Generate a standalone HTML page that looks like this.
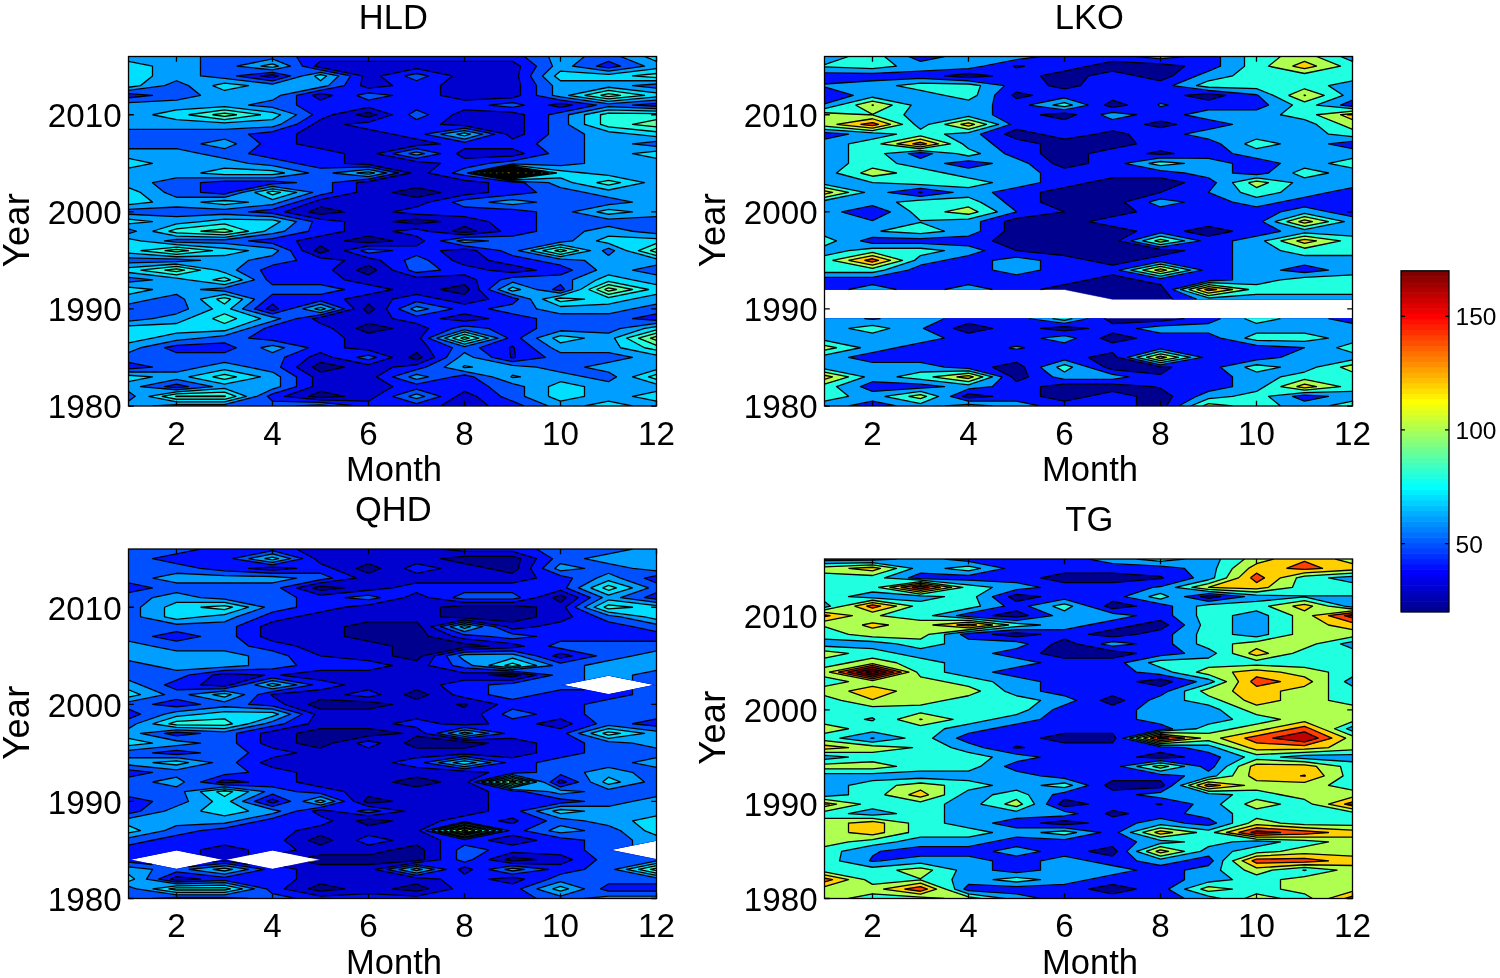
<!DOCTYPE html>
<html><head><meta charset="utf-8"><style>
html,body{margin:0;padding:0;background:#fff;}
svg{display:block;will-change:transform;}
text{font-family:"Liberation Sans",sans-serif;fill:#000;}
.t{font-size:33.2px;}
.l{font-size:34.5px;}
.c{font-size:24.5px;}
</style></head><body>
<svg width="1500" height="978" viewBox="0 0 1500 978">
<rect width="1500" height="978" fill="#fff"/>
<clipPath id="clipHLD"><rect x="128.5" y="56.5" width="528.0" height="349.5"/></clipPath>
<g clip-path="url(#clipHLD)">
<path fill="#00008f" stroke="#00008f" stroke-width="0.6" fill-rule="evenodd" d="M128.5,406L176.5,406L224.5,406L272.5,406L320.5,406L368.5,406L416.5,406L464.5,406L512.5,406L560.5,406L608.5,406L656.5,406L656.5,396.29L656.5,386.58L656.5,376.88L656.5,367.17L656.5,357.46L656.5,347.75L656.5,338.04L656.5,328.33L656.5,318.62L656.5,308.92L656.5,299.21L656.5,289.5L656.5,279.79L656.5,270.08L656.5,260.38L656.5,250.67L656.5,240.96L656.5,231.25L656.5,221.54L656.5,211.83L656.5,202.12L656.5,192.42L656.5,182.71L656.5,173L656.5,163.29L656.5,153.58L656.5,143.88L656.5,134.17L656.5,124.46L656.5,114.75L656.5,105.04L656.5,95.33L656.5,85.62L656.5,75.92L656.5,66.21L656.5,56.5L608.5,56.5L560.5,56.5L512.5,56.5L464.5,56.5L416.5,56.5L368.5,56.5L320.5,56.5L272.5,56.5L224.5,56.5L176.5,56.5L128.5,56.5L128.5,66.21L128.5,75.92L128.5,85.62L128.5,95.33L128.5,105.04L128.5,114.75L128.5,124.46L128.5,134.17L128.5,143.88L128.5,153.58L128.5,163.29L128.5,173L128.5,182.71L128.5,192.42L128.5,202.12L128.5,211.83L128.5,221.54L128.5,231.25L128.5,240.96L128.5,250.67L128.5,260.38L128.5,270.08L128.5,279.79L128.5,289.5L128.5,299.21L128.5,308.92L128.5,318.62L128.5,328.33L128.5,338.04L128.5,347.75L128.5,357.46L128.5,367.17L128.5,376.88L128.5,386.58L128.5,396.29L128.5,406Z"/>
<path fill="#0000cf" stroke="#0000cf" stroke-width="0.6" fill-rule="evenodd" d="M128.5,406L176.5,406L224.5,406L272.5,406L320.5,406L368.5,406L416.5,406L464.5,406L512.5,406L560.5,406L608.5,406L656.5,406L656.5,396.29L656.5,386.58L656.5,376.88L656.5,367.17L656.5,357.46L656.5,347.75L656.5,338.04L656.5,328.33L656.5,318.62L656.5,308.92L656.5,299.21L656.5,289.5L656.5,279.79L656.5,270.08L656.5,260.38L656.5,250.67L656.5,240.96L656.5,231.25L656.5,221.54L656.5,211.83L656.5,202.12L656.5,192.42L656.5,182.71L656.5,173L656.5,163.29L656.5,153.58L656.5,143.88L656.5,134.17L656.5,124.46L656.5,114.75L656.5,105.04L656.5,95.33L656.5,85.62L656.5,75.92L656.5,66.21L656.5,56.5L608.5,56.5L560.5,56.5L512.5,56.5L464.5,56.5L416.5,56.5L368.5,56.5L320.5,56.5L272.5,56.5L224.5,56.5L176.5,56.5L128.5,56.5L128.5,66.21L128.5,75.92L128.5,85.62L128.5,95.33L128.5,105.04L128.5,114.75L128.5,124.46L128.5,134.17L128.5,143.88L128.5,153.58L128.5,163.29L128.5,173L128.5,182.71L128.5,192.42L128.5,202.12L128.5,211.83L128.5,221.54L128.5,231.25L128.5,240.96L128.5,250.67L128.5,260.38L128.5,270.08L128.5,279.79L128.5,289.5L128.5,299.21L128.5,308.92L128.5,318.62L128.5,328.33L128.5,338.04L128.5,347.75L128.5,357.46L128.5,367.17L128.5,376.88L128.5,386.58L128.5,396.29L128.5,406ZM320.5,397.51L308.5,396.29L320.5,391.44L344.5,396.29L320.5,397.51ZM368.5,333.19L356.5,328.33L368.5,323.48L392.5,328.33L368.5,333.19ZM416.5,359.89L408.5,357.46L416.5,352.6L422.5,357.46L416.5,359.89ZM464.5,294.35L440.5,289.5L464.5,284.65L469.3,289.5L464.5,294.35ZM320.5,372.02L312.5,367.17L320.5,362.31L344.5,367.17L320.5,372.02ZM368.5,313.77L363.7,308.92L368.5,304.06L374.5,308.92L368.5,313.77ZM416.5,223.97L392.5,221.54L416.5,219.11L440.5,221.54L416.5,223.97ZM464.5,232.46L452.5,231.25L464.5,226.4L476.5,231.25L464.5,232.46ZM320.5,253.09L314.5,250.67L320.5,245.81L328.5,250.67L320.5,253.09ZM368.5,274.94L356.5,270.08L368.5,265.23L376.5,270.08L368.5,274.94ZM416.5,197.27L392.5,192.42L416.5,187.56L440.5,192.42L416.5,197.27ZM320.5,214.26L308.5,211.83L320.5,206.98L344.5,211.83L320.5,214.26ZM368.5,242.58L344.5,240.96L368.5,236.1L392.5,240.96L368.5,242.58ZM368.5,117.18L356.5,114.75L368.5,112.32L376.5,114.75L368.5,117.18Z"/>
<path fill="#0010ff" stroke="#0010ff" stroke-width="0.6" fill-rule="evenodd" d="M128.5,406L176.5,406L224.5,406L272.5,406L320.5,406L368.5,406L416.5,406L440.5,406L456.5,396.29L464.5,391.44L476.5,396.29L488.5,406L512.5,406L560.5,406L608.5,406L656.5,406L656.5,396.29L656.5,386.58L656.5,376.88L656.5,367.17L656.5,357.46L656.5,347.75L656.5,338.04L656.5,328.33L656.5,318.62L656.5,308.92L656.5,299.21L656.5,289.5L656.5,279.79L656.5,270.08L656.5,260.38L656.5,250.67L656.5,240.96L656.5,231.25L656.5,221.54L656.5,211.83L656.5,202.12L656.5,192.42L656.5,182.71L656.5,173L656.5,163.29L656.5,153.58L656.5,143.88L656.5,134.17L656.5,124.46L656.5,114.75L656.5,105.04L656.5,95.33L656.5,85.62L656.5,75.92L656.5,66.21L656.5,56.5L608.5,56.5L560.5,56.5L512.5,56.5L464.5,56.5L416.5,56.5L368.5,56.5L320.5,56.5L272.5,56.5L224.5,56.5L176.5,56.5L128.5,56.5L128.5,66.21L128.5,75.92L128.5,85.62L128.5,95.33L128.5,105.04L128.5,114.75L128.5,124.46L128.5,134.17L128.5,143.88L128.5,153.58L128.5,163.29L128.5,173L128.5,182.71L128.5,192.42L128.5,202.12L128.5,211.83L128.5,221.54L128.5,231.25L128.5,240.96L128.5,250.67L128.5,260.38L128.5,270.08L128.5,279.79L128.5,289.5L128.5,299.21L128.5,308.92L128.5,318.62L128.5,328.33L128.5,338.04L128.5,347.75L128.5,357.46L128.5,367.17L128.5,376.88L128.5,386.58L128.5,396.29L128.5,406ZM272.5,310.53L266.5,308.92L272.5,304.06L278.5,308.92L272.5,310.53ZM320.5,399.93L284.5,396.29L312.5,386.58L312.5,376.88L296.5,367.17L308.5,357.46L320.5,352.6L332.5,357.46L368.5,364.74L392.5,357.46L368.5,350.18L344.5,347.75L344.5,338.04L332.5,328.33L320.5,323.48L312.5,318.62L320.5,317.41L354.1,308.92L344.5,299.21L368.5,294.35L392.5,289.5L368.5,284.65L344.5,279.79L332.5,270.08L344.5,260.38L320.5,257.95L302.5,250.67L296.5,240.96L320.5,236.1L344.5,231.25L344.5,221.54L320.5,219.11L284.5,211.83L312.5,202.12L320.5,199.7L356.5,192.42L356.5,182.71L368.5,181.49L410.5,173L368.5,164.51L344.5,163.29L344.5,153.58L320.5,148.73L296.5,143.88L296.5,134.17L312.5,124.46L320.5,119.6L332.5,114.75L368.5,107.47L392.5,114.75L368.5,122.03L344.5,124.46L368.5,129.31L392.5,134.17L416.5,139.02L440.5,143.88L416.5,145.49L376.5,153.58L416.5,161.67L440.5,163.29L428.5,173L464.5,180.28L488.5,182.71L488.5,192.42L464.5,194.84L428.5,202.12L416.5,206.98L392.5,211.83L416.5,214.26L464.5,216.69L488.5,221.54L500.5,231.25L464.5,234.89L428.5,231.25L416.5,228.82L392.5,231.25L416.5,236.1L424.5,240.96L416.5,245.81L368.5,245.81L344.5,250.67L368.5,257.95L380.5,260.38L392.5,270.08L416.5,277.36L464.5,274.94L476.5,279.79L478.9,289.5L488.5,299.21L464.5,304.06L440.5,299.21L416.5,294.35L392.5,299.21L386.5,308.92L392.5,318.62L416.5,323.48L428.5,328.33L420.5,338.04L428.5,347.75L434.5,357.46L416.5,364.74L392.5,367.17L376.5,376.88L392.5,386.58L376.5,396.29L368.5,401.15L320.5,399.93ZM464.5,321.05L440.5,318.62L464.5,313.77L488.5,318.62L464.5,321.05ZM512.5,357.83L510.65,357.46L509.5,347.75L512.5,346.13L514.35,347.75L515.5,357.46L512.5,357.83ZM560.5,107.47L548.5,105.04L560.5,103.42L572.5,105.04L560.5,107.47ZM272.5,77.53L260.5,75.92L272.5,74.7L278.5,75.92L272.5,77.53ZM320.5,100.19L312.5,95.33L320.5,93.72L332.5,95.33L320.5,100.19ZM464.5,158.44L456.5,153.58L464.5,148.73L512.5,148.73L524.5,153.58L512.5,156.01L464.5,158.44ZM512.5,272.51L488.5,270.08L464.5,265.23L452.5,260.38L440.5,250.67L464.5,249.05L476.5,250.67L488.5,260.38L512.5,265.23L536.5,270.08L512.5,272.51ZM512.5,139.02L506.5,134.17L464.5,125.67L440.5,124.46L452.5,114.75L464.5,109.9L512.5,112.32L524.5,114.75L524.5,124.46L524.5,134.17L512.5,139.02ZM464.5,100.19L440.5,95.33L440.5,85.62L452.5,75.92L416.5,68.64L380.5,75.92L392.5,85.62L368.5,88.05L360.5,85.62L362.5,75.92L320.5,67.42L314.5,66.21L320.5,61.35L368.5,61.35L416.5,61.35L464.5,61.35L512.5,61.35L520.5,66.21L518.5,75.92L520.5,85.62L520.5,95.33L512.5,97.76L464.5,100.19Z"/>
<path fill="#0050ff" stroke="#0050ff" stroke-width="0.6" fill-rule="evenodd" d="M128.5,406L176.5,406L224.5,406L272.5,406L320.5,406L356.5,406L320.5,402.36L272.5,401.15L267.28,396.29L272.5,393.86L296.5,386.58L296.5,376.88L280.5,367.17L284.5,357.46L308.5,347.75L272.5,340.47L248.5,338.04L264.5,328.33L272.5,325.91L296.5,318.62L320.5,314.98L344.5,308.92L320.5,300.83L290.5,308.92L272.5,313.77L254.5,308.92L266.5,299.21L272.5,294.35L320.5,294.35L344.5,289.5L320.5,284.65L272.5,284.65L266.5,279.79L260.5,270.08L272.5,265.23L296.5,260.38L290.5,250.67L272.5,243.39L248.5,240.96L272.5,238.53L308.5,231.25L312.5,221.54L272.5,213.45L248.5,211.83L272.5,209.41L296.5,202.12L320.5,194.84L332.5,192.42L332.5,182.71L368.5,179.07L398.5,173L368.5,166.93L320.5,168.15L296.5,163.29L272.5,158.44L248.5,153.58L260.5,143.88L248.5,134.17L272.5,131.74L296.5,124.46L312.5,114.75L296.5,105.04L296.5,95.33L320.5,90.48L344.5,85.62L350.5,75.92L320.5,69.85L302.5,66.21L296.5,56.5L272.5,56.5L224.5,56.5L176.5,56.5L128.5,56.5L128.5,66.21L128.5,75.92L128.5,85.62L128.5,93.72L152.5,95.33L128.5,97.76L128.5,105.04L128.5,114.75L128.5,124.46L128.5,134.17L128.5,143.88L128.5,153.58L128.5,163.29L128.5,173L128.5,182.71L128.5,192.42L128.5,202.12L128.5,211.83L128.5,221.54L128.5,231.25L128.5,240.96L128.5,250.67L128.5,260.38L128.5,270.08L128.5,279.79L128.5,289.5L128.5,299.21L128.5,308.92L128.5,318.62L128.5,328.33L128.5,338.04L128.5,347.75L128.5,357.46L128.5,362.31L152.5,367.17L128.5,368.78L128.5,376.88L128.5,386.58L128.5,396.29L128.5,406ZM176.5,387.64L164.5,386.58L176.5,384.16L188.5,386.58L176.5,387.64ZM272.5,80.77L236.5,75.92L272.5,72.28L290.5,75.92L272.5,80.77ZM176.5,352.6L164.5,347.75L176.5,345.32L224.5,342.9L236.5,347.75L224.5,352.6L176.5,352.6ZM224.5,194.03L200.5,192.42L200.5,182.71L224.5,181.09L272.5,181.09L296.5,182.71L272.5,183.92L230.5,192.42L224.5,194.03ZM392.5,396.29L416.5,403.57L440.5,396.29L416.5,389.01L392.5,396.29ZM500.5,396.29L512.5,401.15L524.5,406L560.5,406L608.5,406L656.5,406L656.5,396.29L656.5,386.58L656.5,376.88L656.5,367.17L656.5,357.46L656.5,347.75L656.5,338.04L656.5,328.33L656.5,320.24L632.5,318.62L656.5,313.77L656.5,308.92L656.5,299.21L656.5,289.5L656.5,279.79L656.5,270.08L656.5,260.38L656.5,250.67L656.5,240.96L656.5,231.25L656.5,221.54L656.5,211.83L656.5,202.12L656.5,192.42L656.5,182.71L656.5,173L656.5,163.29L656.5,153.58L656.5,143.88L656.5,134.17L656.5,124.46L656.5,114.75L656.5,106.26L632.5,105.04L656.5,103.42L656.5,95.33L656.5,85.62L656.5,75.92L656.5,66.21L656.5,56.5L608.5,56.5L560.5,56.5L524.5,56.5L536.5,66.21L530.5,75.92L536.5,85.62L536.5,95.33L560.5,100.19L596.5,105.04L560.5,112.32L548.5,114.75L548.5,124.46L548.5,134.17L536.5,143.88L548.5,153.58L512.5,160.86L488.5,163.29L464.5,168.15L452.5,173L464.5,175.43L512.5,182.17L524.5,182.71L536.5,192.42L512.5,194.84L464.5,199.7L452.5,202.12L464.5,206.98L512.5,209.41L536.5,211.83L536.5,221.54L536.5,231.25L512.5,236.1L464.5,237.32L440.5,240.96L464.5,245.81L500.5,250.67L512.5,255.52L536.5,260.38L560.5,265.23L572.5,270.08L560.5,274.94L512.5,277.36L500.5,279.79L488.5,289.5L512.5,297.59L518.5,299.21L512.5,304.06L488.5,308.92L512.5,313.77L536.5,318.62L536.5,328.33L520.5,338.04L532.81,347.75L545.5,357.46L512.5,361.57L492.19,357.46L479.5,347.75L507.7,338.04L488.5,328.33L464.5,325.91L452.5,328.33L428.5,338.04L452.5,347.75L446.5,357.46L425.73,367.17L416.5,369.59L392.5,376.88L416.5,384.16L452.5,376.88L464.5,375.01L473.73,376.88L488.5,386.58L500.5,396.29ZM560.5,290.71L552.5,289.5L560.5,284.65L564.5,289.5L560.5,290.71ZM608.5,67.83L596.5,66.21L608.5,61.35L620.5,66.21L608.5,67.83ZM356.5,357.46L368.5,359.89L376.5,357.46L368.5,355.03L356.5,357.46ZM398.5,308.92L416.5,316.2L452.5,308.92L416.5,301.64L398.5,308.92ZM408.5,270.08L416.5,272.51L440.5,270.08L428.5,260.38L416.5,255.52L404.5,260.38L408.5,270.08ZM360.5,250.67L368.5,253.09L392.5,250.67L368.5,249.05L360.5,250.67ZM392.5,153.58L416.5,158.44L440.5,153.58L416.5,148.73L392.5,153.58ZM424.5,134.17L464.5,142.26L494.5,134.17L464.5,128.1L424.5,134.17ZM408.5,114.75L416.5,119.6L428.5,114.75L416.5,109.9L408.5,114.75ZM488.5,105.04L512.5,107.47L524.5,105.04L512.5,102.61L488.5,105.04ZM356.5,95.33L368.5,100.19L392.5,95.33L368.5,92.91L356.5,95.33ZM404.5,75.92L416.5,80.77L428.5,75.92L416.5,73.49L404.5,75.92Z"/>
<path fill="#009fff" stroke="#009fff" stroke-width="0.6" fill-rule="evenodd" d="M128.5,406L152.5,406L176.5,404.65L224.5,404.65L256.85,396.29L272.5,389.01L280.5,386.58L280.5,376.88L272.5,372.02L248.5,367.17L224.5,362.31L200.5,367.17L176.5,372.02L128.5,372.02L128.5,376.88L128.5,386.58L128.5,391.44L135.17,396.29L128.5,401.15L128.5,406ZM176.5,389.75L140.5,386.58L176.5,379.3L212.5,386.58L176.5,389.75ZM296.5,406L320.5,406L332.5,406L320.5,404.79L296.5,406ZM408.5,396.29L416.5,398.72L424.5,396.29L416.5,393.86L408.5,396.29ZM548.5,406L560.5,406L608.5,406L656.5,406L656.5,396.29L656.5,386.58L656.5,376.88L656.5,367.17L656.5,357.46L656.5,347.75L656.5,338.04L656.5,328.33L656.5,323.48L620.5,328.33L608.5,333.19L560.5,330.76L536.5,338.04L551.27,347.75L560.5,352.6L608.5,352.6L632.5,357.46L608.5,362.31L584.5,367.17L608.5,372.02L616.5,376.88L608.5,381.73L584.5,376.88L560.5,372.02L536.5,367.17L512.5,365.3L473.73,357.46L464.5,352.6L458.5,357.46L444.19,367.17L464.5,371.27L492.19,376.88L512.5,383.55L524.5,386.58L524.5,396.29L548.5,406ZM408.5,376.88L416.5,379.3L428.5,376.88L416.5,374.45L408.5,376.88ZM128.5,347.75L128.5,352.6L140.5,347.75L176.5,340.47L200.5,338.04L224.5,335.61L248.5,328.33L272.5,321.05L280.5,318.62L272.5,317.01L242.5,308.92L254.5,299.21L224.5,291.12L200.5,289.5L224.5,287.88L254.5,279.79L236.5,270.08L248.5,260.38L272.5,255.52L278.5,250.67L272.5,248.24L224.5,243.39L176.5,242.17L164.5,240.96L176.5,239.34L224.5,239.74L272.5,233.68L284.5,231.25L296.5,221.54L272.5,216.69L224.5,214.26L176.5,216.69L128.5,214.26L128.5,221.54L128.5,228.82L136.5,231.25L128.5,233.68L128.5,240.96L128.5,250.67L128.5,257.95L176.5,259.16L200.5,260.38L176.5,261.59L128.5,262.8L128.5,270.08L128.5,277.36L152.5,279.79L128.5,282.22L128.5,289.5L128.5,299.21L128.5,304.06L152.5,299.21L176.5,294.35L184.5,299.21L188.5,308.92L176.5,313.77L152.5,318.62L128.5,321.05L128.5,328.33L128.5,338.04L128.5,347.75ZM260.5,347.75L272.5,352.6L284.5,347.75L272.5,345.32L260.5,347.75ZM436.5,338.04L464.5,346.54L498.1,338.04L464.5,329.55L436.5,338.04ZM302.5,308.92L320.5,312.56L334.9,308.92L320.5,304.06L302.5,308.92ZM410.5,308.92L416.5,311.34L428.5,308.92L416.5,306.49L410.5,308.92ZM536.5,308.92L560.5,313.77L608.5,313.77L632.5,308.92L656.5,304.06L656.5,299.21L656.5,289.5L656.5,279.79L656.5,274.94L632.5,270.08L656.5,265.23L656.5,260.38L656.5,250.67L656.5,240.96L656.5,233.68L632.5,231.25L608.5,226.4L584.5,231.25L572.5,240.96L560.5,242.17L518.5,250.67L560.5,259.16L584.5,260.38L596.5,270.08L572.5,279.79L572.5,289.5L560.5,293.14L536.5,289.5L512.5,282.22L498.1,289.5L512.5,294.35L530.5,299.21L536.5,308.92ZM608.5,255.52L602.5,250.67L608.5,248.24L614.5,250.67L608.5,255.52ZM456.5,240.96L464.5,242.58L488.5,240.96L464.5,239.74L456.5,240.96ZM572.5,211.83L608.5,219.11L656.5,216.69L656.5,211.83L656.5,202.12L656.5,192.42L656.5,182.71L656.5,173L656.5,163.29L656.5,153.58L656.5,146.3L632.5,143.88L656.5,141.45L656.5,134.17L656.5,124.46L656.5,114.75L656.5,108.68L608.5,106.66L568.5,114.75L568.5,124.46L584.5,134.17L584.5,143.88L584.5,153.58L584.5,163.29L560.5,165.72L512.5,163.9L467.5,173L512.5,181.09L548.5,182.71L560.5,187.56L584.5,192.42L608.5,197.27L632.5,202.12L608.5,204.55L572.5,211.83ZM128.5,202.12L128.5,209.41L176.5,206.98L224.5,209.41L272.5,204.55L280.5,202.12L312.5,192.42L272.5,186.35L242.5,192.42L224.5,197.27L176.5,197.27L164.5,192.42L152.5,182.71L176.5,177.85L224.5,177.85L272.5,177.85L308.5,173L272.5,165.72L248.5,163.29L224.5,158.44L200.5,153.58L176.5,148.73L128.5,148.73L128.5,153.58L128.5,163.29L128.5,173L128.5,182.71L128.5,192.42L128.5,202.12ZM488.5,202.12L512.5,204.55L536.5,202.12L512.5,199.7L488.5,202.12ZM332.5,173L368.5,176.64L386.5,173L368.5,169.36L332.5,173ZM408.5,153.58L416.5,155.2L424.5,153.58L416.5,151.97L408.5,153.58ZM200.5,143.88L224.5,148.73L236.5,143.88L224.5,139.02L200.5,143.88ZM440.5,134.17L464.5,139.02L482.5,134.17L464.5,130.53L440.5,134.17ZM128.5,124.46L128.5,129.31L176.5,129.31L224.5,129.31L272.5,126.89L280.5,124.46L296.5,114.75L272.5,107.47L248.5,105.04L272.5,100.19L280.5,95.33L320.5,87.24L328.5,85.62L338.5,75.92L320.5,72.28L302.5,75.92L272.5,84.01L224.5,78.34L200.5,75.92L200.5,66.21L200.5,56.5L176.5,56.5L128.5,56.5L128.5,66.21L128.5,75.92L128.5,85.62L128.5,90.48L164.5,85.62L176.5,80.77L188.5,85.62L200.5,95.33L176.5,100.19L128.5,102.61L128.5,105.04L128.5,114.75L128.5,124.46ZM552.5,95.33L560.5,96.95L608.5,103.83L656.5,100.19L656.5,95.33L656.5,88.05L632.5,85.62L656.5,84.01L656.5,75.92L656.5,66.21L656.5,56.5L620.5,56.5L644.5,66.21L608.5,71.06L572.5,66.21L584.5,56.5L560.5,56.5L548.5,56.5L552.5,66.21L542.5,75.92L552.5,85.62L552.5,95.33ZM236.5,66.21L272.5,69.85L290.5,66.21L272.5,58.93L236.5,66.21Z"/>
<path fill="#00dfff" stroke="#00dfff" stroke-width="0.6" fill-rule="evenodd" d="M148.5,396.29L176.5,401.95L224.5,401.95L246.41,396.29L224.5,388.45L176.5,391.86L148.5,396.29ZM548.5,396.29L560.5,401.15L584.5,396.29L584.5,386.58L560.5,381.73L548.5,386.58L548.5,396.29ZM584.5,406L608.5,406L632.5,406L608.5,401.15L584.5,406ZM632.5,396.29L656.5,401.15L656.5,396.29L656.5,391.44L632.5,396.29ZM128.5,376.88L128.5,381.73L152.5,376.88L128.5,375.26L128.5,376.88ZM188.5,376.88L224.5,384.16L260.5,376.88L224.5,369.59L188.5,376.88ZM510.65,376.88L512.5,377.48L520.5,376.88L512.5,375.26L510.65,376.88ZM632.5,376.88L656.5,384.16L656.5,376.88L656.5,369.59L632.5,376.88ZM462.65,367.17L464.5,367.54L472.5,367.17L464.5,365.55L462.65,367.17ZM620.5,347.75L656.5,355.03L656.5,347.75L656.5,338.04L656.5,328.33L656.5,326.72L644.5,328.33L614.5,338.04L620.5,347.75ZM128.5,338.04L128.5,342.9L152.5,338.04L176.5,333.19L224.5,330.76L232.5,328.33L260.5,318.62L230.5,308.92L242.5,299.21L224.5,294.35L200.5,299.21L212.5,308.92L188.5,318.62L176.5,323.48L128.5,325.91L128.5,328.33L128.5,338.04ZM444.5,338.04L464.5,344.11L488.5,338.04L464.5,331.97L444.5,338.04ZM552.5,338.04L560.5,342.9L584.5,338.04L560.5,335.61L552.5,338.04ZM314.5,308.92L320.5,310.13L325.3,308.92L320.5,307.3L314.5,308.92ZM542.5,299.21L560.5,306.49L608.5,304.06L632.5,299.21L656.5,294.35L656.5,289.5L656.5,284.65L632.5,279.79L608.5,274.94L596.5,279.79L580.5,289.5L560.5,295.57L542.5,299.21ZM128.5,289.5L128.5,294.35L152.5,289.5L128.5,287.07L128.5,289.5ZM507.7,289.5L512.5,291.12L520.5,289.5L512.5,287.07L507.7,289.5ZM188.5,279.79L224.5,284.65L242.5,279.79L224.5,272.51L216.5,270.08L176.5,264.02L128.5,267.66L128.5,270.08L128.5,272.51L176.5,278.17L188.5,279.79ZM128.5,250.67L128.5,253.09L176.5,256.73L224.5,255.52L248.5,250.67L224.5,248.24L176.5,244.6L140.5,240.96L128.5,238.53L128.5,240.96L128.5,250.67ZM530.5,250.67L560.5,256.73L590.5,250.67L560.5,244.6L530.5,250.67ZM626.5,250.67L656.5,258.76L656.5,250.67L656.5,240.96L656.5,238.53L608.5,236.1L596.5,240.96L608.5,243.39L626.5,250.67ZM152.5,231.25L176.5,236.1L224.5,237.32L264.5,231.25L272.5,226.4L280.5,221.54L272.5,219.92L224.5,219.11L200.5,221.54L176.5,223.97L152.5,231.25ZM128.5,221.54L128.5,223.97L152.5,221.54L128.5,219.11L128.5,221.54ZM596.5,211.83L608.5,214.26L632.5,211.83L608.5,209.41L596.5,211.83ZM128.5,202.12L128.5,204.55L152.5,202.12L140.5,192.42L128.5,187.56L128.5,192.42L128.5,202.12ZM200.5,202.12L224.5,204.55L248.5,202.12L224.5,200.51L200.5,202.12ZM254.5,192.42L272.5,199.7L296.5,192.42L272.5,188.78L254.5,192.42ZM572.5,182.71L608.5,189.99L644.5,182.71L608.5,175.43L584.5,173L560.5,170.57L512.5,165.11L473.5,173L512.5,180.01L560.5,177.85L572.5,182.71ZM200.5,173L224.5,174.62L272.5,174.62L284.5,173L272.5,170.57L224.5,168.15L200.5,173ZM356.5,173L368.5,174.21L374.5,173L368.5,171.79L356.5,173ZM128.5,163.29L128.5,168.15L152.5,163.29L128.5,158.44L128.5,163.29ZM632.5,153.58L656.5,158.44L656.5,153.58L656.5,151.16L632.5,153.58ZM456.5,134.17L464.5,135.78L470.5,134.17L464.5,132.95L456.5,134.17ZM632.5,134.17L656.5,136.59L656.5,134.17L656.5,124.46L656.5,114.75L656.5,111.11L608.5,109.9L584.5,114.75L584.5,124.46L608.5,131.74L632.5,134.17ZM152.5,114.75L176.5,119.6L224.5,122.84L272.5,119.6L280.5,114.75L272.5,112.32L224.5,106.66L176.5,109.9L152.5,114.75ZM568.5,95.33L608.5,101.4L656.5,96.95L656.5,95.33L656.5,92.91L608.5,87.24L568.5,95.33ZM128.5,85.62L128.5,87.24L140.5,85.62L152.5,75.92L152.5,66.21L128.5,61.35L128.5,66.21L128.5,75.92L128.5,85.62ZM212.5,85.62L224.5,90.48L248.5,85.62L224.5,83.2L212.5,85.62ZM314.5,75.92L320.5,80.77L326.5,75.92L320.5,74.7L314.5,75.92ZM554.5,75.92L560.5,80.77L608.5,80.77L656.5,80.77L656.5,75.92L656.5,68.64L608.5,74.3L560.5,71.06L554.5,75.92ZM260.5,66.21L272.5,67.42L278.5,66.21L272.5,63.78L260.5,66.21ZM644.5,56.5L656.5,61.35L656.5,56.5L644.5,56.5Z"/>
<path fill="#20ffdf" stroke="#20ffdf" stroke-width="0.6" fill-rule="evenodd" d="M161.83,396.29L176.5,399.26L224.5,399.26L235.98,396.29L224.5,392.18L176.5,393.97L161.83,396.29ZM212.5,376.88L224.5,379.3L236.5,376.88L224.5,374.45L212.5,376.88ZM648.5,376.88L656.5,379.3L656.5,376.88L656.5,374.45L648.5,376.88ZM644.5,347.75L656.5,350.18L656.5,347.75L656.5,338.04L656.5,329.95L626.5,338.04L644.5,347.75ZM452.5,338.04L464.5,341.68L478.9,338.04L464.5,334.4L452.5,338.04ZM212.5,318.62L224.5,323.48L236.5,318.62L224.5,313.77L212.5,318.62ZM216.5,299.21L224.5,304.06L230.5,299.21L224.5,297.59L216.5,299.21ZM554.5,299.21L560.5,301.64L584.5,299.21L560.5,297.99L554.5,299.21ZM588.5,289.5L608.5,297.59L648.5,289.5L608.5,281.41L588.5,289.5ZM212.5,279.79L224.5,281.41L230.5,279.79L224.5,277.36L212.5,279.79ZM140.5,270.08L176.5,274.94L200.5,270.08L176.5,266.44L140.5,270.08ZM140.5,250.67L176.5,254.31L212.5,250.67L176.5,247.03L140.5,250.67ZM542.5,250.67L560.5,254.31L578.5,250.67L560.5,247.03L542.5,250.67ZM638.5,250.67L656.5,255.52L656.5,250.67L656.5,243.39L638.5,250.67ZM168.5,231.25L176.5,232.87L224.5,234.89L248.5,231.25L224.5,223.97L176.5,228.82L168.5,231.25ZM266.5,192.42L272.5,194.84L280.5,192.42L272.5,191.2L266.5,192.42ZM596.5,182.71L608.5,185.14L620.5,182.71L608.5,180.28L596.5,182.71ZM479.5,173L512.5,178.93L556.5,173L512.5,166.33L479.5,173ZM600.5,124.46L608.5,126.89L656.5,131.74L656.5,124.46L656.5,114.75L656.5,113.54L608.5,113.13L600.5,114.75L600.5,124.46ZM188.5,114.75L224.5,119.6L260.5,114.75L224.5,109.9L188.5,114.75ZM584.5,95.33L608.5,98.97L644.5,95.33L608.5,90.48L584.5,95.33ZM632.5,75.92L656.5,77.53L656.5,75.92L656.5,73.49L632.5,75.92Z"/>
<path fill="#60ff9f" stroke="#60ff9f" stroke-width="0.6" fill-rule="evenodd" d="M175.17,396.29L176.5,396.56L224.5,396.56L225.54,396.29L224.5,395.92L176.5,396.08L175.17,396.29ZM460.5,338.04L464.5,339.26L469.3,338.04L464.5,336.83L460.5,338.04ZM638.5,338.04L656.5,345.32L656.5,338.04L656.5,333.19L638.5,338.04ZM596.5,289.5L608.5,294.35L632.5,289.5L608.5,284.65L596.5,289.5ZM164.5,270.08L176.5,271.7L184.5,270.08L176.5,268.87L164.5,270.08ZM164.5,250.67L176.5,251.88L188.5,250.67L176.5,249.45L164.5,250.67ZM554.5,250.67L560.5,251.88L566.5,250.67L560.5,249.45L554.5,250.67ZM650.5,250.67L656.5,252.28L656.5,250.67L656.5,248.24L650.5,250.67ZM200.5,231.25L224.5,232.46L232.5,231.25L224.5,228.82L200.5,231.25ZM485.5,173L512.5,177.85L548.5,173L512.5,167.54L485.5,173ZM632.5,124.46L656.5,126.89L656.5,124.46L656.5,119.6L632.5,124.46ZM212.5,114.75L224.5,116.37L236.5,114.75L224.5,113.13L212.5,114.75ZM600.5,95.33L608.5,96.55L620.5,95.33L608.5,93.72L600.5,95.33Z"/>
<path fill="#afff50" stroke="#afff50" stroke-width="0.6" fill-rule="evenodd" d="M650.5,338.04L656.5,340.47L656.5,338.04L656.5,336.42L650.5,338.04ZM604.5,289.5L608.5,291.12L616.5,289.5L608.5,287.88L604.5,289.5ZM491.5,173L512.5,176.78L540.5,173L512.5,168.75L491.5,173Z"/>
<path fill="#efff10" stroke="#efff10" stroke-width="0.6" fill-rule="evenodd" d="M497.5,173L512.5,175.7L532.5,173L512.5,169.97L497.5,173Z"/>
<path fill="#ffcf00" stroke="#ffcf00" stroke-width="0.6" fill-rule="evenodd" d="M503.5,173L512.5,174.62L524.5,173L512.5,171.18L503.5,173Z"/>
<path fill="#ff8f00" stroke="#ff8f00" stroke-width="0.6" fill-rule="evenodd" d="M509.5,173L512.5,173.54L516.5,173L512.5,172.39L509.5,173Z"/>
<path fill="none" stroke="#000" stroke-width="1.3" stroke-linejoin="round" d="M320.5,397.51L308.5,396.29L320.5,391.44L344.5,396.29L320.5,397.51M320.5,372.02L312.5,367.17L320.5,362.31L344.5,367.17L320.5,372.02M416.5,359.89L408.5,357.46L416.5,352.6L422.5,357.46L416.5,359.89M368.5,333.19L356.5,328.33L368.5,323.48L392.5,328.33L368.5,333.19M368.5,313.77L363.7,308.92L368.5,304.06L374.5,308.92L368.5,313.77M464.5,294.35L440.5,289.5L464.5,284.65L469.3,289.5L464.5,294.35M368.5,274.94L356.5,270.08L368.5,265.23L376.5,270.08L368.5,274.94M320.5,253.09L314.5,250.67L320.5,245.81L328.5,250.67L320.5,253.09M368.5,242.58L344.5,240.96L368.5,236.1L392.5,240.96L368.5,242.58M464.5,232.46L452.5,231.25L464.5,226.4L476.5,231.25L464.5,232.46M416.5,223.97L392.5,221.54L416.5,219.11L440.5,221.54L416.5,223.97M320.5,214.26L308.5,211.83L320.5,206.98L344.5,211.83L320.5,214.26M416.5,197.27L392.5,192.42L416.5,187.56L440.5,192.42L416.5,197.27M368.5,117.18L356.5,114.75L368.5,112.32L376.5,114.75L368.5,117.18M320.5,399.93L284.5,396.29L312.5,386.58L312.5,376.88L296.5,367.17L308.5,357.46L320.5,352.6L332.5,357.46L368.5,364.74L392.5,357.46L368.5,350.18L344.5,347.75L344.5,338.04L332.5,328.33L320.5,323.48L312.5,318.62L320.5,317.41L354.1,308.92L344.5,299.21L368.5,294.35L392.5,289.5L368.5,284.65L344.5,279.79L332.5,270.08L344.5,260.38L320.5,257.95L302.5,250.67L296.5,240.96L320.5,236.1L344.5,231.25L344.5,221.54L320.5,219.11L284.5,211.83L312.5,202.12L320.5,199.7L356.5,192.42L356.5,182.71L368.5,181.49L410.5,173L368.5,164.51L344.5,163.29L344.5,153.58L320.5,148.73L296.5,143.88L296.5,134.17L312.5,124.46L320.5,119.6L332.5,114.75L368.5,107.47L392.5,114.75L368.5,122.03L344.5,124.46L368.5,129.31L392.5,134.17L416.5,139.02L440.5,143.88L416.5,145.49L376.5,153.58L416.5,161.67L440.5,163.29L428.5,173L464.5,180.28L488.5,182.71L488.5,192.42L464.5,194.84L428.5,202.12L416.5,206.98L392.5,211.83L416.5,214.26L464.5,216.69L488.5,221.54L500.5,231.25L464.5,234.89L428.5,231.25L416.5,228.82L392.5,231.25L416.5,236.1L424.5,240.96L416.5,245.81L368.5,245.81L344.5,250.67L368.5,257.95L380.5,260.38L392.5,270.08L416.5,277.36L464.5,274.94L476.5,279.79L478.9,289.5L488.5,299.21L464.5,304.06L440.5,299.21L416.5,294.35L392.5,299.21L386.5,308.92L392.5,318.62L416.5,323.48L428.5,328.33L420.5,338.04L428.5,347.75L434.5,357.46L416.5,364.74L392.5,367.17L376.5,376.88L392.5,386.58L376.5,396.29L368.5,401.15L320.5,399.93M440.5,406L456.5,396.29L464.5,391.44L476.5,396.29L488.5,406M512.5,357.83L510.65,357.46L509.5,347.75L512.5,346.13L514.35,347.75L515.5,357.46L512.5,357.83M464.5,321.05L440.5,318.62L464.5,313.77L488.5,318.62L464.5,321.05M272.5,310.53L266.5,308.92L272.5,304.06L278.5,308.92L272.5,310.53M512.5,272.51L488.5,270.08L464.5,265.23L452.5,260.38L440.5,250.67L464.5,249.05L476.5,250.67L488.5,260.38L512.5,265.23L536.5,270.08L512.5,272.51M464.5,158.44L456.5,153.58L464.5,148.73L512.5,148.73L524.5,153.58L512.5,156.01L464.5,158.44M512.5,139.02L506.5,134.17L464.5,125.67L440.5,124.46L452.5,114.75L464.5,109.9L512.5,112.32L524.5,114.75L524.5,124.46L524.5,134.17L512.5,139.02M560.5,107.47L548.5,105.04L560.5,103.42L572.5,105.04L560.5,107.47M320.5,100.19L312.5,95.33L320.5,93.72L332.5,95.33L320.5,100.19M464.5,100.19L440.5,95.33L440.5,85.62L452.5,75.92L416.5,68.64L380.5,75.92L392.5,85.62L368.5,88.05L360.5,85.62L362.5,75.92L320.5,67.42L314.5,66.21L320.5,61.35L368.5,61.35L416.5,61.35L464.5,61.35L512.5,61.35L520.5,66.21L518.5,75.92L520.5,85.62L520.5,95.33L512.5,97.76L464.5,100.19M272.5,77.53L260.5,75.92L272.5,74.7L278.5,75.92L272.5,77.53M356.5,406L320.5,402.36L272.5,401.15L267.28,396.29L272.5,393.86L296.5,386.58L296.5,376.88L280.5,367.17L284.5,357.46L308.5,347.75L272.5,340.47L248.5,338.04L264.5,328.33L272.5,325.91L296.5,318.62L320.5,314.98L344.5,308.92L320.5,300.83L290.5,308.92L272.5,313.77L254.5,308.92L266.5,299.21L272.5,294.35L320.5,294.35L344.5,289.5L320.5,284.65L272.5,284.65L266.5,279.79L260.5,270.08L272.5,265.23L296.5,260.38L290.5,250.67L272.5,243.39L248.5,240.96L272.5,238.53L308.5,231.25L312.5,221.54L272.5,213.45L248.5,211.83L272.5,209.41L296.5,202.12L320.5,194.84L332.5,192.42L332.5,182.71L368.5,179.07L398.5,173L368.5,166.93L320.5,168.15L296.5,163.29L272.5,158.44L248.5,153.58L260.5,143.88L248.5,134.17L272.5,131.74L296.5,124.46L312.5,114.75L296.5,105.04L296.5,95.33L320.5,90.48L344.5,85.62L350.5,75.92L320.5,69.85L302.5,66.21L296.5,56.5M392.5,396.29L416.5,403.57L440.5,396.29L416.5,389.01L392.5,396.29M176.5,387.64L164.5,386.58L176.5,384.16L188.5,386.58L176.5,387.64M128.5,362.31L152.5,367.17L128.5,368.78M356.5,357.46L368.5,359.89L376.5,357.46L368.5,355.03L356.5,357.46M176.5,352.6L164.5,347.75L176.5,345.32L224.5,342.9L236.5,347.75L224.5,352.6L176.5,352.6M656.5,320.24L632.5,318.62L656.5,313.77M398.5,308.92L416.5,316.2L452.5,308.92L416.5,301.64L398.5,308.92M560.5,290.71L552.5,289.5L560.5,284.65L564.5,289.5L560.5,290.71M408.5,270.08L416.5,272.51L440.5,270.08L428.5,260.38L416.5,255.52L404.5,260.38L408.5,270.08M360.5,250.67L368.5,253.09L392.5,250.67L368.5,249.05L360.5,250.67M224.5,194.03L200.5,192.42L200.5,182.71L224.5,181.09L272.5,181.09L296.5,182.71L272.5,183.92L230.5,192.42L224.5,194.03M392.5,153.58L416.5,158.44L440.5,153.58L416.5,148.73L392.5,153.58M424.5,134.17L464.5,142.26L494.5,134.17L464.5,128.1L424.5,134.17M408.5,114.75L416.5,119.6L428.5,114.75L416.5,109.9L408.5,114.75M488.5,105.04L512.5,107.47L524.5,105.04L512.5,102.61L488.5,105.04M656.5,106.26L632.5,105.04L656.5,103.42M356.5,95.33L368.5,100.19L392.5,95.33L368.5,92.91L356.5,95.33M128.5,93.72L152.5,95.33L128.5,97.76M272.5,80.77L236.5,75.92L272.5,72.28L290.5,75.92L272.5,80.77M404.5,75.92L416.5,80.77L428.5,75.92L416.5,73.49L404.5,75.92M608.5,67.83L596.5,66.21L608.5,61.35L620.5,66.21L608.5,67.83M524.5,56.5L536.5,66.21L530.5,75.92L536.5,85.62L536.5,95.33L560.5,100.19L596.5,105.04L560.5,112.32L548.5,114.75L548.5,124.46L548.5,134.17L536.5,143.88L548.5,153.58L512.5,160.86L488.5,163.29L464.5,168.15L452.5,173L464.5,175.43L512.5,182.17L524.5,182.71L536.5,192.42L512.5,194.84L464.5,199.7L452.5,202.12L464.5,206.98L512.5,209.41L536.5,211.83L536.5,221.54L536.5,231.25L512.5,236.1L464.5,237.32L440.5,240.96L464.5,245.81L500.5,250.67L512.5,255.52L536.5,260.38L560.5,265.23L572.5,270.08L560.5,274.94L512.5,277.36L500.5,279.79L488.5,289.5L512.5,297.59L518.5,299.21L512.5,304.06L488.5,308.92L512.5,313.77L536.5,318.62L536.5,328.33L520.5,338.04L532.81,347.75L545.5,357.46L512.5,361.57L492.19,357.46L479.5,347.75L507.7,338.04L488.5,328.33L464.5,325.91L452.5,328.33L428.5,338.04L452.5,347.75L446.5,357.46L425.73,367.17L416.5,369.59L392.5,376.88L416.5,384.16L452.5,376.88L464.5,375.01L473.73,376.88L488.5,386.58L500.5,396.29L512.5,401.15L524.5,406M152.5,406L176.5,404.65L224.5,404.65L256.85,396.29L272.5,389.01L280.5,386.58L280.5,376.88L272.5,372.02L248.5,367.17L224.5,362.31L200.5,367.17L176.5,372.02L128.5,372.02M332.5,406L320.5,404.79L296.5,406M408.5,396.29L416.5,398.72L424.5,396.29L416.5,393.86L408.5,396.29M128.5,391.44L135.17,396.29L128.5,401.15M176.5,389.75L140.5,386.58L176.5,379.3L212.5,386.58L176.5,389.75M408.5,376.88L416.5,379.3L428.5,376.88L416.5,374.45L408.5,376.88M128.5,352.6L140.5,347.75L176.5,340.47L200.5,338.04L224.5,335.61L248.5,328.33L272.5,321.05L280.5,318.62L272.5,317.01L242.5,308.92L254.5,299.21L224.5,291.12L200.5,289.5L224.5,287.88L254.5,279.79L236.5,270.08L248.5,260.38L272.5,255.52L278.5,250.67L272.5,248.24L224.5,243.39L176.5,242.17L164.5,240.96L176.5,239.34L224.5,239.74L272.5,233.68L284.5,231.25L296.5,221.54L272.5,216.69L224.5,214.26L176.5,216.69L128.5,214.26M260.5,347.75L272.5,352.6L284.5,347.75L272.5,345.32L260.5,347.75M436.5,338.04L464.5,346.54L498.1,338.04L464.5,329.55L436.5,338.04M656.5,323.48L620.5,328.33L608.5,333.19L560.5,330.76L536.5,338.04L551.27,347.75L560.5,352.6L608.5,352.6L632.5,357.46L608.5,362.31L584.5,367.17L608.5,372.02L616.5,376.88L608.5,381.73L584.5,376.88L560.5,372.02L536.5,367.17L512.5,365.3L473.73,357.46L464.5,352.6L458.5,357.46L444.19,367.17L464.5,371.27L492.19,376.88L512.5,383.55L524.5,386.58L524.5,396.29L548.5,406M302.5,308.92L320.5,312.56L334.9,308.92L320.5,304.06L302.5,308.92M410.5,308.92L416.5,311.34L428.5,308.92L416.5,306.49L410.5,308.92M128.5,304.06L152.5,299.21L176.5,294.35L184.5,299.21L188.5,308.92L176.5,313.77L152.5,318.62L128.5,321.05M128.5,277.36L152.5,279.79L128.5,282.22M656.5,274.94L632.5,270.08L656.5,265.23M128.5,257.95L176.5,259.16L200.5,260.38L176.5,261.59L128.5,262.8M608.5,255.52L602.5,250.67L608.5,248.24L614.5,250.67L608.5,255.52M456.5,240.96L464.5,242.58L488.5,240.96L464.5,239.74L456.5,240.96M656.5,233.68L632.5,231.25L608.5,226.4L584.5,231.25L572.5,240.96L560.5,242.17L518.5,250.67L560.5,259.16L584.5,260.38L596.5,270.08L572.5,279.79L572.5,289.5L560.5,293.14L536.5,289.5L512.5,282.22L498.1,289.5L512.5,294.35L530.5,299.21L536.5,308.92L560.5,313.77L608.5,313.77L632.5,308.92L656.5,304.06M128.5,228.82L136.5,231.25L128.5,233.68M128.5,209.41L176.5,206.98L224.5,209.41L272.5,204.55L280.5,202.12L312.5,192.42L272.5,186.35L242.5,192.42L224.5,197.27L176.5,197.27L164.5,192.42L152.5,182.71L176.5,177.85L224.5,177.85L272.5,177.85L308.5,173L272.5,165.72L248.5,163.29L224.5,158.44L200.5,153.58L176.5,148.73L128.5,148.73M488.5,202.12L512.5,204.55L536.5,202.12L512.5,199.7L488.5,202.12M332.5,173L368.5,176.64L386.5,173L368.5,169.36L332.5,173M408.5,153.58L416.5,155.2L424.5,153.58L416.5,151.97L408.5,153.58M200.5,143.88L224.5,148.73L236.5,143.88L224.5,139.02L200.5,143.88M656.5,146.3L632.5,143.88L656.5,141.45M440.5,134.17L464.5,139.02L482.5,134.17L464.5,130.53L440.5,134.17M128.5,129.31L176.5,129.31L224.5,129.31L272.5,126.89L280.5,124.46L296.5,114.75L272.5,107.47L248.5,105.04L272.5,100.19L280.5,95.33L320.5,87.24L328.5,85.62L338.5,75.92L320.5,72.28L302.5,75.92L272.5,84.01L224.5,78.34L200.5,75.92L200.5,66.21L200.5,56.5M656.5,108.68L608.5,106.66L568.5,114.75L568.5,124.46L584.5,134.17L584.5,143.88L584.5,153.58L584.5,163.29L560.5,165.72L512.5,163.9L467.5,173L512.5,181.09L548.5,182.71L560.5,187.56L584.5,192.42L608.5,197.27L632.5,202.12L608.5,204.55L572.5,211.83L608.5,219.11L656.5,216.69M128.5,90.48L164.5,85.62L176.5,80.77L188.5,85.62L200.5,95.33L176.5,100.19L128.5,102.61M656.5,88.05L632.5,85.62L656.5,84.01M236.5,66.21L272.5,69.85L290.5,66.21L272.5,58.93L236.5,66.21M548.5,56.5L552.5,66.21L542.5,75.92L552.5,85.62L552.5,95.33L560.5,96.95L608.5,103.83L656.5,100.19M620.5,56.5L644.5,66.21L608.5,71.06L572.5,66.21L584.5,56.5M148.5,396.29L176.5,401.95L224.5,401.95L246.41,396.29L224.5,388.45L176.5,391.86L148.5,396.29M548.5,396.29L560.5,401.15L584.5,396.29L584.5,386.58L560.5,381.73L548.5,386.58L548.5,396.29M632.5,406L608.5,401.15L584.5,406M656.5,391.44L632.5,396.29L656.5,401.15M128.5,381.73L152.5,376.88L128.5,375.26M188.5,376.88L224.5,384.16L260.5,376.88L224.5,369.59L188.5,376.88M510.65,376.88L512.5,377.48L520.5,376.88L512.5,375.26L510.65,376.88M462.65,367.17L464.5,367.54L472.5,367.17L464.5,365.55L462.65,367.17M656.5,369.59L632.5,376.88L656.5,384.16M128.5,342.9L152.5,338.04L176.5,333.19L224.5,330.76L232.5,328.33L260.5,318.62L230.5,308.92L242.5,299.21L224.5,294.35L200.5,299.21L212.5,308.92L188.5,318.62L176.5,323.48L128.5,325.91M444.5,338.04L464.5,344.11L488.5,338.04L464.5,331.97L444.5,338.04M552.5,338.04L560.5,342.9L584.5,338.04L560.5,335.61L552.5,338.04M656.5,326.72L644.5,328.33L614.5,338.04L620.5,347.75L656.5,355.03M314.5,308.92L320.5,310.13L325.3,308.92L320.5,307.3L314.5,308.92M128.5,294.35L152.5,289.5L128.5,287.07M507.7,289.5L512.5,291.12L520.5,289.5L512.5,287.07L507.7,289.5M656.5,284.65L632.5,279.79L608.5,274.94L596.5,279.79L580.5,289.5L560.5,295.57L542.5,299.21L560.5,306.49L608.5,304.06L632.5,299.21L656.5,294.35M128.5,272.51L176.5,278.17L188.5,279.79L224.5,284.65L242.5,279.79L224.5,272.51L216.5,270.08L176.5,264.02L128.5,267.66M128.5,253.09L176.5,256.73L224.5,255.52L248.5,250.67L224.5,248.24L176.5,244.6L140.5,240.96L128.5,238.53M530.5,250.67L560.5,256.73L590.5,250.67L560.5,244.6L530.5,250.67M152.5,231.25L176.5,236.1L224.5,237.32L264.5,231.25L272.5,226.4L280.5,221.54L272.5,219.92L224.5,219.11L200.5,221.54L176.5,223.97L152.5,231.25M656.5,238.53L608.5,236.1L596.5,240.96L608.5,243.39L626.5,250.67L656.5,258.76M128.5,223.97L152.5,221.54L128.5,219.11M596.5,211.83L608.5,214.26L632.5,211.83L608.5,209.41L596.5,211.83M128.5,204.55L152.5,202.12L140.5,192.42L128.5,187.56M200.5,202.12L224.5,204.55L248.5,202.12L224.5,200.51L200.5,202.12M254.5,192.42L272.5,199.7L296.5,192.42L272.5,188.78L254.5,192.42M572.5,182.71L608.5,189.99L644.5,182.71L608.5,175.43L584.5,173L560.5,170.57L512.5,165.11L473.5,173L512.5,180.01L560.5,177.85L572.5,182.71M200.5,173L224.5,174.62L272.5,174.62L284.5,173L272.5,170.57L224.5,168.15L200.5,173M356.5,173L368.5,174.21L374.5,173L368.5,171.79L356.5,173M128.5,168.15L152.5,163.29L128.5,158.44M656.5,151.16L632.5,153.58L656.5,158.44M456.5,134.17L464.5,135.78L470.5,134.17L464.5,132.95L456.5,134.17M152.5,114.75L176.5,119.6L224.5,122.84L272.5,119.6L280.5,114.75L272.5,112.32L224.5,106.66L176.5,109.9L152.5,114.75M656.5,111.11L608.5,109.9L584.5,114.75L584.5,124.46L608.5,131.74L632.5,134.17L656.5,136.59M128.5,87.24L140.5,85.62L152.5,75.92L152.5,66.21L128.5,61.35M212.5,85.62L224.5,90.48L248.5,85.62L224.5,83.2L212.5,85.62M656.5,92.91L608.5,87.24L568.5,95.33L608.5,101.4L656.5,96.95M314.5,75.92L320.5,80.77L326.5,75.92L320.5,74.7L314.5,75.92M260.5,66.21L272.5,67.42L278.5,66.21L272.5,63.78L260.5,66.21M656.5,68.64L608.5,74.3L560.5,71.06L554.5,75.92L560.5,80.77L608.5,80.77L656.5,80.77M644.5,56.5L656.5,61.35M161.83,396.29L176.5,399.26L224.5,399.26L235.98,396.29L224.5,392.18L176.5,393.97L161.83,396.29M212.5,376.88L224.5,379.3L236.5,376.88L224.5,374.45L212.5,376.88M656.5,374.45L648.5,376.88L656.5,379.3M452.5,338.04L464.5,341.68L478.9,338.04L464.5,334.4L452.5,338.04M656.5,329.95L626.5,338.04L644.5,347.75L656.5,350.18M212.5,318.62L224.5,323.48L236.5,318.62L224.5,313.77L212.5,318.62M216.5,299.21L224.5,304.06L230.5,299.21L224.5,297.59L216.5,299.21M554.5,299.21L560.5,301.64L584.5,299.21L560.5,297.99L554.5,299.21M588.5,289.5L608.5,297.59L648.5,289.5L608.5,281.41L588.5,289.5M212.5,279.79L224.5,281.41L230.5,279.79L224.5,277.36L212.5,279.79M140.5,270.08L176.5,274.94L200.5,270.08L176.5,266.44L140.5,270.08M140.5,250.67L176.5,254.31L212.5,250.67L176.5,247.03L140.5,250.67M542.5,250.67L560.5,254.31L578.5,250.67L560.5,247.03L542.5,250.67M656.5,243.39L638.5,250.67L656.5,255.52M168.5,231.25L176.5,232.87L224.5,234.89L248.5,231.25L224.5,223.97L176.5,228.82L168.5,231.25M266.5,192.42L272.5,194.84L280.5,192.42L272.5,191.2L266.5,192.42M596.5,182.71L608.5,185.14L620.5,182.71L608.5,180.28L596.5,182.71M479.5,173L512.5,178.93L556.5,173L512.5,166.33L479.5,173M188.5,114.75L224.5,119.6L260.5,114.75L224.5,109.9L188.5,114.75M656.5,113.54L608.5,113.13L600.5,114.75L600.5,124.46L608.5,126.89L656.5,131.74M584.5,95.33L608.5,98.97L644.5,95.33L608.5,90.48L584.5,95.33M656.5,73.49L632.5,75.92L656.5,77.53M175.17,396.29L176.5,396.56L224.5,396.56L225.54,396.29L224.5,395.92L176.5,396.08L175.17,396.29M460.5,338.04L464.5,339.26L469.3,338.04L464.5,336.83L460.5,338.04M656.5,333.19L638.5,338.04L656.5,345.32M596.5,289.5L608.5,294.35L632.5,289.5L608.5,284.65L596.5,289.5M164.5,270.08L176.5,271.7L184.5,270.08L176.5,268.87L164.5,270.08M164.5,250.67L176.5,251.88L188.5,250.67L176.5,249.45L164.5,250.67M554.5,250.67L560.5,251.88L566.5,250.67L560.5,249.45L554.5,250.67M656.5,248.24L650.5,250.67L656.5,252.28M200.5,231.25L224.5,232.46L232.5,231.25L224.5,228.82L200.5,231.25M485.5,173L512.5,177.85L548.5,173L512.5,167.54L485.5,173M212.5,114.75L224.5,116.37L236.5,114.75L224.5,113.13L212.5,114.75M656.5,119.6L632.5,124.46L656.5,126.89M600.5,95.33L608.5,96.55L620.5,95.33L608.5,93.72L600.5,95.33M656.5,336.42L650.5,338.04L656.5,340.47M604.5,289.5L608.5,291.12L616.5,289.5L608.5,287.88L604.5,289.5M491.5,173L512.5,176.78L540.5,173L512.5,168.75L491.5,173M497.5,173L512.5,175.7L532.5,173L512.5,169.97L497.5,173M503.5,173L512.5,174.62L524.5,173L512.5,171.18L503.5,173M509.5,173L512.5,173.54L516.5,173L512.5,172.39L509.5,173"/>
</g>
<rect x="128.5" y="56.5" width="528.0" height="349.5" fill="none" stroke="#000" stroke-width="1.3"/>
<path stroke="#000" stroke-width="1.3" d="M176.5,406V400.7M176.5,56.5V61.8M272.5,406V400.7M272.5,56.5V61.8M368.5,406V400.7M368.5,56.5V61.8M464.5,406V400.7M464.5,56.5V61.8M560.5,406V400.7M560.5,56.5V61.8M656.5,406V400.7M656.5,56.5V61.8M128.5,406H133.8M656.5,406H651.2M128.5,308.92H133.8M656.5,308.92H651.2M128.5,211.83H133.8M656.5,211.83H651.2M128.5,114.75H133.8M656.5,114.75H651.2"/>
<text class="t" x="176.5" y="444.6" text-anchor="middle">2</text>
<text class="t" x="272.5" y="444.6" text-anchor="middle">4</text>
<text class="t" x="368.5" y="444.6" text-anchor="middle">6</text>
<text class="t" x="464.5" y="444.6" text-anchor="middle">8</text>
<text class="t" x="560.5" y="444.6" text-anchor="middle">10</text>
<text class="t" x="656.5" y="444.6" text-anchor="middle">12</text>
<text class="t" x="121.7" y="418.3" text-anchor="end">1980</text>
<text class="t" x="121.7" y="321.22" text-anchor="end">1990</text>
<text class="t" x="121.7" y="224.13" text-anchor="end">2000</text>
<text class="t" x="121.7" y="127.05" text-anchor="end">2010</text>
<text class="l" x="394" y="481" text-anchor="middle">Month</text>
<text class="l" style="font-size:36px;letter-spacing:0.4px" transform="translate(29.3,230.05) rotate(-90)" x="0" y="0" text-anchor="middle">Year</text>
<text class="l" x="393.3" y="28.5" text-anchor="middle">HLD</text>
<clipPath id="clipLKO"><rect x="824.5" y="56.5" width="528.0" height="349.5"/></clipPath>
<g clip-path="url(#clipLKO)">
<path fill="#00008f" stroke="#00008f" stroke-width="0.6" fill-rule="evenodd" d="M824.5,406L872.5,406L920.5,406L968.5,406L1016.5,406L1064.5,406L1112.5,406L1160.5,406L1208.5,406L1256.5,406L1304.5,406L1352.5,406L1352.5,396.29L1352.5,386.58L1352.5,376.88L1352.5,367.17L1352.5,357.46L1352.5,347.75L1352.5,338.04L1352.5,328.33L1352.5,318.62L1304.5,318.62L1256.5,318.62L1208.5,318.62L1160.5,318.62L1112.5,318.62L1064.5,318.62L1016.5,318.62L968.5,318.62L920.5,318.62L872.5,318.62L824.5,318.62L824.5,328.33L824.5,338.04L824.5,347.75L824.5,357.46L824.5,367.17L824.5,376.88L824.5,386.58L824.5,396.29L824.5,406ZM1064.5,289.5L1112.5,299.21L1160.5,299.21L1208.5,299.21L1256.5,299.21L1304.5,299.21L1352.5,299.21L1352.5,289.5L1352.5,279.79L1352.5,270.08L1352.5,260.38L1352.5,250.67L1352.5,240.96L1352.5,231.25L1352.5,221.54L1352.5,211.83L1352.5,202.12L1352.5,192.42L1352.5,182.71L1352.5,173L1352.5,163.29L1352.5,153.58L1352.5,143.88L1352.5,134.17L1352.5,124.46L1352.5,114.75L1352.5,105.04L1352.5,95.33L1352.5,85.62L1352.5,75.92L1352.5,66.21L1352.5,56.5L1304.5,56.5L1256.5,56.5L1208.5,56.5L1160.5,56.5L1112.5,56.5L1064.5,56.5L1016.5,56.5L968.5,56.5L920.5,56.5L872.5,56.5L824.5,56.5L824.5,66.21L824.5,75.92L824.5,85.62L824.5,95.33L824.5,105.04L824.5,114.75L824.5,124.46L824.5,134.17L824.5,143.88L824.5,153.58L824.5,163.29L824.5,173L824.5,182.71L824.5,192.42L824.5,202.12L824.5,211.83L824.5,221.54L824.5,231.25L824.5,240.96L824.5,250.67L824.5,260.38L824.5,270.08L824.5,279.79L824.5,289.5L872.5,289.5L920.5,289.5L968.5,289.5L1016.5,289.5L1064.5,289.5Z"/>
<path fill="#0010ff" stroke="#0010ff" stroke-width="0.6" fill-rule="evenodd" d="M824.5,406L872.5,406L920.5,406L968.5,406L1016.5,406L1064.5,406L1112.5,406L1136.5,406L1136.5,396.29L1112.5,391.44L1088.5,396.29L1064.5,401.15L1040.5,396.29L1040.5,386.58L1064.5,384.16L1112.5,384.16L1152.5,386.58L1160.5,388.2L1172.5,396.29L1166.5,406L1208.5,406L1256.5,406L1304.5,406L1352.5,406L1352.5,396.29L1352.5,386.58L1352.5,376.88L1352.5,367.17L1352.5,357.46L1352.5,347.75L1352.5,338.04L1352.5,328.33L1352.5,318.62L1304.5,318.62L1256.5,318.62L1208.5,318.62L1184.5,318.62L1160.5,321.05L1112.5,323.48L1104.5,318.62L1064.5,318.62L1016.5,318.62L968.5,318.62L920.5,318.62L872.5,318.62L824.5,318.62L824.5,328.33L824.5,338.04L824.5,347.75L824.5,357.46L824.5,367.17L824.5,376.88L824.5,386.58L824.5,396.29L824.5,406ZM968.5,397.91L962.5,396.29L968.5,393.86L992.5,396.29L968.5,397.91ZM1016.5,381.73L1011.7,376.88L992.5,367.17L1016.5,362.31L1024.5,367.17L1028.5,376.88L1016.5,381.73ZM1064.5,330.76L1040.5,328.33L1064.5,326.72L1088.5,328.33L1064.5,330.76ZM1112.5,369.59L1104.5,367.17L1088.5,357.46L1112.5,352.6L1117.3,357.46L1160.5,366.85L1171.58,367.17L1160.5,374.45L1112.5,369.59ZM968.5,333.19L953.5,328.33L968.5,323.48L992.5,328.33L968.5,333.19ZM1112.5,342.9L1100.5,338.04L1112.5,333.19L1136.5,338.04L1112.5,342.9ZM1172.5,299.21L1208.5,299.21L1256.5,299.21L1304.5,299.21L1352.5,299.21L1352.5,289.5L1352.5,279.79L1352.5,270.08L1352.5,260.38L1352.5,250.67L1352.5,240.96L1352.5,231.25L1352.5,221.54L1352.5,211.83L1352.5,202.12L1352.5,192.42L1352.5,182.71L1352.5,173L1352.5,163.29L1352.5,153.58L1352.5,143.88L1352.5,134.17L1352.5,124.46L1352.5,114.75L1352.5,105.04L1352.5,95.33L1352.5,85.62L1352.5,75.92L1352.5,66.21L1352.5,56.5L1304.5,56.5L1256.5,56.5L1208.5,56.5L1160.5,56.5L1112.5,56.5L1064.5,56.5L1016.5,56.5L968.5,56.5L920.5,56.5L872.5,56.5L824.5,56.5L824.5,66.21L824.5,75.92L824.5,85.62L824.5,95.33L824.5,105.04L824.5,114.75L824.5,124.46L824.5,134.17L824.5,143.88L824.5,153.58L824.5,163.29L824.5,173L824.5,182.71L824.5,192.42L824.5,202.12L824.5,211.83L824.5,221.54L824.5,231.25L824.5,240.96L824.5,250.67L824.5,260.38L824.5,270.08L824.5,279.79L824.5,289.5L872.5,289.5L920.5,289.5L968.5,289.5L1016.5,289.5L1040.5,289.5L1064.5,284.65L1088.5,279.79L1112.5,274.94L1136.5,279.79L1160.5,284.65L1164.5,289.5L1172.5,299.21ZM1208.5,236.1L1184.5,231.25L1208.5,226.4L1232.5,231.25L1208.5,236.1ZM920.5,192.61L918.95,192.42L920.5,192.23L922.05,192.42L920.5,192.61ZM968.5,77.53L944.5,75.92L968.5,73.49L992.5,75.92L968.5,77.53ZM1112.5,265.23L1088.5,260.38L1064.5,255.52L1016.5,250.67L1016.5,250.67L992.5,240.96L1004.5,231.25L1004.5,221.54L1016.5,218.31L1064.5,211.83L1040.5,202.12L1040.5,192.42L1064.5,187.56L1088.5,182.71L1112.5,177.85L1160.5,177.85L1184.5,182.71L1160.5,192.42L1160.5,192.42L1124.5,202.12L1136.5,211.83L1112.5,216.69L1088.5,221.54L1112.5,226.4L1136.5,231.25L1118.5,240.96L1160.5,249.45L1184.5,250.67L1160.5,255.52L1136.5,260.38L1112.5,265.23ZM1208.5,100.19L1184.5,95.33L1208.5,93.72L1225.64,95.33L1208.5,100.19ZM1064.5,168.15L1052.5,163.29L1040.5,153.58L1040.5,143.88L1016.5,139.02L1004.5,134.17L1016.5,129.31L1040.5,134.17L1064.5,139.02L1096.5,134.17L1112.5,130.93L1128.5,134.17L1136.5,143.88L1112.5,148.73L1088.5,153.58L1088.5,163.29L1064.5,168.15ZM1160.5,154.3L1146.79,153.58L1160.5,150.81L1174.21,153.58L1160.5,154.3ZM1016.5,98.57L1012.14,95.33L1016.5,92.1L1032.5,95.33L1016.5,98.57ZM1064.5,119.6L1040.5,114.75L1064.5,113.13L1076.5,114.75L1064.5,119.6ZM1112.5,107.47L1104.5,105.04L1112.5,100.19L1127.5,105.04L1112.5,107.47ZM1160.5,127.69L1144.5,124.46L1160.5,121.22L1176.5,124.46L1160.5,127.69ZM1016.5,67.83L1013.5,66.21L1016.5,65.6L1024.5,66.21L1016.5,67.83ZM1064.5,88.86L1048.5,85.62L1040.5,75.92L1064.5,71.06L1088.5,66.21L1112.5,61.35L1160.5,63.78L1184.5,66.21L1172.5,75.92L1160.5,80.77L1136.5,75.92L1112.5,71.06L1088.5,75.92L1080.5,85.62L1064.5,88.86Z"/>
<path fill="#009fff" stroke="#009fff" stroke-width="0.6" fill-rule="evenodd" d="M824.5,406L848.5,406L872.5,401.15L896.5,406L920.5,406L968.5,406L1016.5,406L1040.5,406L1016.5,401.15L968.5,401.15L950.5,396.29L968.5,389.01L992.5,386.58L1002.1,376.88L968.5,368.38L944.5,367.17L920.5,362.31L872.5,362.31L848.5,357.46L872.5,352.6L896.5,347.75L920.5,342.9L944.5,338.04L923.5,328.33L944.5,318.62L920.5,318.62L880.5,318.62L872.5,319.23L864.5,318.62L824.5,318.62L824.5,328.33L824.5,338.04L824.5,347.75L824.5,357.46L824.5,367.17L824.5,376.88L824.5,386.58L824.5,396.29L824.5,406ZM872.5,391.44L860.5,386.58L872.5,381.73L920.5,384.16L944.5,386.58L920.5,388.2L872.5,391.44ZM1178.5,406L1208.5,406L1256.5,406L1304.5,406L1352.5,406L1352.5,396.29L1352.5,386.58L1352.5,376.88L1352.5,367.17L1352.5,357.46L1352.5,347.75L1352.5,338.04L1352.5,328.33L1352.5,323.48L1328.5,318.62L1304.5,318.62L1256.5,318.62L1220.5,318.62L1208.5,323.48L1160.5,325.91L1136.5,328.33L1160.5,333.19L1208.5,333.19L1220.5,338.04L1256.5,345.32L1304.5,347.75L1304.5,347.75L1304.5,347.75L1280.5,357.46L1256.5,359.89L1220.5,367.17L1232.5,376.88L1232.5,386.58L1208.5,391.44L1196.5,396.29L1178.5,406ZM1304.5,401.15L1292.5,396.29L1304.5,395.08L1328.5,396.29L1304.5,401.15ZM1052.5,376.88L1064.5,379.3L1112.5,379.3L1129.05,376.88L1112.5,374.45L1088.5,367.17L1064.5,359.89L1040.5,367.17L1052.5,376.88ZM1126.9,357.46L1160.5,364.77L1202.5,357.46L1160.5,348.96L1126.9,357.46ZM1008.5,347.75L1016.5,349.37L1024.5,347.75L1016.5,346.13L1008.5,347.75ZM1040.5,338.04L1064.5,342.9L1076.5,338.04L1064.5,335.61L1040.5,338.04ZM1028.5,318.62L1064.5,323.48L1088.5,318.62L1064.5,318.62L1028.5,318.62ZM1196.5,299.21L1208.5,299.21L1256.5,299.21L1304.5,299.21L1352.5,299.21L1352.5,289.5L1352.5,279.79L1352.5,270.08L1352.5,260.38L1352.5,250.67L1352.5,240.96L1352.5,231.25L1352.5,221.54L1352.5,216.69L1328.5,211.83L1304.5,206.98L1280.5,211.83L1262.5,221.54L1280.5,231.25L1256.5,236.1L1232.5,240.96L1232.5,250.67L1232.5,260.38L1232.5,270.08L1232.5,279.79L1208.5,280.76L1172.5,289.5L1196.5,299.21ZM1304.5,272.51L1280.5,270.08L1304.5,265.23L1328.5,270.08L1304.5,272.51ZM848.5,289.5L872.5,289.5L896.5,289.5L872.5,284.65L848.5,289.5ZM944.5,289.5L968.5,289.5L992.5,289.5L968.5,284.65L944.5,289.5ZM824.5,270.08L824.5,277.36L872.5,277.36L908.5,270.08L920.5,265.23L944.5,260.38L968.5,255.52L984.5,250.67L968.5,245.81L920.5,243.39L872.5,243.39L860.5,240.96L872.5,237.49L920.5,238.53L968.5,236.1L980.5,231.25L980.5,221.54L1016.5,211.83L1004.5,202.12L992.5,192.42L1016.5,187.56L1040.5,182.71L1040.5,173L1028.5,163.29L1016.5,158.44L1004.5,153.58L992.5,143.88L980.5,134.17L1010.5,124.46L992.5,114.75L992.5,105.04L994.68,95.33L1004.5,85.62L968.5,80.77L920.5,78.34L872.5,80.77L824.5,84.01L824.5,85.62L824.5,86.77L853.3,95.33L824.5,103.9L824.5,105.04L824.5,114.75L824.5,124.46L824.5,132.55L848.5,134.17L824.5,139.02L824.5,143.88L824.5,153.58L824.5,163.29L824.5,173L824.5,182.71L824.5,192.42L824.5,202.12L824.5,211.83L824.5,221.54L824.5,231.25L824.5,240.96L824.5,250.67L824.5,260.38L824.5,270.08ZM872.5,220.57L841.64,211.83L872.5,205.59L890.5,211.83L872.5,220.57ZM920.5,196.41L887.98,192.42L920.5,188.42L953.02,192.42L920.5,196.41ZM968.5,168.15L944.5,163.29L968.5,160.86L992.5,163.29L968.5,168.15ZM920.5,158.44L908.5,153.58L920.5,152.61L932.5,153.58L920.5,158.44ZM992.5,270.08L1016.5,274.94L1040.5,270.08L1040.5,260.38L1016.5,257.14L992.5,260.38L992.5,270.08ZM1118.5,270.08L1160.5,278.58L1202.5,270.08L1160.5,261.59L1118.5,270.08ZM1130.5,240.96L1160.5,247.03L1200.5,240.96L1160.5,232.87L1130.5,240.96ZM1148.5,202.12L1160.5,206.98L1184.5,202.12L1160.5,198.89L1148.5,202.12ZM1232.5,202.12L1256.5,206.98L1280.5,202.12L1304.5,197.27L1328.5,192.42L1352.5,187.56L1352.5,182.71L1352.5,173L1352.5,163.29L1352.5,153.58L1352.5,148.73L1328.5,143.88L1352.5,141.45L1352.5,134.17L1352.5,124.46L1352.5,114.75L1352.5,106.26L1340.5,105.04L1352.5,100.19L1352.5,95.33L1352.5,85.62L1352.5,75.92L1352.5,66.21L1352.5,56.5L1304.5,56.5L1256.5,56.5L1220.5,56.5L1220.5,66.21L1208.5,71.06L1196.5,75.92L1172.5,85.62L1208.5,90.48L1256.5,94.73L1258.02,95.33L1268.5,105.04L1256.5,109.9L1208.5,109.9L1184.5,114.75L1208.5,119.6L1232.5,124.46L1208.5,129.31L1184.5,134.17L1208.5,139.02L1220.5,143.88L1232.5,153.58L1256.5,158.44L1280.5,163.29L1268.5,173L1256.5,174.62L1232.5,173L1232.5,163.29L1208.5,158.44L1160.5,157.9L1124.5,163.29L1160.5,170.57L1184.5,173L1208.5,177.85L1216.5,182.71L1208.5,192.42L1232.5,202.12ZM1100.5,114.75L1112.5,119.6L1136.5,114.75L1112.5,112.32L1100.5,114.75ZM1028.5,105.04L1064.5,109.9L1088.5,105.04L1064.5,97.76L1028.5,105.04ZM1157.5,105.04L1160.5,106.66L1168.5,105.04L1160.5,103.42L1157.5,105.04ZM824.5,66.21L824.5,72.88L872.5,73.49L920.5,71.06L968.5,68.64L983.5,66.21L1016.5,59.53L1040.5,56.5L1016.5,56.5L968.5,56.5L944.5,56.5L920.5,61.35L908.5,56.5L872.5,56.5L824.5,56.5L824.5,66.21ZM1136.5,56.5L1160.5,58.93L1184.5,56.5L1160.5,56.5L1136.5,56.5Z"/>
<path fill="#20ffdf" stroke="#20ffdf" stroke-width="0.6" fill-rule="evenodd" d="M824.5,396.29L824.5,401.15L848.5,396.29L836.5,386.58L864.5,376.88L824.5,368.78L824.5,376.88L824.5,386.58L824.5,396.29ZM884.5,396.29L920.5,403.57L938.5,396.29L920.5,391.44L884.5,396.29ZM944.5,406L968.5,406L992.5,406L968.5,404.38L944.5,406ZM1190.5,406L1208.5,406L1256.5,406L1280.5,406L1268.5,396.29L1304.5,392.65L1352.5,391.44L1352.5,386.58L1352.5,376.88L1352.5,367.17L1352.5,359.89L1316.5,367.17L1304.5,372.02L1280.5,376.88L1264.5,386.58L1256.5,391.44L1232.5,396.29L1208.5,398.72L1190.5,406ZM1328.5,406L1352.5,406L1352.5,401.15L1328.5,406ZM896.5,376.88L920.5,379.3L968.5,384.97L992.5,376.88L968.5,370.81L920.5,372.02L896.5,376.88ZM1056.5,367.17L1064.5,372.02L1072.5,367.17L1064.5,364.74L1056.5,367.17ZM1244.5,367.17L1256.5,372.02L1280.5,367.17L1256.5,364.74L1244.5,367.17ZM1136.5,357.46L1160.5,362.68L1190.5,357.46L1160.5,351.39L1136.5,357.46ZM824.5,347.75L824.5,355.03L860.5,347.75L824.5,340.47L824.5,347.75ZM1336.5,347.75L1352.5,352.6L1352.5,347.75L1352.5,342.9L1336.5,347.75ZM1244.5,338.04L1256.5,340.47L1304.5,341.28L1328.5,338.04L1304.5,333.19L1256.5,333.19L1244.5,338.04ZM848.5,328.33L872.5,333.19L889.64,328.33L872.5,325.3L848.5,328.33ZM1052.5,318.62L1064.5,320.24L1072.5,318.62L1064.5,318.62L1052.5,318.62ZM1244.5,318.62L1256.5,323.48L1280.5,318.62L1256.5,318.62L1244.5,318.62ZM1180.5,289.5L1208.5,297.99L1256.5,294.35L1304.5,294.35L1352.5,294.35L1352.5,289.5L1352.5,279.79L1352.5,274.94L1304.5,277.36L1280.5,279.79L1256.5,284.65L1208.5,282.7L1180.5,289.5ZM824.5,270.08L824.5,272.51L872.5,272.51L884.5,270.08L914.5,260.38L920.5,255.52L944.5,250.67L920.5,248.24L872.5,248.24L848.5,250.67L824.5,255.52L824.5,260.38L824.5,270.08ZM1130.5,270.08L1160.5,276.15L1190.5,270.08L1160.5,264.02L1130.5,270.08ZM1280.5,250.67L1304.5,255.52L1352.5,255.52L1352.5,250.67L1352.5,240.96L1352.5,236.1L1304.5,232.87L1264.5,240.96L1280.5,250.67ZM824.5,240.96L824.5,245.81L836.5,240.96L824.5,236.1L824.5,240.96ZM1142.5,240.96L1160.5,244.6L1184.5,240.96L1160.5,236.1L1142.5,240.96ZM880.5,231.25L920.5,233.68L944.5,231.25L920.5,222.42L880.5,231.25ZM1274.5,221.54L1304.5,229.63L1344.5,221.54L1304.5,213.45L1274.5,221.54ZM910.5,211.83L920.5,220.66L968.5,219.11L997.3,211.83L980.5,202.12L968.5,197.27L920.5,200.22L896.5,202.12L910.5,211.83ZM824.5,192.42L824.5,200.51L864.5,192.42L824.5,184.33L824.5,192.42ZM1240.5,192.42L1256.5,197.27L1280.5,192.42L1292.5,182.71L1256.5,177.85L1232.5,182.71L1240.5,192.42ZM872.5,182.71L920.5,184.61L968.5,187.56L992.5,182.71L968.5,177.85L944.5,173L920.5,168.15L896.5,163.29L884.5,153.58L920.5,150.67L956.5,153.58L968.5,156.01L980.5,153.58L968.5,148.73L962.5,143.88L944.5,134.17L968.5,132.55L998.5,124.46L968.5,116.37L928.5,124.46L920.5,129.31L914.5,124.46L903.95,114.75L911.09,105.04L872.5,97.24L839.14,105.04L824.5,108.68L824.5,114.75L824.5,124.46L824.5,129.31L872.5,132.95L896.5,134.17L872.5,139.02L848.5,143.88L848.5,153.58L848.5,163.29L836.5,173L872.5,182.71L872.5,182.71ZM1292.5,173L1304.5,177.85L1328.5,173L1304.5,168.15L1292.5,173ZM1148.5,163.29L1160.5,165.72L1184.5,163.29L1160.5,161.49L1148.5,163.29ZM1328.5,163.29L1352.5,168.15L1352.5,163.29L1352.5,158.44L1328.5,163.29ZM1244.5,143.88L1256.5,148.73L1280.5,143.88L1256.5,139.02L1244.5,143.88ZM1328.5,134.17L1352.5,136.59L1352.5,134.17L1352.5,124.46L1352.5,114.75L1352.5,108.68L1316.5,105.04L1343.09,95.33L1328.5,85.62L1352.5,80.77L1352.5,75.92L1352.5,66.21L1352.5,61.35L1340.5,56.5L1304.5,56.5L1256.5,56.5L1244.5,56.5L1244.5,66.21L1232.5,75.92L1208.5,80.77L1196.5,85.62L1208.5,87.24L1256.5,88.66L1273.26,95.33L1292.5,105.04L1280.5,114.75L1304.5,119.6L1316.5,124.46L1328.5,134.17ZM1052.5,105.04L1064.5,106.66L1072.5,105.04L1064.5,102.61L1052.5,105.04ZM944.5,95.33L968.5,100.19L977.23,95.33L980.5,85.62L968.5,84.01L920.5,83.2L896.5,85.62L920.5,90.48L944.5,95.33ZM824.5,66.21L824.5,66.82L872.5,68.64L896.5,66.21L884.5,56.5L872.5,56.5L848.5,56.5L824.5,64.59L824.5,66.21Z"/>
<path fill="#afff50" stroke="#afff50" stroke-width="0.6" fill-rule="evenodd" d="M908.5,396.29L920.5,398.72L926.5,396.29L920.5,394.67L908.5,396.29ZM1202.5,406L1208.5,406L1232.5,406L1208.5,403.57L1202.5,406ZM1280.5,386.58L1304.5,390.22L1340.5,386.58L1304.5,379.3L1280.5,386.58ZM824.5,376.88L824.5,384.16L848.5,376.88L824.5,372.02L824.5,376.88ZM932.5,376.88L968.5,381.73L982.9,376.88L968.5,373.23L932.5,376.88ZM1340.5,367.17L1352.5,372.02L1352.5,367.17L1352.5,364.74L1340.5,367.17ZM1146.1,357.46L1160.5,360.59L1178.5,357.46L1160.5,353.82L1146.1,357.46ZM824.5,347.75L824.5,350.18L836.5,347.75L824.5,345.32L824.5,347.75ZM1188.5,289.5L1208.5,295.57L1248.5,289.5L1208.5,284.65L1188.5,289.5ZM1142.5,270.08L1160.5,273.72L1178.5,270.08L1160.5,266.44L1142.5,270.08ZM832.5,260.38L872.5,268.47L902.5,260.38L872.5,252.28L832.5,260.38ZM1154.5,240.96L1160.5,242.17L1168.5,240.96L1160.5,239.34L1154.5,240.96ZM1280.5,240.96L1304.5,248.24L1340.5,240.96L1304.5,236.1L1280.5,240.96ZM1286.5,221.54L1304.5,226.4L1328.5,221.54L1304.5,216.69L1286.5,221.54ZM944.5,211.83L968.5,214.26L978.1,211.83L968.5,206.98L944.5,211.83ZM824.5,192.42L824.5,197.27L848.5,192.42L824.5,187.56L824.5,192.42ZM1248.5,182.71L1256.5,187.56L1268.5,182.71L1256.5,181.09L1248.5,182.71ZM860.5,173L872.5,176.24L896.5,173L872.5,168.15L860.5,173ZM880.5,143.88L920.5,148.73L950.5,143.88L920.5,135.78L880.5,143.88ZM824.5,124.46L824.5,126.08L872.5,130.53L902.5,124.46L872.5,114.94L868.14,114.75L824.5,112.73L824.5,114.75L824.5,124.46ZM944.5,124.46L968.5,129.31L986.5,124.46L968.5,119.6L944.5,124.46ZM1340.5,124.46L1352.5,129.31L1352.5,124.46L1352.5,114.75L1352.5,111.11L1316.5,114.75L1340.5,124.46ZM855.42,105.04L872.5,114.31L892.26,105.04L872.5,101.04L855.42,105.04ZM1288.5,95.33L1304.5,101.91L1324.26,95.33L1304.5,88.76L1288.5,95.33ZM1268.5,66.21L1304.5,73.49L1340.5,66.21L1316.5,56.5L1304.5,56.5L1280.5,56.5L1268.5,66.21Z"/>
<path fill="#ffcf00" stroke="#ffcf00" stroke-width="0.6" fill-rule="evenodd" d="M1296.5,386.58L1304.5,387.8L1316.5,386.58L1304.5,384.16L1296.5,386.58ZM824.5,376.88L824.5,379.3L832.5,376.88L824.5,375.26L824.5,376.88ZM956.5,376.88L968.5,378.49L973.3,376.88L968.5,375.66L956.5,376.88ZM1155.7,357.46L1160.5,358.5L1166.5,357.46L1160.5,356.24L1155.7,357.46ZM1196.5,289.5L1208.5,293.14L1232.5,289.5L1208.5,286.59L1196.5,289.5ZM1154.5,270.08L1160.5,271.3L1166.5,270.08L1160.5,268.87L1154.5,270.08ZM848.5,260.38L872.5,265.23L890.5,260.38L872.5,255.52L848.5,260.38ZM1296.5,240.96L1304.5,243.39L1316.5,240.96L1304.5,239.34L1296.5,240.96ZM1298.5,221.54L1304.5,223.16L1312.5,221.54L1304.5,219.92L1298.5,221.54ZM824.5,192.42L824.5,194.03L832.5,192.42L824.5,190.8L824.5,192.42ZM896.5,143.88L920.5,146.79L938.5,143.88L920.5,139.02L896.5,143.88ZM836.5,124.46L872.5,128.1L890.5,124.46L872.5,118.75L836.5,124.46ZM960.5,124.46L968.5,126.08L974.5,124.46L968.5,122.84L960.5,124.46ZM1340.5,114.75L1352.5,119.6L1352.5,114.75L1352.5,113.54L1340.5,114.75ZM871.69,105.04L872.5,105.48L873.44,105.04L872.5,104.85L871.69,105.04ZM1303.74,95.33L1304.5,95.65L1305.44,95.33L1304.5,95.02L1303.74,95.33ZM1292.5,66.21L1304.5,68.64L1316.5,66.21L1304.5,61.35L1292.5,66.21Z"/>
<path fill="#ff4000" stroke="#ff4000" stroke-width="0.6" fill-rule="evenodd" d="M1204.5,289.5L1208.5,290.71L1216.5,289.5L1208.5,288.53L1204.5,289.5ZM864.5,260.38L872.5,261.99L878.5,260.38L872.5,258.76L864.5,260.38ZM912.5,143.88L920.5,144.85L926.5,143.88L920.5,142.26L912.5,143.88ZM860.5,124.46L872.5,125.67L878.5,124.46L872.5,122.55L860.5,124.46Z"/>
<path fill="none" stroke="#000" stroke-width="1.3" stroke-linejoin="round" d="M968.5,397.91L962.5,396.29L968.5,393.86L992.5,396.29L968.5,397.91M1136.5,406L1136.5,396.29L1112.5,391.44L1088.5,396.29L1064.5,401.15L1040.5,396.29L1040.5,386.58L1064.5,384.16L1112.5,384.16L1152.5,386.58L1160.5,388.2L1172.5,396.29L1166.5,406M1016.5,381.73L1011.7,376.88L992.5,367.17L1016.5,362.31L1024.5,367.17L1028.5,376.88L1016.5,381.73M1112.5,369.59L1104.5,367.17L1088.5,357.46L1112.5,352.6L1117.3,357.46L1160.5,366.85L1171.58,367.17L1160.5,374.45L1112.5,369.59M1112.5,342.9L1100.5,338.04L1112.5,333.19L1136.5,338.04L1112.5,342.9M968.5,333.19L953.5,328.33L968.5,323.48L992.5,328.33L968.5,333.19M1064.5,330.76L1040.5,328.33L1064.5,326.72L1088.5,328.33L1064.5,330.76M1184.5,318.62L1160.5,321.05L1112.5,323.48L1104.5,318.62M1040.5,289.5L1064.5,284.65L1088.5,279.79L1112.5,274.94L1136.5,279.79L1160.5,284.65L1164.5,289.5L1172.5,299.21M1112.5,265.23L1088.5,260.38L1064.5,255.52L1016.5,250.67L1016.5,250.67L992.5,240.96L1004.5,231.25L1004.5,221.54L1016.5,218.31L1064.5,211.83L1040.5,202.12L1040.5,192.42L1064.5,187.56L1088.5,182.71L1112.5,177.85L1160.5,177.85L1184.5,182.71L1160.5,192.42L1160.5,192.42L1124.5,202.12L1136.5,211.83L1112.5,216.69L1088.5,221.54L1112.5,226.4L1136.5,231.25L1118.5,240.96L1160.5,249.45L1184.5,250.67L1160.5,255.52L1136.5,260.38L1112.5,265.23M1208.5,236.1L1184.5,231.25L1208.5,226.4L1232.5,231.25L1208.5,236.1M920.5,192.61L918.95,192.42L920.5,192.23L922.05,192.42L920.5,192.61M1064.5,168.15L1052.5,163.29L1040.5,153.58L1040.5,143.88L1016.5,139.02L1004.5,134.17L1016.5,129.31L1040.5,134.17L1064.5,139.02L1096.5,134.17L1112.5,130.93L1128.5,134.17L1136.5,143.88L1112.5,148.73L1088.5,153.58L1088.5,163.29L1064.5,168.15M1160.5,154.3L1146.79,153.58L1160.5,150.81L1174.21,153.58L1160.5,154.3M1160.5,127.69L1144.5,124.46L1160.5,121.22L1176.5,124.46L1160.5,127.69M1064.5,119.6L1040.5,114.75L1064.5,113.13L1076.5,114.75L1064.5,119.6M1112.5,107.47L1104.5,105.04L1112.5,100.19L1127.5,105.04L1112.5,107.47M1016.5,98.57L1012.14,95.33L1016.5,92.1L1032.5,95.33L1016.5,98.57M1208.5,100.19L1184.5,95.33L1208.5,93.72L1225.64,95.33L1208.5,100.19M1064.5,88.86L1048.5,85.62L1040.5,75.92L1064.5,71.06L1088.5,66.21L1112.5,61.35L1160.5,63.78L1184.5,66.21L1172.5,75.92L1160.5,80.77L1136.5,75.92L1112.5,71.06L1088.5,75.92L1080.5,85.62L1064.5,88.86M968.5,77.53L944.5,75.92L968.5,73.49L992.5,75.92L968.5,77.53M1016.5,67.83L1013.5,66.21L1016.5,65.6L1024.5,66.21L1016.5,67.83M848.5,406L872.5,401.15L896.5,406M1040.5,406L1016.5,401.15L968.5,401.15L950.5,396.29L968.5,389.01L992.5,386.58L1002.1,376.88L968.5,368.38L944.5,367.17L920.5,362.31L872.5,362.31L848.5,357.46L872.5,352.6L896.5,347.75L920.5,342.9L944.5,338.04L923.5,328.33L944.5,318.62M1304.5,401.15L1292.5,396.29L1304.5,395.08L1328.5,396.29L1304.5,401.15M872.5,391.44L860.5,386.58L872.5,381.73L920.5,384.16L944.5,386.58L920.5,388.2L872.5,391.44M1052.5,376.88L1064.5,379.3L1112.5,379.3L1129.05,376.88L1112.5,374.45L1088.5,367.17L1064.5,359.89L1040.5,367.17L1052.5,376.88M1126.9,357.46L1160.5,364.77L1202.5,357.46L1160.5,348.96L1126.9,357.46M1008.5,347.75L1016.5,349.37L1024.5,347.75L1016.5,346.13L1008.5,347.75M1040.5,338.04L1064.5,342.9L1076.5,338.04L1064.5,335.61L1040.5,338.04M880.5,318.62L872.5,319.23L864.5,318.62M1028.5,318.62L1064.5,323.48L1088.5,318.62M1220.5,318.62L1208.5,323.48L1160.5,325.91L1136.5,328.33L1160.5,333.19L1208.5,333.19L1220.5,338.04L1256.5,345.32L1304.5,347.75L1304.5,347.75L1304.5,347.75L1280.5,357.46L1256.5,359.89L1220.5,367.17L1232.5,376.88L1232.5,386.58L1208.5,391.44L1196.5,396.29L1178.5,406M1352.5,323.48L1328.5,318.62M896.5,289.5L872.5,284.65L848.5,289.5M992.5,289.5L968.5,284.65L944.5,289.5M824.5,277.36L872.5,277.36L908.5,270.08L920.5,265.23L944.5,260.38L968.5,255.52L984.5,250.67L968.5,245.81L920.5,243.39L872.5,243.39L860.5,240.96L872.5,237.49L920.5,238.53L968.5,236.1L980.5,231.25L980.5,221.54L1016.5,211.83L1004.5,202.12L992.5,192.42L1016.5,187.56L1040.5,182.71L1040.5,173L1028.5,163.29L1016.5,158.44L1004.5,153.58L992.5,143.88L980.5,134.17L1010.5,124.46L992.5,114.75L992.5,105.04L994.68,95.33L1004.5,85.62L968.5,80.77L920.5,78.34L872.5,80.77L824.5,84.01M992.5,270.08L1016.5,274.94L1040.5,270.08L1040.5,260.38L1016.5,257.14L992.5,260.38L992.5,270.08M1118.5,270.08L1160.5,278.58L1202.5,270.08L1160.5,261.59L1118.5,270.08M1304.5,272.51L1280.5,270.08L1304.5,265.23L1328.5,270.08L1304.5,272.51M1130.5,240.96L1160.5,247.03L1200.5,240.96L1160.5,232.87L1130.5,240.96M872.5,220.57L841.64,211.83L872.5,205.59L890.5,211.83L872.5,220.57M1352.5,216.69L1328.5,211.83L1304.5,206.98L1280.5,211.83L1262.5,221.54L1280.5,231.25L1256.5,236.1L1232.5,240.96L1232.5,250.67L1232.5,260.38L1232.5,270.08L1232.5,279.79L1208.5,280.76L1172.5,289.5L1196.5,299.21M1148.5,202.12L1160.5,206.98L1184.5,202.12L1160.5,198.89L1148.5,202.12M920.5,196.41L887.98,192.42L920.5,188.42L953.02,192.42L920.5,196.41M968.5,168.15L944.5,163.29L968.5,160.86L992.5,163.29L968.5,168.15M920.5,158.44L908.5,153.58L920.5,152.61L932.5,153.58L920.5,158.44M1352.5,148.73L1328.5,143.88L1352.5,141.45M824.5,132.55L848.5,134.17L824.5,139.02M1100.5,114.75L1112.5,119.6L1136.5,114.75L1112.5,112.32L1100.5,114.75M1028.5,105.04L1064.5,109.9L1088.5,105.04L1064.5,97.76L1028.5,105.04M1157.5,105.04L1160.5,106.66L1168.5,105.04L1160.5,103.42L1157.5,105.04M1352.5,106.26L1340.5,105.04L1352.5,100.19M824.5,86.77L853.3,95.33L824.5,103.9M824.5,72.88L872.5,73.49L920.5,71.06L968.5,68.64L983.5,66.21L1016.5,59.53L1040.5,56.5M944.5,56.5L920.5,61.35L908.5,56.5M1136.5,56.5L1160.5,58.93L1184.5,56.5M1220.5,56.5L1220.5,66.21L1208.5,71.06L1196.5,75.92L1172.5,85.62L1208.5,90.48L1256.5,94.73L1258.02,95.33L1268.5,105.04L1256.5,109.9L1208.5,109.9L1184.5,114.75L1208.5,119.6L1232.5,124.46L1208.5,129.31L1184.5,134.17L1208.5,139.02L1220.5,143.88L1232.5,153.58L1256.5,158.44L1280.5,163.29L1268.5,173L1256.5,174.62L1232.5,173L1232.5,163.29L1208.5,158.44L1160.5,157.9L1124.5,163.29L1160.5,170.57L1184.5,173L1208.5,177.85L1216.5,182.71L1208.5,192.42L1232.5,202.12L1256.5,206.98L1280.5,202.12L1304.5,197.27L1328.5,192.42L1352.5,187.56M824.5,401.15L848.5,396.29L836.5,386.58L864.5,376.88L824.5,368.78M884.5,396.29L920.5,403.57L938.5,396.29L920.5,391.44L884.5,396.29M992.5,406L968.5,404.38L944.5,406M1280.5,406L1268.5,396.29L1304.5,392.65L1352.5,391.44M1352.5,401.15L1328.5,406M896.5,376.88L920.5,379.3L968.5,384.97L992.5,376.88L968.5,370.81L920.5,372.02L896.5,376.88M1056.5,367.17L1064.5,372.02L1072.5,367.17L1064.5,364.74L1056.5,367.17M1244.5,367.17L1256.5,372.02L1280.5,367.17L1256.5,364.74L1244.5,367.17M1136.5,357.46L1160.5,362.68L1190.5,357.46L1160.5,351.39L1136.5,357.46M1352.5,359.89L1316.5,367.17L1304.5,372.02L1280.5,376.88L1264.5,386.58L1256.5,391.44L1232.5,396.29L1208.5,398.72L1190.5,406M824.5,355.03L860.5,347.75L824.5,340.47M1244.5,338.04L1256.5,340.47L1304.5,341.28L1328.5,338.04L1304.5,333.19L1256.5,333.19L1244.5,338.04M1352.5,342.9L1336.5,347.75L1352.5,352.6M848.5,328.33L872.5,333.19L889.64,328.33L872.5,325.3L848.5,328.33M1052.5,318.62L1064.5,320.24L1072.5,318.62M1244.5,318.62L1256.5,323.48L1280.5,318.62M824.5,272.51L872.5,272.51L884.5,270.08L914.5,260.38L920.5,255.52L944.5,250.67L920.5,248.24L872.5,248.24L848.5,250.67L824.5,255.52M1130.5,270.08L1160.5,276.15L1190.5,270.08L1160.5,264.02L1130.5,270.08M1352.5,274.94L1304.5,277.36L1280.5,279.79L1256.5,284.65L1208.5,282.7L1180.5,289.5L1208.5,297.99L1256.5,294.35L1304.5,294.35L1352.5,294.35M824.5,245.81L836.5,240.96L824.5,236.1M1142.5,240.96L1160.5,244.6L1184.5,240.96L1160.5,236.1L1142.5,240.96M880.5,231.25L920.5,233.68L944.5,231.25L920.5,222.42L880.5,231.25M1352.5,236.1L1304.5,232.87L1264.5,240.96L1280.5,250.67L1304.5,255.52L1352.5,255.52M1274.5,221.54L1304.5,229.63L1344.5,221.54L1304.5,213.45L1274.5,221.54M910.5,211.83L920.5,220.66L968.5,219.11L997.3,211.83L980.5,202.12L968.5,197.27L920.5,200.22L896.5,202.12L910.5,211.83M824.5,200.51L864.5,192.42L824.5,184.33M1240.5,192.42L1256.5,197.27L1280.5,192.42L1292.5,182.71L1256.5,177.85L1232.5,182.71L1240.5,192.42M1292.5,173L1304.5,177.85L1328.5,173L1304.5,168.15L1292.5,173M1148.5,163.29L1160.5,165.72L1184.5,163.29L1160.5,161.49L1148.5,163.29M1352.5,158.44L1328.5,163.29L1352.5,168.15M1244.5,143.88L1256.5,148.73L1280.5,143.88L1256.5,139.02L1244.5,143.88M824.5,129.31L872.5,132.95L896.5,134.17L872.5,139.02L848.5,143.88L848.5,153.58L848.5,163.29L836.5,173L872.5,182.71L872.5,182.71L920.5,184.61L968.5,187.56L992.5,182.71L968.5,177.85L944.5,173L920.5,168.15L896.5,163.29L884.5,153.58L920.5,150.67L956.5,153.58L968.5,156.01L980.5,153.58L968.5,148.73L962.5,143.88L944.5,134.17L968.5,132.55L998.5,124.46L968.5,116.37L928.5,124.46L920.5,129.31L914.5,124.46L903.95,114.75L911.09,105.04L872.5,97.24L839.14,105.04L824.5,108.68M1052.5,105.04L1064.5,106.66L1072.5,105.04L1064.5,102.61L1052.5,105.04M1352.5,108.68L1316.5,105.04L1343.09,95.33L1328.5,85.62L1352.5,80.77M944.5,95.33L968.5,100.19L977.23,95.33L980.5,85.62L968.5,84.01L920.5,83.2L896.5,85.62L920.5,90.48L944.5,95.33M824.5,66.82L872.5,68.64L896.5,66.21L884.5,56.5M848.5,56.5L824.5,64.59M1244.5,56.5L1244.5,66.21L1232.5,75.92L1208.5,80.77L1196.5,85.62L1208.5,87.24L1256.5,88.66L1273.26,95.33L1292.5,105.04L1280.5,114.75L1304.5,119.6L1316.5,124.46L1328.5,134.17L1352.5,136.59M1352.5,61.35L1340.5,56.5M908.5,396.29L920.5,398.72L926.5,396.29L920.5,394.67L908.5,396.29M1232.5,406L1208.5,403.57L1202.5,406M1280.5,386.58L1304.5,390.22L1340.5,386.58L1304.5,379.3L1280.5,386.58M824.5,384.16L848.5,376.88L824.5,372.02M932.5,376.88L968.5,381.73L982.9,376.88L968.5,373.23L932.5,376.88M1146.1,357.46L1160.5,360.59L1178.5,357.46L1160.5,353.82L1146.1,357.46M1352.5,364.74L1340.5,367.17L1352.5,372.02M824.5,350.18L836.5,347.75L824.5,345.32M1188.5,289.5L1208.5,295.57L1248.5,289.5L1208.5,284.65L1188.5,289.5M1142.5,270.08L1160.5,273.72L1178.5,270.08L1160.5,266.44L1142.5,270.08M832.5,260.38L872.5,268.47L902.5,260.38L872.5,252.28L832.5,260.38M1154.5,240.96L1160.5,242.17L1168.5,240.96L1160.5,239.34L1154.5,240.96M1280.5,240.96L1304.5,248.24L1340.5,240.96L1304.5,236.1L1280.5,240.96M1286.5,221.54L1304.5,226.4L1328.5,221.54L1304.5,216.69L1286.5,221.54M944.5,211.83L968.5,214.26L978.1,211.83L968.5,206.98L944.5,211.83M824.5,197.27L848.5,192.42L824.5,187.56M1248.5,182.71L1256.5,187.56L1268.5,182.71L1256.5,181.09L1248.5,182.71M860.5,173L872.5,176.24L896.5,173L872.5,168.15L860.5,173M880.5,143.88L920.5,148.73L950.5,143.88L920.5,135.78L880.5,143.88M824.5,126.08L872.5,130.53L902.5,124.46L872.5,114.94L868.14,114.75L824.5,112.73M944.5,124.46L968.5,129.31L986.5,124.46L968.5,119.6L944.5,124.46M855.42,105.04L872.5,114.31L892.26,105.04L872.5,101.04L855.42,105.04M1352.5,111.11L1316.5,114.75L1340.5,124.46L1352.5,129.31M1288.5,95.33L1304.5,101.91L1324.26,95.33L1304.5,88.76L1288.5,95.33M1280.5,56.5L1268.5,66.21L1304.5,73.49L1340.5,66.21L1316.5,56.5M1296.5,386.58L1304.5,387.8L1316.5,386.58L1304.5,384.16L1296.5,386.58M824.5,379.3L832.5,376.88L824.5,375.26M956.5,376.88L968.5,378.49L973.3,376.88L968.5,375.66L956.5,376.88M1155.7,357.46L1160.5,358.5L1166.5,357.46L1160.5,356.24L1155.7,357.46M1196.5,289.5L1208.5,293.14L1232.5,289.5L1208.5,286.59L1196.5,289.5M1154.5,270.08L1160.5,271.3L1166.5,270.08L1160.5,268.87L1154.5,270.08M848.5,260.38L872.5,265.23L890.5,260.38L872.5,255.52L848.5,260.38M1296.5,240.96L1304.5,243.39L1316.5,240.96L1304.5,239.34L1296.5,240.96M1298.5,221.54L1304.5,223.16L1312.5,221.54L1304.5,219.92L1298.5,221.54M824.5,194.03L832.5,192.42L824.5,190.8M896.5,143.88L920.5,146.79L938.5,143.88L920.5,139.02L896.5,143.88M836.5,124.46L872.5,128.1L890.5,124.46L872.5,118.75L836.5,124.46M960.5,124.46L968.5,126.08L974.5,124.46L968.5,122.84L960.5,124.46M871.69,105.04L872.5,105.48L873.44,105.04L872.5,104.85L871.69,105.04M1352.5,113.54L1340.5,114.75L1352.5,119.6M1303.74,95.33L1304.5,95.65L1305.44,95.33L1304.5,95.02L1303.74,95.33M1292.5,66.21L1304.5,68.64L1316.5,66.21L1304.5,61.35L1292.5,66.21M1204.5,289.5L1208.5,290.71L1216.5,289.5L1208.5,288.53L1204.5,289.5M864.5,260.38L872.5,261.99L878.5,260.38L872.5,258.76L864.5,260.38M912.5,143.88L920.5,144.85L926.5,143.88L920.5,142.26L912.5,143.88M860.5,124.46L872.5,125.67L878.5,124.46L872.5,122.55L860.5,124.46"/>
</g>
<rect x="824.5" y="56.5" width="528.0" height="349.5" fill="none" stroke="#000" stroke-width="1.3"/>
<path stroke="#000" stroke-width="1.3" d="M872.5,406V400.7M872.5,56.5V61.8M968.5,406V400.7M968.5,56.5V61.8M1064.5,406V400.7M1064.5,56.5V61.8M1160.5,406V400.7M1160.5,56.5V61.8M1256.5,406V400.7M1256.5,56.5V61.8M1352.5,406V400.7M1352.5,56.5V61.8M824.5,406H829.8M1352.5,406H1347.2M824.5,308.92H829.8M1352.5,308.92H1347.2M824.5,211.83H829.8M1352.5,211.83H1347.2M824.5,114.75H829.8M1352.5,114.75H1347.2"/>
<text class="t" x="872.5" y="444.6" text-anchor="middle">2</text>
<text class="t" x="968.5" y="444.6" text-anchor="middle">4</text>
<text class="t" x="1064.5" y="444.6" text-anchor="middle">6</text>
<text class="t" x="1160.5" y="444.6" text-anchor="middle">8</text>
<text class="t" x="1256.5" y="444.6" text-anchor="middle">10</text>
<text class="t" x="1352.5" y="444.6" text-anchor="middle">12</text>
<text class="t" x="817.7" y="418.3" text-anchor="end">1980</text>
<text class="t" x="817.7" y="321.22" text-anchor="end">1990</text>
<text class="t" x="817.7" y="224.13" text-anchor="end">2000</text>
<text class="t" x="817.7" y="127.05" text-anchor="end">2010</text>
<text class="l" x="1090" y="481" text-anchor="middle">Month</text>
<text class="l" style="font-size:36px;letter-spacing:0.4px" transform="translate(725.3,230.05) rotate(-90)" x="0" y="0" text-anchor="middle">Year</text>
<text class="l" x="1089.3" y="28.5" text-anchor="middle">LKO</text>
<clipPath id="clipQHD"><rect x="128.5" y="549.0" width="528.0" height="349.5"/></clipPath>
<g clip-path="url(#clipQHD)">
<path fill="#00008f" stroke="#00008f" stroke-width="0.6" fill-rule="evenodd" d="M128.5,898.5L176.5,898.5L224.5,898.5L272.5,898.5L320.5,898.5L368.5,898.5L416.5,898.5L464.5,898.5L512.5,898.5L560.5,898.5L608.5,898.5L656.5,898.5L656.5,888.79L656.5,879.08L656.5,869.38L656.5,859.67L608.5,849.96L656.5,840.25L656.5,830.54L656.5,820.83L656.5,811.12L656.5,801.42L656.5,791.71L656.5,782L656.5,772.29L656.5,762.58L656.5,752.88L656.5,743.17L656.5,733.46L656.5,723.75L656.5,714.04L656.5,704.33L656.5,694.62L656.5,684.92L608.5,694.62L560.5,684.92L608.5,675.21L656.5,684.92L656.5,675.21L656.5,665.5L656.5,655.79L656.5,646.08L656.5,636.38L656.5,626.67L656.5,616.96L656.5,607.25L656.5,597.54L656.5,587.83L656.5,578.12L656.5,568.42L656.5,558.71L656.5,549L608.5,549L560.5,549L512.5,549L464.5,549L416.5,549L368.5,549L320.5,549L272.5,549L224.5,549L176.5,549L128.5,549L128.5,558.71L128.5,568.42L128.5,578.12L128.5,587.83L128.5,597.54L128.5,607.25L128.5,616.96L128.5,626.67L128.5,636.38L128.5,646.08L128.5,655.79L128.5,665.5L128.5,675.21L128.5,684.92L128.5,694.62L128.5,704.33L128.5,714.04L128.5,723.75L128.5,733.46L128.5,743.17L128.5,752.88L128.5,762.58L128.5,772.29L128.5,782L128.5,791.71L128.5,801.42L128.5,811.12L128.5,820.83L128.5,830.54L128.5,840.25L128.5,849.96L128.5,859.67L176.5,849.96L224.5,859.67L272.5,849.96L320.5,859.67L272.5,869.38L224.5,859.67L176.5,869.38L128.5,859.67L128.5,869.38L128.5,879.08L128.5,888.79L128.5,898.5Z"/>
<path fill="#0000cf" stroke="#0000cf" stroke-width="0.6" fill-rule="evenodd" d="M128.5,898.5L176.5,898.5L224.5,898.5L272.5,898.5L320.5,898.5L368.5,898.5L416.5,898.5L464.5,898.5L512.5,898.5L560.5,898.5L608.5,898.5L656.5,898.5L656.5,888.79L656.5,879.08L656.5,869.38L656.5,859.67L608.5,849.96L656.5,840.25L656.5,830.54L656.5,820.83L656.5,811.12L656.5,801.42L656.5,791.71L656.5,782L656.5,772.29L656.5,762.58L656.5,752.88L656.5,743.17L656.5,733.46L656.5,723.75L656.5,714.04L656.5,704.33L656.5,694.62L656.5,684.92L608.5,694.62L560.5,684.92L608.5,675.21L656.5,684.92L656.5,675.21L656.5,665.5L656.5,655.79L656.5,646.08L656.5,636.38L656.5,626.67L656.5,616.96L656.5,607.25L656.5,597.54L656.5,587.83L656.5,578.12L656.5,568.42L656.5,558.71L656.5,549L608.5,549L560.5,549L512.5,549L464.5,549L416.5,549L368.5,549L320.5,549L272.5,549L224.5,549L176.5,549L128.5,549L128.5,558.71L128.5,568.42L128.5,578.12L128.5,587.83L128.5,597.54L128.5,607.25L128.5,616.96L128.5,626.67L128.5,636.38L128.5,646.08L128.5,655.79L128.5,665.5L128.5,675.21L128.5,684.92L128.5,694.62L128.5,704.33L128.5,714.04L128.5,723.75L128.5,733.46L128.5,743.17L128.5,752.88L128.5,762.58L128.5,772.29L128.5,782L128.5,791.71L128.5,801.42L128.5,811.12L128.5,820.83L128.5,830.54L128.5,840.25L128.5,849.96L128.5,859.67L176.5,849.96L224.5,859.67L272.5,849.96L308.5,857.24L320.5,854.81L368.5,854.81L392.5,849.96L416.5,845.1L424.5,849.96L424.5,859.67L416.5,860.64L368.5,864.52L320.5,864.52L308.5,862.09L272.5,869.38L224.5,859.67L176.5,869.38L128.5,859.67L128.5,869.38L128.5,879.08L128.5,888.79L128.5,898.5ZM320.5,891.22L308.5,888.79L320.5,883.94L344.5,888.79L320.5,891.22ZM416.5,891.22L392.5,888.79L416.5,883.94L428.5,888.79L416.5,891.22ZM512.5,860.88L504.5,859.67L512.5,857.24L536.5,859.67L512.5,860.88ZM560.5,602.4L552.5,597.54L560.5,595.11L566.5,597.54L560.5,602.4ZM320.5,845.1L308.5,840.25L320.5,835.4L332.5,840.25L320.5,845.1ZM368.5,825.69L356.5,820.83L368.5,819.22L392.5,820.83L368.5,825.69ZM416.5,786.85L392.5,782L416.5,777.15L440.5,782L416.5,786.85ZM512.5,676.83L488.5,675.21L512.5,674.4L520.5,675.21L512.5,676.83ZM320.5,748.02L296.5,743.17L296.5,733.46L320.5,728.6L368.5,728.6L402.79,733.46L368.5,735.89L332.5,743.17L320.5,748.02ZM368.5,803.03L363.7,801.42L368.5,796.56L392.5,801.42L368.5,803.03ZM416.5,748.02L404.5,743.17L416.5,736.23L464.5,742.2L488.5,743.17L464.5,748.02L416.5,748.02ZM320.5,709.19L308.5,704.33L320.5,699.48L368.5,701.91L392.5,704.33L368.5,709.19L320.5,709.19ZM416.5,699.48L404.5,694.62L416.5,689.77L428.5,694.62L416.5,699.48ZM464.5,707.57L456.5,704.33L464.5,703.73L467.5,704.33L464.5,707.57ZM320.5,590.26L312.5,587.83L320.5,586.22L344.5,587.83L320.5,590.26ZM416.5,660.65L392.5,655.79L392.5,646.08L368.5,641.23L344.5,636.38L344.5,626.67L368.5,621.81L416.5,621.81L421.3,626.67L428.5,636.38L464.5,643.66L488.5,646.08L464.5,647.3L422.5,655.79L416.5,660.65ZM368.5,573.27L356.5,568.42L368.5,563.56L380.5,568.42L368.5,573.27ZM464.5,617.93L440.5,616.96L440.5,607.25L464.5,605.63L512.5,605.63L536.5,607.25L536.5,616.96L512.5,621.81L464.5,617.93ZM512.5,573.27L488.5,568.42L464.5,563.56L440.5,558.71L464.5,556.28L512.5,556.28L520.5,558.71L518.5,568.42L512.5,573.27Z"/>
<path fill="#0010ff" stroke="#0010ff" stroke-width="0.6" fill-rule="evenodd" d="M128.5,898.5L176.5,898.5L224.5,898.5L272.5,898.5L320.5,898.5L368.5,898.5L416.5,898.5L464.5,898.5L512.5,898.5L560.5,898.5L608.5,898.5L656.5,898.5L656.5,888.79L656.5,879.08L656.5,869.38L656.5,859.67L608.5,849.96L656.5,840.25L656.5,830.54L656.5,820.83L656.5,811.12L656.5,801.42L656.5,791.71L656.5,782L656.5,772.29L656.5,762.58L656.5,752.88L656.5,743.17L656.5,733.46L656.5,723.75L656.5,714.04L656.5,704.33L656.5,694.62L656.5,684.92L608.5,694.62L560.5,684.92L608.5,675.21L656.5,684.92L656.5,675.21L656.5,665.5L656.5,655.79L656.5,646.08L656.5,636.38L656.5,626.67L656.5,616.96L656.5,607.25L656.5,597.54L656.5,587.83L656.5,578.12L656.5,568.42L656.5,558.71L656.5,549L608.5,549L560.5,549L512.5,549L464.5,549L440.5,549L464.5,551.43L512.5,551.43L536.5,558.71L530.5,568.42L536.5,578.12L512.5,582.98L464.5,582.98L416.5,582.98L392.5,587.83L368.5,590.26L320.5,595.11L296.5,587.83L320.5,582.98L356.5,578.12L332.5,568.42L320.5,563.56L314.5,558.71L296.5,549L272.5,549L224.5,549L176.5,549L128.5,549L128.5,558.71L128.5,568.42L128.5,578.12L128.5,587.83L128.5,597.54L128.5,607.25L128.5,616.96L128.5,626.67L128.5,636.38L128.5,646.08L128.5,655.79L128.5,665.5L128.5,675.21L128.5,684.92L128.5,694.62L128.5,704.33L128.5,714.04L128.5,723.75L128.5,733.46L128.5,743.17L128.5,752.88L128.5,762.58L128.5,772.29L128.5,782L128.5,791.71L128.5,801.42L128.5,811.12L128.5,820.83L128.5,830.54L128.5,840.25L128.5,849.96L128.5,859.67L176.5,849.96L200.5,854.81L200.5,849.96L224.5,845.1L248.5,849.96L248.5,854.81L272.5,849.96L284.5,852.39L296.5,849.96L284.5,840.25L296.5,830.54L320.5,825.69L332.5,820.83L320.5,815.98L312.5,811.12L320.5,809.91L332.5,811.12L368.5,815.98L404.5,811.12L368.5,806.27L354.1,801.42L344.5,791.71L320.5,786.85L296.5,782L296.5,772.29L272.5,767.44L260.5,762.58L272.5,757.73L296.5,752.88L272.5,748.02L260.5,743.17L260.5,733.46L272.5,731.03L308.5,723.75L314.5,714.04L284.5,704.33L272.5,696.24L271.17,694.62L272.5,694.36L320.5,689.77L344.5,684.92L320.5,680.06L280.5,675.21L320.5,670.35L368.5,670.35L392.5,665.5L368.5,660.65L320.5,655.79L320.5,655.79L296.5,646.08L272.5,641.23L260.5,636.38L260.5,626.67L272.5,621.81L296.5,616.96L320.5,612.1L344.5,607.25L368.5,604.82L404.5,597.54L416.5,592.69L428.5,597.54L464.5,602.4L512.5,602.4L536.5,597.54L560.5,590.26L578.5,597.54L565.3,607.25L572.5,616.96L560.5,621.81L536.5,626.67L512.5,629.09L506.5,626.67L464.5,619.87L430.9,626.67L452.5,636.38L464.5,638.8L512.5,643.66L524.5,646.08L512.5,647.7L464.5,649.72L434.5,655.79L428.5,665.5L464.5,672.78L512.5,672.78L536.5,675.21L512.5,680.06L464.5,680.06L440.5,684.92L452.5,694.62L464.5,697.66L497.5,704.33L481.2,714.04L488.5,723.75L464.5,724.96L440.5,723.75L416.5,718.9L392.5,723.75L416.5,727.48L425.43,733.46L464.5,740.25L512.5,738.31L536.5,743.17L536.5,752.88L512.5,757.73L464.5,754L416.5,757.73L392.5,762.58L416.5,767.44L464.5,771.16L488.5,772.29L467.93,782L488.5,791.71L488.5,801.42L488.5,811.12L464.5,815.98L440.5,820.83L419.5,830.54L440.5,840.25L440.5,849.96L440.5,859.67L416.5,862.58L374.5,869.38L416.5,877.87L440.5,879.08L452.5,888.79L416.5,896.07L368.5,893.65L320.5,896.07L284.5,888.79L296.5,879.08L296.5,869.38L284.5,866.95L272.5,869.38L248.5,864.52L224.5,860.88L212.5,862.09L176.5,869.38L128.5,859.67L128.5,869.38L128.5,879.08L128.5,888.79L128.5,898.5ZM176.5,880.05L170.5,879.08L176.5,876.66L200.5,879.08L176.5,880.05ZM464.5,874.23L458.5,869.38L464.5,866.95L472.5,869.38L464.5,874.23ZM512.5,883.94L488.5,879.08L512.5,877.47L524.5,879.08L512.5,883.94ZM224.5,782.97L216.5,782L224.5,779.57L248.5,782L224.5,782.97ZM272.5,803.03L266.5,801.42L272.5,798.99L278.5,801.42L272.5,803.03ZM272.5,570.03L248.5,568.42L272.5,567.2L296.5,568.42L272.5,570.03ZM512.5,863.31L488.5,859.67L512.5,852.39L560.5,854.81L572.5,859.67L560.5,864.52L512.5,863.31ZM224.5,686.13L200.5,684.92L212.5,675.21L224.5,673.59L264.5,675.21L230.5,684.92L224.5,686.13ZM512.5,845.1L488.5,840.25L512.5,835.4L536.5,840.25L512.5,845.1ZM560.5,783.62L557.07,782L560.5,779.57L566.5,782L560.5,783.62ZM512.5,823.61L498.79,820.83L512.5,818.06L518.15,820.83L512.5,823.61ZM560.5,728.6L536.5,723.75L560.5,718.9L572.5,723.75L560.5,728.6ZM560.5,658.22L552.5,655.79L560.5,653.36L572.5,655.79L560.5,658.22ZM356.5,840.25L368.5,845.1L392.5,840.25L368.5,835.4L356.5,840.25ZM356.5,743.17L368.5,748.02L380.5,743.17L368.5,740.74L356.5,743.17ZM344.5,694.62L368.5,697.05L380.5,694.62L368.5,689.77L344.5,694.62ZM404.5,568.42L416.5,573.27L440.5,568.42L416.5,563.56L404.5,568.42Z"/>
<path fill="#0050ff" stroke="#0050ff" stroke-width="0.6" fill-rule="evenodd" d="M128.5,898.5L152.5,898.5L176.5,897.29L224.5,897.29L248.5,898.5L272.5,898.5L296.5,898.5L272.5,893.65L266.5,888.79L224.5,880.3L176.5,882L158.5,879.08L176.5,871.8L224.5,877.47L264.5,869.38L224.5,863.31L188.5,866.95L176.5,869.38L152.5,864.52L128.5,862.09L128.5,869.38L128.5,879.08L128.5,888.79L128.5,898.5ZM536.5,898.5L560.5,898.5L608.5,898.5L656.5,898.5L656.5,891.22L608.5,891.22L600.5,888.79L608.5,883.94L656.5,883.94L656.5,879.08L656.5,869.38L656.5,859.67L608.5,849.96L656.5,840.25L656.5,830.54L656.5,820.83L656.5,811.12L656.5,801.42L656.5,791.71L656.5,782L656.5,772.29L656.5,762.58L656.5,752.88L656.5,743.17L656.5,733.46L656.5,726.18L632.5,723.75L656.5,718.9L656.5,714.04L656.5,704.33L656.5,694.62L656.5,684.92L632.5,689.77L632.5,694.62L608.5,699.48L584.5,704.33L584.5,714.04L596.5,723.75L566.5,733.46L584.5,743.17L584.5,752.88L560.5,757.73L536.5,762.58L536.5,772.29L512.5,773.1L474.79,782L512.5,790.9L524.5,791.71L560.5,798.99L584.5,801.42L560.5,803.03L520.5,811.12L546.38,820.83L524.5,830.54L560.5,837.82L584.5,840.25L584.5,849.96L596.5,859.67L584.5,869.38L560.5,874.23L548.5,879.08L520.5,888.79L536.5,898.5ZM560.5,786.85L550.21,782L560.5,774.72L578.5,782L560.5,786.85ZM386.5,869.38L416.5,875.44L446.5,869.38L416.5,864.52L386.5,869.38ZM488.5,869.38L512.5,874.23L548.5,869.38L512.5,865.73L488.5,869.38ZM456.5,859.67L464.5,862.09L472.5,859.67L488.5,849.96L464.5,845.1L456.5,849.96L456.5,859.67ZM128.5,840.25L128.5,845.1L152.5,840.25L176.5,835.4L200.5,830.54L224.5,828.11L260.5,820.83L272.5,818.41L296.5,811.12L320.5,807.48L344.5,801.42L320.5,793.33L296.5,791.71L272.5,786.85L224.5,784.91L200.5,782L224.5,774.72L248.5,772.29L236.5,762.58L248.5,752.88L236.5,743.17L236.5,733.46L272.5,726.18L284.5,723.75L302.5,714.04L272.5,705.95L248.5,704.33L257.83,694.62L272.5,691.66L312.5,684.92L272.5,677.78L242.5,684.92L224.5,688.56L176.5,689.77L164.5,684.92L176.5,680.06L188.5,675.21L224.5,670.35L272.5,668.97L296.5,665.5L288.5,655.79L272.5,650.94L248.5,646.08L236.5,636.38L236.5,626.67L260.5,616.96L272.5,612.1L296.5,607.25L296.5,597.54L280.5,587.83L320.5,579.74L332.5,578.12L320.5,573.27L272.5,573.27L224.5,570.84L200.5,568.42L176.5,563.56L152.5,558.71L176.5,553.85L200.5,549L176.5,549L128.5,549L128.5,558.71L128.5,568.42L128.5,578.12L128.5,582.98L152.5,587.83L128.5,592.69L128.5,597.54L128.5,607.25L128.5,616.96L128.5,626.67L128.5,636.38L128.5,646.08L128.5,655.79L128.5,665.5L128.5,675.21L128.5,684.92L128.5,694.62L128.5,704.33L128.5,709.19L140.5,714.04L128.5,718.9L128.5,723.75L128.5,733.46L128.5,743.17L128.5,752.88L128.5,762.58L128.5,769.86L152.5,772.29L128.5,777.15L128.5,782L128.5,791.71L128.5,796.56L152.5,801.42L140.5,811.12L128.5,813.55L128.5,820.83L128.5,830.54L128.5,840.25ZM176.5,754.49L152.5,752.88L176.5,750.45L200.5,752.88L176.5,754.49ZM272.5,806.27L254.5,801.42L272.5,794.14L290.5,801.42L272.5,806.27ZM176.5,641.23L152.5,636.38L176.5,631.52L200.5,636.38L176.5,641.23ZM176.5,735.89L164.5,733.46L176.5,732.24L200.5,733.46L176.5,735.89ZM176.5,706.76L152.5,704.33L176.5,699.48L200.5,704.33L176.5,706.76ZM425.5,830.54L464.5,839.56L509.07,830.54L464.5,821.53L425.5,830.54ZM356.5,811.12L368.5,812.74L380.5,811.12L368.5,809.51L356.5,811.12ZM423.77,762.58L464.5,768.91L505.23,762.58L464.5,756.26L423.77,762.58ZM436.59,733.46L464.5,738.31L504.5,733.46L464.5,727.39L436.59,733.46ZM502.07,714.04L512.5,718.9L536.5,714.04L512.5,709.19L502.07,714.04ZM488.5,694.62L512.5,699.48L536.5,694.62L560.5,689.77L584.5,689.77L560.5,684.92L608.5,675.21L656.5,684.92L656.5,675.21L656.5,665.5L656.5,655.79L656.5,646.08L656.5,641.23L608.5,641.23L560.5,641.23L548.5,646.08L560.5,648.51L596.5,655.79L560.5,663.07L536.5,655.79L512.5,650.94L464.5,652.15L446.5,655.79L452.5,665.5L464.5,667.93L512.5,671.16L552.5,675.21L512.5,683.3L488.5,684.92L488.5,694.62ZM488.5,636.38L512.5,638.8L536.5,636.38L512.5,633.95L494.5,626.67L464.5,621.81L440.5,626.67L464.5,634.76L488.5,636.38ZM632.5,626.67L656.5,631.52L656.5,626.67L656.5,616.96L656.5,607.25L656.5,599.16L644.5,597.54L656.5,592.69L656.5,587.83L656.5,582.98L644.5,578.12L656.5,575.7L656.5,568.42L656.5,558.71L656.5,549L608.5,549L560.5,549L536.5,549L552.5,558.71L542.5,568.42L560.5,575.7L572.5,578.12L566.5,587.83L590.5,597.54L574.9,607.25L596.5,616.96L608.5,621.81L632.5,626.67ZM344.5,597.54L368.5,599.97L380.5,597.54L368.5,595.11L344.5,597.54ZM452.5,597.54L464.5,599.16L512.5,599.16L520.5,597.54L512.5,592.69L464.5,592.69L452.5,597.54ZM232.5,558.71L272.5,564.78L302.5,558.71L272.5,550.62L232.5,558.71Z"/>
<path fill="#009fff" stroke="#009fff" stroke-width="0.6" fill-rule="evenodd" d="M136.5,888.79L176.5,894.86L224.5,894.86L254.5,888.79L224.5,882.72L176.5,883.94L146.5,879.08L152.5,869.38L128.5,866.95L128.5,869.38L128.5,879.08L128.5,886.36L136.5,888.79ZM536.5,888.79L560.5,896.07L584.5,888.79L560.5,881.51L536.5,888.79ZM584.5,898.5L608.5,898.5L656.5,898.5L656.5,896.07L608.5,896.07L584.5,898.5ZM188.5,869.38L224.5,874.23L248.5,869.38L224.5,865.73L188.5,869.38ZM398.5,869.38L416.5,873.02L434.5,869.38L416.5,866.46L398.5,869.38ZM504.5,869.38L512.5,870.99L524.5,869.38L512.5,868.16L504.5,869.38ZM614.5,869.38L656.5,877.87L656.5,869.38L656.5,860.88L614.5,869.38ZM632.5,845.1L656.5,840.25L656.5,830.54L656.5,820.83L656.5,811.12L656.5,801.42L656.5,796.56L632.5,801.42L608.5,806.27L560.5,806.27L536.5,811.12L560.5,818.41L584.5,820.83L608.5,825.69L620.5,830.54L632.5,840.25L632.5,845.1ZM128.5,830.54L128.5,837.82L164.5,830.54L176.5,825.69L224.5,823.26L236.5,820.83L272.5,813.55L280.5,811.12L272.5,809.51L242.5,801.42L264.5,791.71L224.5,786.85L184.5,791.71L188.5,801.42L176.5,806.27L164.5,811.12L128.5,818.41L128.5,820.83L128.5,830.54ZM431.5,830.54L464.5,838.17L502.21,830.54L464.5,822.91L431.5,830.54ZM548.5,830.54L560.5,832.97L584.5,830.54L560.5,825.69L548.5,830.54ZM302.5,801.42L320.5,805.06L334.9,801.42L320.5,796.56L302.5,801.42ZM548.5,791.71L560.5,794.14L584.5,791.71L560.5,790.09L543.36,782L512.5,774.72L481.64,782L512.5,789.28L548.5,791.71ZM152.5,782L176.5,786.85L184.5,782L176.5,777.15L152.5,782ZM590.5,782L608.5,789.28L644.5,782L632.5,772.29L608.5,767.44L584.5,772.29L590.5,782ZM128.5,762.58L128.5,765.01L176.5,769.86L212.5,762.58L176.5,757.73L128.5,757.73L128.5,762.58ZM438.32,762.58L464.5,766.65L490.68,762.58L464.5,758.52L438.32,762.58ZM632.5,762.58L656.5,767.44L656.5,762.58L656.5,757.73L632.5,762.58ZM128.5,743.17L128.5,750.45L176.5,745.59L200.5,743.17L176.5,740.74L140.5,733.46L176.5,729.82L224.5,731.84L264.5,723.75L272.5,721.32L290.5,714.04L272.5,709.19L224.5,706.76L176.5,711.61L164.5,714.04L136.5,723.75L128.5,728.6L128.5,733.46L128.5,743.17ZM632.5,743.17L656.5,748.02L656.5,743.17L656.5,733.46L656.5,731.03L608.5,725.37L578.5,733.46L608.5,741.55L632.5,743.17ZM447.76,733.46L464.5,736.37L488.5,733.46L464.5,729.82L447.76,733.46ZM128.5,694.62L128.5,701.91L164.5,694.62L140.5,684.92L128.5,680.06L128.5,684.92L128.5,694.62ZM188.5,694.62L224.5,701.91L244.5,694.62L224.5,690.98L188.5,694.62ZM254.5,684.92L272.5,688.96L296.5,684.92L272.5,680.63L254.5,684.92ZM584.5,680.06L608.5,675.21L632.5,680.06L632.5,675.21L656.5,670.35L656.5,665.5L656.5,655.79L656.5,650.94L632.5,655.79L608.5,660.65L584.5,665.5L584.5,675.21L584.5,680.06ZM152.5,665.5L176.5,670.35L224.5,667.12L248.5,665.5L248.5,655.79L224.5,650.94L176.5,650.94L152.5,646.08L128.5,641.23L128.5,646.08L128.5,655.79L128.5,660.65L152.5,665.5ZM472.5,665.5L512.5,669.55L552.5,665.5L520.5,655.79L512.5,654.17L464.5,654.58L458.5,655.79L464.5,660.65L472.5,665.5ZM450.1,626.67L464.5,631.52L482.5,626.67L464.5,623.75L450.1,626.67ZM140.5,616.96L176.5,624.24L224.5,621.81L236.5,616.96L264.5,607.25L224.5,599.16L200.5,597.54L176.5,592.69L152.5,597.54L140.5,607.25L140.5,616.96ZM620.5,616.96L656.5,624.24L656.5,616.96L656.5,607.25L656.5,602.4L620.5,597.54L648.5,587.83L620.5,578.12L608.5,573.27L596.5,578.12L578.5,587.83L602.5,597.54L584.5,607.25L608.5,615.34L620.5,616.96ZM152.5,578.12L176.5,582.98L224.5,582.98L272.5,582.98L296.5,578.12L272.5,576.51L224.5,575.7L176.5,573.27L152.5,578.12ZM554.5,568.42L560.5,570.84L584.5,568.42L560.5,563.56L554.5,568.42ZM632.5,568.42L656.5,570.84L656.5,568.42L656.5,558.71L656.5,549L632.5,549L608.5,553.85L584.5,558.71L608.5,563.56L632.5,568.42ZM248.5,558.71L272.5,562.35L290.5,558.71L272.5,553.85L248.5,558.71Z"/>
<path fill="#00dfff" stroke="#00dfff" stroke-width="0.6" fill-rule="evenodd" d="M152.5,888.79L176.5,892.43L224.5,892.43L242.5,888.79L224.5,885.15L176.5,885.88L152.5,888.79ZM552.5,888.79L560.5,891.22L568.5,888.79L560.5,886.36L552.5,888.79ZM128.5,879.08L128.5,881.51L134.5,879.08L128.5,874.23L128.5,879.08ZM212.5,869.38L224.5,870.99L232.5,869.38L224.5,868.16L212.5,869.38ZM410.5,869.38L416.5,870.59L422.5,869.38L416.5,868.4L410.5,869.38ZM626.5,869.38L656.5,875.44L656.5,869.38L656.5,863.31L626.5,869.38ZM128.5,830.54L128.5,832.97L140.5,830.54L128.5,825.69L128.5,830.54ZM437.5,830.54L464.5,836.78L495.36,830.54L464.5,824.3L437.5,830.54ZM644.5,830.54L656.5,835.4L656.5,830.54L656.5,820.83L656.5,815.98L632.5,820.83L644.5,830.54ZM200.5,811.12L224.5,815.98L248.5,811.12L230.5,801.42L248.5,791.71L224.5,788.8L200.5,791.71L212.5,801.42L200.5,811.12ZM552.5,811.12L560.5,813.55L584.5,811.12L560.5,809.51L552.5,811.12ZM314.5,801.42L320.5,802.63L325.3,801.42L320.5,799.8L314.5,801.42ZM488.5,782L512.5,787.66L536.5,782L512.5,776.34L488.5,782ZM602.5,782L608.5,784.43L620.5,782L608.5,777.15L602.5,782ZM152.5,762.58L176.5,765.01L188.5,762.58L176.5,760.97L152.5,762.58ZM452.86,762.58L464.5,764.39L476.14,762.58L464.5,760.78L452.86,762.58ZM128.5,743.17L128.5,745.59L152.5,743.17L128.5,738.31L128.5,743.17ZM458.92,733.46L464.5,734.43L472.5,733.46L464.5,732.24L458.92,733.46ZM590.5,733.46L608.5,738.31L644.5,733.46L608.5,728.6L590.5,733.46ZM152.5,723.75L176.5,727.39L224.5,728.6L248.5,723.75L272.5,716.47L278.5,714.04L272.5,712.42L224.5,711.61L200.5,714.04L176.5,716.47L152.5,723.75ZM128.5,694.62L128.5,697.05L140.5,694.62L128.5,689.77L128.5,694.62ZM212.5,694.62L224.5,697.05L231.17,694.62L224.5,693.41L212.5,694.62ZM266.5,684.92L272.5,686.27L280.5,684.92L272.5,683.49L266.5,684.92ZM488.5,665.5L512.5,667.93L536.5,665.5L512.5,658.22L488.5,665.5ZM459.7,626.67L464.5,628.28L470.5,626.67L464.5,625.7L459.7,626.67ZM164.5,616.96L176.5,619.39L200.5,616.96L224.5,614.53L248.5,607.25L224.5,602.4L176.5,602.4L164.5,607.25L164.5,616.96ZM644.5,616.96L656.5,619.39L656.5,616.96L656.5,607.25L656.5,605.63L608.5,599.97L594.1,607.25L608.5,612.1L644.5,616.96ZM590.5,587.83L608.5,595.11L632.5,587.83L608.5,580.55L590.5,587.83ZM264.5,558.71L272.5,559.92L278.5,558.71L272.5,557.09L264.5,558.71Z"/>
<path fill="#20ffdf" stroke="#20ffdf" stroke-width="0.6" fill-rule="evenodd" d="M168.5,888.79L176.5,890.01L224.5,890.01L230.5,888.79L224.5,887.58L176.5,887.82L168.5,888.79ZM638.5,869.38L656.5,873.02L656.5,869.38L656.5,865.73L638.5,869.38ZM443.5,830.54L464.5,835.4L488.5,830.54L464.5,825.69L443.5,830.54ZM216.5,791.71L224.5,796.56L232.5,791.71L224.5,790.74L216.5,791.71ZM495.36,782L512.5,786.05L529.64,782L512.5,777.95L495.36,782ZM602.5,733.46L608.5,735.08L620.5,733.46L608.5,731.84L602.5,733.46ZM168.5,723.75L176.5,724.96L224.5,725.37L232.5,723.75L224.5,718.9L176.5,721.32L168.5,723.75ZM504.5,665.5L512.5,666.31L520.5,665.5L512.5,663.07L504.5,665.5ZM200.5,607.25L224.5,609.68L232.5,607.25L224.5,605.63L200.5,607.25ZM603.7,607.25L608.5,608.87L632.5,607.25L608.5,604.82L603.7,607.25ZM602.5,587.83L608.5,590.26L616.5,587.83L608.5,585.41L602.5,587.83Z"/>
<path fill="#60ff9f" stroke="#60ff9f" stroke-width="0.6" fill-rule="evenodd" d="M650.5,869.38L656.5,870.59L656.5,869.38L656.5,868.16L650.5,869.38ZM449.5,830.54L464.5,834.01L481.64,830.54L464.5,827.07L449.5,830.54ZM502.21,782L512.5,784.43L522.79,782L512.5,779.57L502.21,782Z"/>
<path fill="#afff50" stroke="#afff50" stroke-width="0.6" fill-rule="evenodd" d="M455.5,830.54L464.5,832.62L474.79,830.54L464.5,828.46L455.5,830.54ZM509.07,782L512.5,782.81L515.93,782L512.5,781.19L509.07,782Z"/>
<path fill="#efff10" stroke="#efff10" stroke-width="0.6" fill-rule="evenodd" d="M461.5,830.54L464.5,831.24L467.93,830.54L464.5,829.85L461.5,830.54Z"/>
<path fill="none" stroke="#000" stroke-width="1.3" stroke-linejoin="round" d="M320.5,891.22L308.5,888.79L320.5,883.94L344.5,888.79L320.5,891.22M416.5,891.22L392.5,888.79L416.5,883.94L428.5,888.79L416.5,891.22M512.5,860.88L504.5,859.67L512.5,857.24L536.5,859.67L512.5,860.88M308.5,857.24L320.5,854.81L368.5,854.81L392.5,849.96L416.5,845.1L424.5,849.96L424.5,859.67L416.5,860.64L368.5,864.52L320.5,864.52L308.5,862.09M320.5,845.1L308.5,840.25L320.5,835.4L332.5,840.25L320.5,845.1M368.5,825.69L356.5,820.83L368.5,819.22L392.5,820.83L368.5,825.69M368.5,803.03L363.7,801.42L368.5,796.56L392.5,801.42L368.5,803.03M416.5,786.85L392.5,782L416.5,777.15L440.5,782L416.5,786.85M320.5,748.02L296.5,743.17L296.5,733.46L320.5,728.6L368.5,728.6L402.79,733.46L368.5,735.89L332.5,743.17L320.5,748.02M416.5,748.02L404.5,743.17L416.5,736.23L464.5,742.2L488.5,743.17L464.5,748.02L416.5,748.02M320.5,709.19L308.5,704.33L320.5,699.48L368.5,701.91L392.5,704.33L368.5,709.19L320.5,709.19M464.5,707.57L456.5,704.33L464.5,703.73L467.5,704.33L464.5,707.57M416.5,699.48L404.5,694.62L416.5,689.77L428.5,694.62L416.5,699.48M512.5,676.83L488.5,675.21L512.5,674.4L520.5,675.21L512.5,676.83M416.5,660.65L392.5,655.79L392.5,646.08L368.5,641.23L344.5,636.38L344.5,626.67L368.5,621.81L416.5,621.81L421.3,626.67L428.5,636.38L464.5,643.66L488.5,646.08L464.5,647.3L422.5,655.79L416.5,660.65M464.5,617.93L440.5,616.96L440.5,607.25L464.5,605.63L512.5,605.63L536.5,607.25L536.5,616.96L512.5,621.81L464.5,617.93M560.5,602.4L552.5,597.54L560.5,595.11L566.5,597.54L560.5,602.4M320.5,590.26L312.5,587.83L320.5,586.22L344.5,587.83L320.5,590.26M368.5,573.27L356.5,568.42L368.5,563.56L380.5,568.42L368.5,573.27M512.5,573.27L488.5,568.42L464.5,563.56L440.5,558.71L464.5,556.28L512.5,556.28L520.5,558.71L518.5,568.42L512.5,573.27M176.5,880.05L170.5,879.08L176.5,876.66L200.5,879.08L176.5,880.05M512.5,883.94L488.5,879.08L512.5,877.47L524.5,879.08L512.5,883.94M464.5,874.23L458.5,869.38L464.5,866.95L472.5,869.38L464.5,874.23M248.5,864.52L224.5,860.88L212.5,862.09M512.5,863.31L488.5,859.67L512.5,852.39L560.5,854.81L572.5,859.67L560.5,864.52L512.5,863.31M200.5,854.81L200.5,849.96L224.5,845.1L248.5,849.96L248.5,854.81M284.5,852.39L296.5,849.96L284.5,840.25L296.5,830.54L320.5,825.69L332.5,820.83L320.5,815.98L312.5,811.12L320.5,809.91L332.5,811.12L368.5,815.98L404.5,811.12L368.5,806.27L354.1,801.42L344.5,791.71L320.5,786.85L296.5,782L296.5,772.29L272.5,767.44L260.5,762.58L272.5,757.73L296.5,752.88L272.5,748.02L260.5,743.17L260.5,733.46L272.5,731.03L308.5,723.75L314.5,714.04L284.5,704.33L272.5,696.24L271.17,694.62L272.5,694.36L320.5,689.77L344.5,684.92L320.5,680.06L280.5,675.21L320.5,670.35L368.5,670.35L392.5,665.5L368.5,660.65L320.5,655.79L320.5,655.79L296.5,646.08L272.5,641.23L260.5,636.38L260.5,626.67L272.5,621.81L296.5,616.96L320.5,612.1L344.5,607.25L368.5,604.82L404.5,597.54L416.5,592.69L428.5,597.54L464.5,602.4L512.5,602.4L536.5,597.54L560.5,590.26L578.5,597.54L565.3,607.25L572.5,616.96L560.5,621.81L536.5,626.67L512.5,629.09L506.5,626.67L464.5,619.87L430.9,626.67L452.5,636.38L464.5,638.8L512.5,643.66L524.5,646.08L512.5,647.7L464.5,649.72L434.5,655.79L428.5,665.5L464.5,672.78L512.5,672.78L536.5,675.21L512.5,680.06L464.5,680.06L440.5,684.92L452.5,694.62L464.5,697.66L497.5,704.33L481.2,714.04L488.5,723.75L464.5,724.96L440.5,723.75L416.5,718.9L392.5,723.75L416.5,727.48L425.43,733.46L464.5,740.25L512.5,738.31L536.5,743.17L536.5,752.88L512.5,757.73L464.5,754L416.5,757.73L392.5,762.58L416.5,767.44L464.5,771.16L488.5,772.29L467.93,782L488.5,791.71L488.5,801.42L488.5,811.12L464.5,815.98L440.5,820.83L419.5,830.54L440.5,840.25L440.5,849.96L440.5,859.67L416.5,862.58L374.5,869.38L416.5,877.87L440.5,879.08L452.5,888.79L416.5,896.07L368.5,893.65L320.5,896.07L284.5,888.79L296.5,879.08L296.5,869.38L284.5,866.95M356.5,840.25L368.5,845.1L392.5,840.25L368.5,835.4L356.5,840.25M512.5,845.1L488.5,840.25L512.5,835.4L536.5,840.25L512.5,845.1M512.5,823.61L498.79,820.83L512.5,818.06L518.15,820.83L512.5,823.61M272.5,803.03L266.5,801.42L272.5,798.99L278.5,801.42L272.5,803.03M224.5,782.97L216.5,782L224.5,779.57L248.5,782L224.5,782.97M560.5,783.62L557.07,782L560.5,779.57L566.5,782L560.5,783.62M356.5,743.17L368.5,748.02L380.5,743.17L368.5,740.74L356.5,743.17M560.5,728.6L536.5,723.75L560.5,718.9L572.5,723.75L560.5,728.6M344.5,694.62L368.5,697.05L380.5,694.62L368.5,689.77L344.5,694.62M224.5,686.13L200.5,684.92L212.5,675.21L224.5,673.59L264.5,675.21L230.5,684.92L224.5,686.13M560.5,658.22L552.5,655.79L560.5,653.36L572.5,655.79L560.5,658.22M272.5,570.03L248.5,568.42L272.5,567.2L296.5,568.42L272.5,570.03M404.5,568.42L416.5,573.27L440.5,568.42L416.5,563.56L404.5,568.42M440.5,549L464.5,551.43L512.5,551.43L536.5,558.71L530.5,568.42L536.5,578.12L512.5,582.98L464.5,582.98L416.5,582.98L392.5,587.83L368.5,590.26L320.5,595.11L296.5,587.83L320.5,582.98L356.5,578.12L332.5,568.42L320.5,563.56L314.5,558.71L296.5,549M152.5,898.5L176.5,897.29L224.5,897.29L248.5,898.5M296.5,898.5L272.5,893.65L266.5,888.79L224.5,880.3L176.5,882L158.5,879.08L176.5,871.8L224.5,877.47L264.5,869.38L224.5,863.31L188.5,866.95M656.5,891.22L608.5,891.22L600.5,888.79L608.5,883.94L656.5,883.94M386.5,869.38L416.5,875.44L446.5,869.38L416.5,864.52L386.5,869.38M488.5,869.38L512.5,874.23L548.5,869.38L512.5,865.73L488.5,869.38M152.5,864.52L128.5,862.09M456.5,859.67L464.5,862.09L472.5,859.67L488.5,849.96L464.5,845.1L456.5,849.96L456.5,859.67M128.5,845.1L152.5,840.25L176.5,835.4L200.5,830.54L224.5,828.11L260.5,820.83L272.5,818.41L296.5,811.12L320.5,807.48L344.5,801.42L320.5,793.33L296.5,791.71L272.5,786.85L224.5,784.91L200.5,782L224.5,774.72L248.5,772.29L236.5,762.58L248.5,752.88L236.5,743.17L236.5,733.46L272.5,726.18L284.5,723.75L302.5,714.04L272.5,705.95L248.5,704.33L257.83,694.62L272.5,691.66L312.5,684.92L272.5,677.78L242.5,684.92L224.5,688.56L176.5,689.77L164.5,684.92L176.5,680.06L188.5,675.21L224.5,670.35L272.5,668.97L296.5,665.5L288.5,655.79L272.5,650.94L248.5,646.08L236.5,636.38L236.5,626.67L260.5,616.96L272.5,612.1L296.5,607.25L296.5,597.54L280.5,587.83L320.5,579.74L332.5,578.12L320.5,573.27L272.5,573.27L224.5,570.84L200.5,568.42L176.5,563.56L152.5,558.71L176.5,553.85L200.5,549M425.5,830.54L464.5,839.56L509.07,830.54L464.5,821.53L425.5,830.54M356.5,811.12L368.5,812.74L380.5,811.12L368.5,809.51L356.5,811.12M272.5,806.27L254.5,801.42L272.5,794.14L290.5,801.42L272.5,806.27M128.5,796.56L152.5,801.42L140.5,811.12L128.5,813.55M560.5,786.85L550.21,782L560.5,774.72L578.5,782L560.5,786.85M128.5,769.86L152.5,772.29L128.5,777.15M423.77,762.58L464.5,768.91L505.23,762.58L464.5,756.26L423.77,762.58M176.5,754.49L152.5,752.88L176.5,750.45L200.5,752.88L176.5,754.49M176.5,735.89L164.5,733.46L176.5,732.24L200.5,733.46L176.5,735.89M436.59,733.46L464.5,738.31L504.5,733.46L464.5,727.39L436.59,733.46M656.5,726.18L632.5,723.75L656.5,718.9M502.07,714.04L512.5,718.9L536.5,714.04L512.5,709.19L502.07,714.04M128.5,709.19L140.5,714.04L128.5,718.9M176.5,706.76L152.5,704.33L176.5,699.48L200.5,704.33L176.5,706.76M632.5,689.77L632.5,694.62L608.5,699.48L584.5,704.33L584.5,714.04L596.5,723.75L566.5,733.46L584.5,743.17L584.5,752.88L560.5,757.73L536.5,762.58L536.5,772.29L512.5,773.1L474.79,782L512.5,790.9L524.5,791.71L560.5,798.99L584.5,801.42L560.5,803.03L520.5,811.12L546.38,820.83L524.5,830.54L560.5,837.82L584.5,840.25L584.5,849.96L596.5,859.67L584.5,869.38L560.5,874.23L548.5,879.08L520.5,888.79L536.5,898.5M176.5,641.23L152.5,636.38L176.5,631.52L200.5,636.38L176.5,641.23M488.5,636.38L512.5,638.8L536.5,636.38L512.5,633.95L494.5,626.67L464.5,621.81L440.5,626.67L464.5,634.76L488.5,636.38M656.5,641.23L608.5,641.23L560.5,641.23L548.5,646.08L560.5,648.51L596.5,655.79L560.5,663.07L536.5,655.79L512.5,650.94L464.5,652.15L446.5,655.79L452.5,665.5L464.5,667.93L512.5,671.16L552.5,675.21L512.5,683.3L488.5,684.92L488.5,694.62L512.5,699.48L536.5,694.62L560.5,689.77L584.5,689.77M344.5,597.54L368.5,599.97L380.5,597.54L368.5,595.11L344.5,597.54M452.5,597.54L464.5,599.16L512.5,599.16L520.5,597.54L512.5,592.69L464.5,592.69L452.5,597.54M656.5,599.16L644.5,597.54L656.5,592.69M128.5,582.98L152.5,587.83L128.5,592.69M656.5,582.98L644.5,578.12L656.5,575.7M232.5,558.71L272.5,564.78L302.5,558.71L272.5,550.62L232.5,558.71M536.5,549L552.5,558.71L542.5,568.42L560.5,575.7L572.5,578.12L566.5,587.83L590.5,597.54L574.9,607.25L596.5,616.96L608.5,621.81L632.5,626.67L656.5,631.52M536.5,888.79L560.5,896.07L584.5,888.79L560.5,881.51L536.5,888.79M656.5,896.07L608.5,896.07L584.5,898.5M128.5,886.36L136.5,888.79L176.5,894.86L224.5,894.86L254.5,888.79L224.5,882.72L176.5,883.94L146.5,879.08L152.5,869.38L128.5,866.95M188.5,869.38L224.5,874.23L248.5,869.38L224.5,865.73L188.5,869.38M398.5,869.38L416.5,873.02L434.5,869.38L416.5,866.46L398.5,869.38M504.5,869.38L512.5,870.99L524.5,869.38L512.5,868.16L504.5,869.38M656.5,860.88L614.5,869.38L656.5,877.87M128.5,837.82L164.5,830.54L176.5,825.69L224.5,823.26L236.5,820.83L272.5,813.55L280.5,811.12L272.5,809.51L242.5,801.42L264.5,791.71L224.5,786.85L184.5,791.71L188.5,801.42L176.5,806.27L164.5,811.12L128.5,818.41M431.5,830.54L464.5,838.17L502.21,830.54L464.5,822.91L431.5,830.54M548.5,830.54L560.5,832.97L584.5,830.54L560.5,825.69L548.5,830.54M302.5,801.42L320.5,805.06L334.9,801.42L320.5,796.56L302.5,801.42M548.5,791.71L560.5,794.14L584.5,791.71L560.5,790.09L543.36,782L512.5,774.72L481.64,782L512.5,789.28L548.5,791.71M656.5,796.56L632.5,801.42L608.5,806.27L560.5,806.27L536.5,811.12L560.5,818.41L584.5,820.83L608.5,825.69L620.5,830.54L632.5,840.25L632.5,845.1M152.5,782L176.5,786.85L184.5,782L176.5,777.15L152.5,782M590.5,782L608.5,789.28L644.5,782L632.5,772.29L608.5,767.44L584.5,772.29L590.5,782M128.5,765.01L176.5,769.86L212.5,762.58L176.5,757.73L128.5,757.73M438.32,762.58L464.5,766.65L490.68,762.58L464.5,758.52L438.32,762.58M656.5,757.73L632.5,762.58L656.5,767.44M128.5,750.45L176.5,745.59L200.5,743.17L176.5,740.74L140.5,733.46L176.5,729.82L224.5,731.84L264.5,723.75L272.5,721.32L290.5,714.04L272.5,709.19L224.5,706.76L176.5,711.61L164.5,714.04L136.5,723.75L128.5,728.6M447.76,733.46L464.5,736.37L488.5,733.46L464.5,729.82L447.76,733.46M656.5,731.03L608.5,725.37L578.5,733.46L608.5,741.55L632.5,743.17L656.5,748.02M128.5,701.91L164.5,694.62L140.5,684.92L128.5,680.06M188.5,694.62L224.5,701.91L244.5,694.62L224.5,690.98L188.5,694.62M254.5,684.92L272.5,688.96L296.5,684.92L272.5,680.63L254.5,684.92M632.5,680.06L632.5,675.21L656.5,670.35M472.5,665.5L512.5,669.55L552.5,665.5L520.5,655.79L512.5,654.17L464.5,654.58L458.5,655.79L464.5,660.65L472.5,665.5M128.5,660.65L152.5,665.5L176.5,670.35L224.5,667.12L248.5,665.5L248.5,655.79L224.5,650.94L176.5,650.94L152.5,646.08L128.5,641.23M656.5,650.94L632.5,655.79L608.5,660.65L584.5,665.5L584.5,675.21L584.5,680.06M450.1,626.67L464.5,631.52L482.5,626.67L464.5,623.75L450.1,626.67M140.5,616.96L176.5,624.24L224.5,621.81L236.5,616.96L264.5,607.25L224.5,599.16L200.5,597.54L176.5,592.69L152.5,597.54L140.5,607.25L140.5,616.96M656.5,602.4L620.5,597.54L648.5,587.83L620.5,578.12L608.5,573.27L596.5,578.12L578.5,587.83L602.5,597.54L584.5,607.25L608.5,615.34L620.5,616.96L656.5,624.24M152.5,578.12L176.5,582.98L224.5,582.98L272.5,582.98L296.5,578.12L272.5,576.51L224.5,575.7L176.5,573.27L152.5,578.12M554.5,568.42L560.5,570.84L584.5,568.42L560.5,563.56L554.5,568.42M248.5,558.71L272.5,562.35L290.5,558.71L272.5,553.85L248.5,558.71M632.5,549L608.5,553.85L584.5,558.71L608.5,563.56L632.5,568.42L656.5,570.84M152.5,888.79L176.5,892.43L224.5,892.43L242.5,888.79L224.5,885.15L176.5,885.88L152.5,888.79M552.5,888.79L560.5,891.22L568.5,888.79L560.5,886.36L552.5,888.79M128.5,881.51L134.5,879.08L128.5,874.23M212.5,869.38L224.5,870.99L232.5,869.38L224.5,868.16L212.5,869.38M410.5,869.38L416.5,870.59L422.5,869.38L416.5,868.4L410.5,869.38M656.5,863.31L626.5,869.38L656.5,875.44M128.5,832.97L140.5,830.54L128.5,825.69M437.5,830.54L464.5,836.78L495.36,830.54L464.5,824.3L437.5,830.54M200.5,811.12L224.5,815.98L248.5,811.12L230.5,801.42L248.5,791.71L224.5,788.8L200.5,791.71L212.5,801.42L200.5,811.12M552.5,811.12L560.5,813.55L584.5,811.12L560.5,809.51L552.5,811.12M656.5,815.98L632.5,820.83L644.5,830.54L656.5,835.4M314.5,801.42L320.5,802.63L325.3,801.42L320.5,799.8L314.5,801.42M488.5,782L512.5,787.66L536.5,782L512.5,776.34L488.5,782M602.5,782L608.5,784.43L620.5,782L608.5,777.15L602.5,782M152.5,762.58L176.5,765.01L188.5,762.58L176.5,760.97L152.5,762.58M452.86,762.58L464.5,764.39L476.14,762.58L464.5,760.78L452.86,762.58M128.5,745.59L152.5,743.17L128.5,738.31M458.92,733.46L464.5,734.43L472.5,733.46L464.5,732.24L458.92,733.46M590.5,733.46L608.5,738.31L644.5,733.46L608.5,728.6L590.5,733.46M152.5,723.75L176.5,727.39L224.5,728.6L248.5,723.75L272.5,716.47L278.5,714.04L272.5,712.42L224.5,711.61L200.5,714.04L176.5,716.47L152.5,723.75M128.5,697.05L140.5,694.62L128.5,689.77M212.5,694.62L224.5,697.05L231.17,694.62L224.5,693.41L212.5,694.62M266.5,684.92L272.5,686.27L280.5,684.92L272.5,683.49L266.5,684.92M488.5,665.5L512.5,667.93L536.5,665.5L512.5,658.22L488.5,665.5M459.7,626.67L464.5,628.28L470.5,626.67L464.5,625.7L459.7,626.67M164.5,616.96L176.5,619.39L200.5,616.96L224.5,614.53L248.5,607.25L224.5,602.4L176.5,602.4L164.5,607.25L164.5,616.96M656.5,605.63L608.5,599.97L594.1,607.25L608.5,612.1L644.5,616.96L656.5,619.39M590.5,587.83L608.5,595.11L632.5,587.83L608.5,580.55L590.5,587.83M264.5,558.71L272.5,559.92L278.5,558.71L272.5,557.09L264.5,558.71M168.5,888.79L176.5,890.01L224.5,890.01L230.5,888.79L224.5,887.58L176.5,887.82L168.5,888.79M656.5,865.73L638.5,869.38L656.5,873.02M443.5,830.54L464.5,835.4L488.5,830.54L464.5,825.69L443.5,830.54M216.5,791.71L224.5,796.56L232.5,791.71L224.5,790.74L216.5,791.71M495.36,782L512.5,786.05L529.64,782L512.5,777.95L495.36,782M602.5,733.46L608.5,735.08L620.5,733.46L608.5,731.84L602.5,733.46M168.5,723.75L176.5,724.96L224.5,725.37L232.5,723.75L224.5,718.9L176.5,721.32L168.5,723.75M504.5,665.5L512.5,666.31L520.5,665.5L512.5,663.07L504.5,665.5M200.5,607.25L224.5,609.68L232.5,607.25L224.5,605.63L200.5,607.25M603.7,607.25L608.5,608.87L632.5,607.25L608.5,604.82L603.7,607.25M602.5,587.83L608.5,590.26L616.5,587.83L608.5,585.41L602.5,587.83M656.5,868.16L650.5,869.38L656.5,870.59M449.5,830.54L464.5,834.01L481.64,830.54L464.5,827.07L449.5,830.54M502.21,782L512.5,784.43L522.79,782L512.5,779.57L502.21,782M455.5,830.54L464.5,832.62L474.79,830.54L464.5,828.46L455.5,830.54M509.07,782L512.5,782.81L515.93,782L512.5,781.19L509.07,782M461.5,830.54L464.5,831.24L467.93,830.54L464.5,829.85L461.5,830.54"/>
</g>
<rect x="128.5" y="549.0" width="528.0" height="349.5" fill="none" stroke="#000" stroke-width="1.3"/>
<path stroke="#000" stroke-width="1.3" d="M176.5,898.5V893.2M176.5,549V554.3M272.5,898.5V893.2M272.5,549V554.3M368.5,898.5V893.2M368.5,549V554.3M464.5,898.5V893.2M464.5,549V554.3M560.5,898.5V893.2M560.5,549V554.3M656.5,898.5V893.2M656.5,549V554.3M128.5,898.5H133.8M656.5,898.5H651.2M128.5,801.42H133.8M656.5,801.42H651.2M128.5,704.33H133.8M656.5,704.33H651.2M128.5,607.25H133.8M656.5,607.25H651.2"/>
<text class="t" x="176.5" y="937.1" text-anchor="middle">2</text>
<text class="t" x="272.5" y="937.1" text-anchor="middle">4</text>
<text class="t" x="368.5" y="937.1" text-anchor="middle">6</text>
<text class="t" x="464.5" y="937.1" text-anchor="middle">8</text>
<text class="t" x="560.5" y="937.1" text-anchor="middle">10</text>
<text class="t" x="656.5" y="937.1" text-anchor="middle">12</text>
<text class="t" x="121.7" y="910.8" text-anchor="end">1980</text>
<text class="t" x="121.7" y="813.72" text-anchor="end">1990</text>
<text class="t" x="121.7" y="716.63" text-anchor="end">2000</text>
<text class="t" x="121.7" y="619.55" text-anchor="end">2010</text>
<text class="l" x="394" y="973.5" text-anchor="middle">Month</text>
<text class="l" style="font-size:36px;letter-spacing:0.4px" transform="translate(29.3,722.55) rotate(-90)" x="0" y="0" text-anchor="middle">Year</text>
<text class="l" x="393.3" y="521" text-anchor="middle">QHD</text>
<clipPath id="clipTG"><rect x="824.5" y="559.0" width="528.0" height="339.5"/></clipPath>
<g clip-path="url(#clipTG)">
<path fill="#00008f" stroke="#00008f" stroke-width="0.6" fill-rule="evenodd" d="M824.5,898.5L872.5,898.5L920.5,898.5L968.5,898.5L1016.5,898.5L1064.5,898.5L1112.5,898.5L1160.5,898.5L1208.5,898.5L1256.5,898.5L1304.5,898.5L1352.5,898.5L1352.5,889.07L1352.5,879.64L1352.5,870.21L1352.5,860.78L1352.5,851.35L1352.5,841.92L1352.5,832.49L1352.5,823.06L1352.5,813.62L1352.5,804.19L1352.5,794.76L1352.5,785.33L1352.5,775.9L1352.5,766.47L1352.5,757.04L1352.5,747.61L1352.5,738.18L1352.5,728.75L1352.5,719.32L1352.5,709.89L1352.5,700.46L1352.5,691.03L1352.5,681.6L1352.5,672.17L1352.5,662.74L1352.5,653.31L1352.5,643.88L1352.5,634.44L1352.5,625.01L1352.5,615.58L1352.5,606.15L1352.5,596.72L1352.5,587.29L1352.5,577.86L1352.5,568.43L1352.5,559L1304.5,559L1256.5,559L1208.5,559L1160.5,559L1112.5,559L1064.5,559L1016.5,559L968.5,559L920.5,559L872.5,559L824.5,559L824.5,568.43L824.5,577.86L824.5,587.29L824.5,596.72L824.5,606.15L824.5,615.58L824.5,625.01L824.5,634.44L824.5,643.88L824.5,653.31L824.5,662.74L824.5,672.17L824.5,681.6L824.5,691.03L824.5,700.46L824.5,709.89L824.5,719.32L824.5,728.75L824.5,738.18L824.5,747.61L824.5,757.04L824.5,766.47L824.5,775.9L824.5,785.33L824.5,794.76L824.5,804.19L824.5,813.62L824.5,823.06L824.5,832.49L824.5,841.92L824.5,851.35L824.5,860.78L824.5,870.21L824.5,879.64L824.5,889.07L824.5,898.5Z"/>
<path fill="#0010ff" stroke="#0010ff" stroke-width="0.6" fill-rule="evenodd" d="M824.5,898.5L872.5,898.5L920.5,898.5L968.5,898.5L1016.5,898.5L1064.5,898.5L1112.5,898.5L1160.5,898.5L1208.5,898.5L1256.5,898.5L1304.5,898.5L1352.5,898.5L1352.5,889.07L1352.5,879.64L1352.5,870.21L1352.5,860.78L1352.5,851.35L1352.5,841.92L1352.5,832.49L1352.5,823.06L1352.5,813.62L1352.5,804.19L1352.5,794.76L1352.5,785.33L1352.5,775.9L1352.5,766.47L1352.5,757.04L1352.5,747.61L1352.5,738.18L1352.5,728.75L1352.5,719.32L1352.5,709.89L1352.5,700.46L1352.5,691.03L1352.5,681.6L1352.5,672.17L1352.5,662.74L1352.5,653.31L1352.5,643.88L1352.5,634.44L1352.5,625.01L1352.5,615.58L1352.5,606.15L1352.5,596.72L1352.5,587.29L1352.5,577.86L1352.5,568.43L1352.5,559L1304.5,559L1256.5,559L1208.5,559L1160.5,559L1112.5,559L1064.5,559L1016.5,559L968.5,559L920.5,559L872.5,559L824.5,559L824.5,568.43L824.5,577.86L824.5,587.29L824.5,596.72L824.5,606.15L824.5,615.58L824.5,625.01L824.5,634.44L824.5,643.88L824.5,653.31L824.5,662.74L824.5,672.17L824.5,681.6L824.5,691.03L824.5,700.46L824.5,709.89L824.5,719.32L824.5,728.75L824.5,738.18L824.5,747.61L824.5,757.04L824.5,766.47L824.5,775.9L824.5,785.33L824.5,794.76L824.5,804.19L824.5,813.62L824.5,823.06L824.5,832.49L824.5,841.92L824.5,851.35L824.5,860.78L824.5,870.21L824.5,879.64L824.5,889.07L824.5,898.5ZM1016.5,748.2L1013.5,747.61L1016.5,746.04L1024.5,747.61L1016.5,748.2ZM1064.5,824.63L1040.5,823.06L1064.5,820.7L1088.5,823.06L1064.5,824.63ZM1112.5,893.78L1088.5,889.07L1112.5,884.35L1136.5,889.07L1112.5,893.78ZM1160.5,805.05L1156.14,804.19L1160.5,803.89L1162.05,804.19L1160.5,805.05ZM1208.5,598.29L1200.5,596.72L1208.5,595.67L1220.5,596.72L1208.5,598.29ZM1016.5,636.8L992.5,634.44L1016.5,632.87L1040.5,634.44L1016.5,636.8ZM1064.5,806.55L1058.5,804.19L1064.5,799.48L1088.5,804.19L1064.5,806.55ZM1112.5,856.06L1088.5,851.35L1112.5,846.63L1117.3,851.35L1112.5,856.06ZM1016.5,617.16L992.5,615.58L1016.5,610.87L1028.5,615.58L1016.5,617.16ZM1064.5,742.9L1040.5,738.18L1064.5,733.47L1112.5,733.47L1115.93,738.18L1112.5,742.9L1064.5,742.9ZM1112.5,816.77L1105.64,813.62L1112.5,810.48L1128.5,813.62L1112.5,816.77ZM1016.5,601.44L1008.5,596.72L1016.5,594.36L1040.5,596.72L1016.5,601.44ZM1064.5,658.02L1040.5,653.31L1052.5,643.88L1064.5,639.16L1076.5,643.88L1112.5,650.95L1136.5,653.31L1112.5,658.02L1064.5,658.02ZM1112.5,705.17L1100.5,700.46L1112.5,695.74L1124.5,700.46L1112.5,705.17ZM1112.5,790.05L1104.5,785.33L1112.5,780.62L1160.5,780.62L1164.5,785.33L1160.5,787.69L1112.5,790.05ZM1064.5,582.58L1040.5,577.86L1064.5,573.15L1112.5,573.15L1160.5,576.29L1163.5,577.86L1160.5,578.65L1112.5,582.58L1064.5,582.58ZM1112.5,636.8L1088.5,634.44L1112.5,629.73L1136.5,625.01L1160.5,620.3L1168.5,625.01L1160.5,629.73L1136.5,634.44L1112.5,636.8ZM1160.5,758.22L1136.5,757.04L1160.5,752.33L1184.5,757.04L1160.5,758.22ZM1112.5,608.51L1104.5,606.15L1112.5,601.44L1136.5,606.15L1112.5,608.51ZM1160.5,686.31L1136.5,681.6L1160.5,679.24L1172.5,681.6L1160.5,686.31Z"/>
<path fill="#009fff" stroke="#009fff" stroke-width="0.6" fill-rule="evenodd" d="M824.5,898.5L872.5,898.5L920.5,898.5L968.5,898.5L1016.5,898.5L1040.5,898.5L1016.5,893.78L968.5,890.64L963.93,889.07L968.5,884.35L1016.5,886.71L1064.5,884.35L1088.5,879.64L1112.5,874.92L1136.5,870.21L1112.5,865.49L1088.5,860.78L1064.5,856.06L1040.5,860.78L1040.5,870.21L1016.5,872.57L992.5,870.21L992.5,860.78L968.5,856.06L920.5,856.06L880.5,860.78L872.5,861.37L869.5,860.78L872.5,856.06L880.5,851.35L920.5,846.63L968.5,846.63L992.5,841.92L1016.5,837.2L1064.5,839.56L1100.5,832.49L1064.5,827.77L1016.5,827.77L992.5,823.06L1016.5,818.34L1064.5,815.98L1078.21,813.62L1064.5,811.27L1046.5,804.19L1052.5,794.76L1064.5,792.41L1088.5,785.33L1064.5,778.26L1040.5,775.9L1016.5,771.19L1004.5,766.47L1016.5,761.76L1040.5,757.04L1016.5,754.09L983.5,747.61L968.5,742.9L956.5,738.18L968.5,733.47L992.5,728.75L1016.5,724.03L1040.5,719.32L1052.5,709.89L1064.5,705.17L1076.5,700.46L1064.5,695.74L1040.5,691.03L1040.5,681.6L1016.5,676.88L992.5,672.17L1016.5,667.45L1040.5,662.74L1016.5,658.02L992.5,653.31L1016.5,648.59L1028.5,643.88L1016.5,641.52L968.5,639.16L960.5,634.44L968.5,633.5L1016.5,629.73L1064.5,629.73L1088.5,625.01L1112.5,620.3L1136.5,615.58L1112.5,613.23L1088.5,606.15L1064.5,599.08L1028.5,606.15L1052.5,615.58L1016.5,620.3L968.5,616.53L956.5,615.58L968.5,613.23L1004.5,606.15L992.5,596.72L1016.5,589.65L1040.5,587.29L1016.5,582.58L968.5,580.22L920.5,578.62L908.5,577.86L920.5,573.15L968.5,575.5L1004.5,568.43L968.5,561.36L944.5,559L920.5,559L896.5,559L872.5,560.18L824.5,560.57L824.5,568.43L824.5,577.86L824.5,587.29L824.5,596.72L824.5,606.15L824.5,615.58L824.5,625.01L824.5,634.44L824.5,643.88L824.5,653.31L824.5,662.74L824.5,672.17L824.5,681.6L824.5,691.03L824.5,700.46L824.5,709.89L824.5,719.32L824.5,728.75L824.5,738.18L824.5,747.61L824.5,757.04L824.5,766.47L824.5,775.9L824.5,785.33L824.5,794.76L824.5,804.19L824.5,813.62L824.5,823.06L824.5,832.49L824.5,841.92L824.5,851.35L824.5,860.78L824.5,870.21L824.5,879.64L824.5,889.07L824.5,898.5ZM872.5,738.37L870.95,738.18L872.5,737.88L874.05,738.18L872.5,738.37ZM1184.5,898.5L1208.5,898.5L1256.5,898.5L1304.5,898.5L1352.5,898.5L1352.5,889.07L1352.5,879.64L1352.5,870.21L1352.5,860.78L1352.5,851.35L1352.5,841.92L1352.5,832.49L1352.5,823.06L1352.5,813.62L1352.5,804.19L1352.5,794.76L1352.5,785.33L1352.5,775.9L1352.5,766.47L1352.5,757.04L1352.5,747.61L1352.5,738.18L1352.5,728.75L1352.5,719.32L1352.5,709.89L1352.5,700.46L1352.5,691.03L1352.5,681.6L1352.5,672.17L1352.5,662.74L1352.5,653.31L1352.5,643.88L1352.5,634.44L1352.5,625.01L1352.5,615.58L1352.5,606.15L1352.5,596.72L1352.5,587.29L1352.5,577.86L1352.5,568.43L1352.5,559L1304.5,559L1256.5,559L1208.5,559L1160.5,559L1112.5,559L1088.5,559L1112.5,563.72L1160.5,566.07L1184.5,568.43L1193.5,577.86L1160.5,586.51L1152.5,587.29L1124.5,596.72L1160.5,603.8L1172.5,606.15L1172.5,615.58L1184.5,625.01L1172.5,634.44L1172.5,643.88L1184.5,653.31L1160.5,655.66L1124.5,662.74L1136.5,672.17L1160.5,674.52L1196.5,681.6L1168.5,691.03L1160.5,695.74L1148.5,700.46L1136.5,709.89L1136.5,719.32L1160.5,724.03L1172.5,728.75L1160.5,729.54L1122.79,738.18L1160.5,746.83L1184.5,747.61L1208.5,752.33L1220.5,757.04L1214.5,766.47L1208.5,771.19L1200.5,766.47L1160.5,760.58L1120.5,766.47L1160.5,774.33L1184.5,775.9L1172.5,785.33L1160.5,792.41L1136.5,794.76L1160.5,797.81L1193.02,804.19L1184.5,813.62L1208.5,818.34L1216.5,823.06L1208.5,825.41L1184.5,823.06L1160.5,818.34L1136.5,823.06L1118.5,832.49L1136.5,841.92L1126.9,851.35L1136.5,860.78L1160.5,865.49L1184.5,860.78L1208.5,856.06L1213.3,860.78L1208.5,865.49L1184.5,870.21L1184.5,879.64L1168.5,889.07L1184.5,898.5ZM1208.5,601.44L1184.5,596.72L1208.5,593.58L1244.5,596.72L1208.5,601.44ZM992.5,851.35L1016.5,856.06L1040.5,851.35L1016.5,846.63L992.5,851.35ZM1100.5,643.88L1112.5,646.23L1136.5,643.88L1112.5,641.52L1100.5,643.88Z"/>
<path fill="#20ffdf" stroke="#20ffdf" stroke-width="0.6" fill-rule="evenodd" d="M824.5,898.5L872.5,898.5L920.5,898.5L968.5,898.5L1004.5,898.5L968.5,893.78L954.79,889.07L951.95,879.64L956.5,870.21L920.5,863.14L872.5,867.26L839.5,860.78L841.64,851.35L872.5,845.28L896.5,841.92L920.5,837.2L968.5,837.2L992.5,832.49L968.5,827.77L944.5,823.06L944.5,813.62L944.5,804.19L960.5,794.76L968.5,790.05L992.5,785.33L968.5,780.62L920.5,778.26L872.5,780.62L848.5,785.33L848.5,794.76L824.5,796.34L824.5,804.19L824.5,813.62L824.5,823.06L824.5,832.49L824.5,841.92L824.5,851.35L824.5,860.78L824.5,870.21L824.5,879.64L824.5,889.07L824.5,898.5ZM872.5,815.2L848.5,813.62L872.5,808.91L896.5,813.62L872.5,815.2ZM1184.5,889.07L1208.5,896.14L1220.5,898.5L1256.5,898.5L1304.5,898.5L1352.5,898.5L1352.5,889.07L1352.5,879.64L1352.5,870.21L1352.5,860.78L1352.5,851.35L1352.5,841.92L1352.5,832.49L1352.5,823.06L1352.5,813.62L1352.5,804.19L1352.5,794.76L1352.5,785.33L1352.5,775.9L1352.5,766.47L1352.5,761.76L1304.5,758.61L1280.5,757.04L1304.5,755.47L1352.5,754.68L1352.5,747.61L1352.5,738.18L1352.5,731.11L1346.5,728.75L1352.5,726.39L1352.5,719.32L1352.5,709.89L1352.5,700.46L1352.5,691.03L1352.5,686.31L1344.5,681.6L1352.5,676.88L1352.5,672.17L1352.5,662.74L1352.5,653.31L1352.5,648.59L1340.5,643.88L1352.5,641.52L1352.5,634.44L1352.5,625.01L1352.5,615.58L1352.5,607.1L1344.5,606.15L1304.5,596.91L1256.5,601.44L1208.5,604.58L1196.5,606.15L1196.5,615.58L1200.5,625.01L1196.5,634.44L1196.5,643.88L1208.5,648.59L1216.5,653.31L1208.5,658.02L1160.5,660.38L1148.5,662.74L1160.5,667.45L1172.5,672.17L1208.5,679.24L1214.5,681.6L1208.5,683.95L1184.5,691.03L1184.5,700.46L1208.5,705.17L1220.5,709.89L1232.5,719.32L1208.5,724.03L1196.5,728.75L1160.5,731.11L1129.64,738.18L1160.5,745.25L1208.5,745.25L1216.5,747.61L1244.5,757.04L1226.5,766.47L1216.5,775.9L1208.5,777.08L1180.5,785.33L1208.5,793.59L1232.5,794.76L1220.5,804.19L1232.5,813.62L1232.5,823.06L1208.5,830.13L1160.5,824.63L1130.5,832.49L1160.5,840.34L1184.5,841.92L1160.5,843.49L1136.5,851.35L1160.5,859.21L1200.5,851.35L1208.5,846.63L1232.5,841.92L1256.5,840.97L1280.5,841.92L1256.5,846.63L1232.5,851.35L1222.9,860.78L1220.5,870.21L1232.5,879.64L1208.5,882L1184.5,889.07ZM1304.5,870.51L1302.95,870.21L1304.5,870.08L1306.05,870.21L1304.5,870.51ZM1256.5,636.8L1232.5,634.44L1232.5,625.01L1232.5,615.58L1256.5,610.87L1268.5,615.58L1268.5,625.01L1268.5,634.44L1256.5,636.8ZM992.5,879.64L1016.5,882L1040.5,879.64L1016.5,877.28L992.5,879.64ZM1040.5,832.49L1064.5,834.84L1076.5,832.49L1064.5,830.91L1040.5,832.49ZM980.5,804.19L1016.5,811.27L1034.5,804.19L1028.5,794.76L1016.5,790.05L992.5,794.76L980.5,804.19ZM1040.5,785.33L1064.5,787.69L1072.5,785.33L1064.5,782.98L1040.5,785.33ZM824.5,766.47L824.5,773.55L872.5,773.55L920.5,771.19L968.5,771.19L980.5,766.47L992.5,757.04L968.5,752.33L951.36,747.61L932.5,738.18L944.5,728.75L968.5,724.03L992.5,719.32L1016.5,714.6L1028.5,709.89L1040.5,700.46L1016.5,695.74L1004.5,691.03L992.5,681.6L968.5,676.88L944.5,672.17L944.5,662.74L920.5,658.02L896.5,653.31L872.5,648.59L824.5,646.23L824.5,653.31L824.5,662.74L824.5,672.17L824.5,681.6L824.5,691.03L824.5,700.46L824.5,709.89L824.5,719.32L824.5,728.75L824.5,738.18L824.5,747.61L824.5,755.47L848.5,757.04L824.5,759.4L824.5,766.47ZM872.5,742.06L839.98,738.18L872.5,731.79L905.02,738.18L872.5,742.06ZM872.5,720.89L864.5,719.32L872.5,717.75L874.73,719.32L872.5,720.89ZM1136.5,766.47L1160.5,771.19L1184.5,766.47L1160.5,762.94L1136.5,766.47ZM896.5,643.88L920.5,648.59L944.5,643.88L944.5,634.44L968.5,631.62L1016.5,626.59L1040.5,625.01L1016.5,623.44L968.5,618.41L932.5,615.58L968.5,608.51L980.5,606.15L976.5,596.72L992.5,587.29L968.5,584.93L920.5,580.12L884.5,577.86L912.5,568.43L872.5,562.54L824.5,563.72L824.5,568.43L824.5,577.86L824.5,587.29L824.5,596.72L824.5,601.44L830.5,606.15L824.5,607.41L824.5,615.58L824.5,625.01L824.5,634.44L824.5,639.16L872.5,641.52L896.5,643.88ZM872.5,597.9L848.5,596.72L872.5,592.01L920.5,595.82L944.5,596.72L920.5,601.44L872.5,597.9ZM1052.5,606.15L1064.5,610.87L1072.5,606.15L1064.5,603.8L1052.5,606.15ZM1148.5,596.72L1160.5,599.08L1168.5,596.72L1160.5,593.35L1148.5,596.72ZM1175.4,587.29L1208.5,591.48L1256.5,595.15L1304.5,595.86L1352.5,595.86L1352.5,587.29L1352.5,582.58L1328.5,577.86L1352.5,576.29L1352.5,568.43L1352.5,559L1304.5,559L1256.5,559L1220.5,559L1216.5,568.43L1214.5,577.86L1208.5,579.75L1175.4,587.29ZM944.5,568.43L968.5,570.79L980.5,568.43L968.5,566.07L944.5,568.43ZM1136.5,559L1160.5,561.36L1184.5,559L1160.5,559L1136.5,559Z"/>
<path fill="#afff50" stroke="#afff50" stroke-width="0.6" fill-rule="evenodd" d="M824.5,898.5L848.5,898.5L872.5,893.78L920.5,897.05L944.5,898.5L968.5,898.5L980.5,898.5L968.5,896.93L945.64,889.07L920.5,879.81L872.5,884.35L864.5,879.64L824.5,871.78L824.5,879.64L824.5,889.07L824.5,898.5ZM1200.5,889.07L1208.5,891.43L1232.5,889.07L1208.5,886.71L1200.5,889.07ZM1244.5,898.5L1256.5,898.5L1280.5,898.5L1256.5,893.78L1244.5,898.5ZM1280.5,889.07L1304.5,893.78L1312.5,898.5L1352.5,898.5L1352.5,889.07L1352.5,879.64L1352.5,870.21L1352.5,860.78L1352.5,851.35L1352.5,841.92L1352.5,832.49L1352.5,825.41L1304.5,824.63L1280.5,823.06L1256.5,818.34L1248.5,823.06L1214.5,832.49L1256.5,839.09L1304.5,840.34L1328.5,841.92L1304.5,846.63L1280.5,851.35L1256.5,852.92L1232.5,860.78L1244.5,870.21L1256.5,874.92L1271.98,870.21L1304.5,867.42L1337.02,870.21L1304.5,876.6L1280.5,879.64L1280.5,889.07ZM896.5,870.21L920.5,878.78L932.5,870.21L920.5,867.85L896.5,870.21ZM1146.1,851.35L1160.5,856.06L1184.5,851.35L1160.5,846.63L1146.1,851.35ZM824.5,841.92L824.5,846.63L848.5,841.92L872.5,839.56L908.5,832.49L908.5,823.06L872.5,818.34L824.5,818.34L824.5,823.06L824.5,832.49L824.5,841.92ZM1142.5,832.49L1160.5,837.2L1196.5,832.49L1160.5,827.77L1142.5,832.49ZM824.5,804.19L824.5,811.27L860.5,804.19L824.5,799.48L824.5,804.19ZM1004.5,804.19L1016.5,806.55L1022.5,804.19L1016.5,799.48L1004.5,804.19ZM1244.5,804.19L1256.5,808.91L1280.5,804.19L1256.5,799.48L1244.5,804.19ZM1312.5,804.19L1352.5,812.05L1352.5,804.19L1352.5,794.76L1352.5,790.05L1328.5,785.33L1343.09,775.9L1340.5,766.47L1304.5,761.76L1256.5,759.4L1238.5,766.47L1232.5,775.9L1208.5,779.44L1188.5,785.33L1208.5,791.23L1256.5,790.05L1280.5,794.76L1304.5,799.48L1312.5,804.19ZM884.5,794.76L920.5,801.84L944.5,794.76L944.5,785.33L920.5,782.98L896.5,785.33L884.5,794.76ZM824.5,766.47L824.5,768.83L872.5,768.83L896.5,766.47L872.5,761.76L824.5,764.11L824.5,766.47ZM1152.5,766.47L1160.5,768.04L1168.5,766.47L1160.5,765.29L1152.5,766.47ZM824.5,747.61L824.5,752.33L872.5,752.33L912.5,747.61L872.5,745.76L824.5,740.54L824.5,747.61ZM1232.5,747.61L1256.5,754.68L1304.5,752.33L1352.5,749.97L1352.5,747.61L1352.5,738.18L1352.5,735.82L1334.5,728.75L1352.5,721.68L1352.5,719.32L1352.5,709.89L1352.5,705.17L1328.5,700.46L1328.5,691.03L1328.5,681.6L1328.5,672.17L1304.5,667.45L1256.5,665.09L1208.5,667.45L1196.5,672.17L1208.5,674.52L1226.5,681.6L1208.5,688.67L1200.5,691.03L1208.5,695.74L1220.5,700.46L1244.5,709.89L1256.5,714.6L1280.5,719.32L1256.5,724.03L1232.5,728.75L1208.5,733.47L1160.5,732.68L1136.5,738.18L1160.5,743.68L1208.5,740.54L1232.5,747.61ZM824.5,728.75L824.5,733.47L848.5,728.75L824.5,724.03L824.5,728.75ZM897.06,719.32L920.5,725.71L953.02,719.32L920.5,712.93L897.06,719.32ZM841.05,700.46L872.5,706.64L920.5,705.17L944.5,700.46L968.5,695.74L980.5,691.03L968.5,686.31L944.5,681.6L920.5,676.88L916.66,672.17L896.5,662.74L872.5,658.02L848.5,662.74L824.5,667.45L824.5,672.17L824.5,676.88L848.5,681.6L824.5,686.31L824.5,691.03L824.5,695.74L841.05,700.46ZM824.5,653.31L824.5,658.02L848.5,653.31L824.5,650.95L824.5,653.31ZM1232.5,653.31L1256.5,660.38L1292.5,653.31L1304.5,648.59L1316.5,643.88L1352.5,636.8L1352.5,634.44L1352.5,625.01L1352.5,615.58L1352.5,608.98L1328.5,606.15L1304.5,600.61L1268.5,606.15L1292.5,615.58L1292.5,625.01L1292.5,634.44L1256.5,641.52L1232.5,643.88L1232.5,653.31ZM848.5,634.44L872.5,636.8L920.5,639.16L928.5,634.44L968.5,629.73L1008.5,625.01L968.5,620.3L920.5,620.3L880.5,615.58L912.5,606.15L872.5,600.26L842.5,606.15L824.5,609.93L824.5,615.58L824.5,625.01L824.5,626.59L848.5,634.44ZM878.15,587.29L920.5,594.03L962.85,587.29L920.5,581.63L878.15,587.29ZM1191.95,587.29L1208.5,589.39L1256.5,592.01L1292.5,587.29L1296.5,577.86L1304.5,576.18L1352.5,573.15L1352.5,568.43L1352.5,559L1304.5,559L1256.5,559L1244.5,559L1232.5,568.43L1226.5,577.86L1208.5,583.52L1191.95,587.29ZM824.5,568.43L824.5,573.15L872.5,575.5L896.5,568.43L872.5,564.89L824.5,566.86L824.5,568.43Z"/>
<path fill="#ffcf00" stroke="#ffcf00" stroke-width="0.6" fill-rule="evenodd" d="M883.17,889.07L920.5,894.15L936.5,889.07L920.5,883.18L883.17,889.07ZM1328.5,898.5L1352.5,898.5L1352.5,891.43L1328.5,898.5ZM824.5,879.64L824.5,886.71L848.5,879.64L824.5,874.92L824.5,879.64ZM1242.1,860.78L1256.5,867.85L1304.5,864.76L1352.5,865.49L1352.5,860.78L1352.5,856.06L1304.5,853.7L1256.5,856.06L1242.1,860.78ZM1155.7,851.35L1160.5,852.92L1168.5,851.35L1160.5,849.78L1155.7,851.35ZM848.5,832.49L872.5,834.84L884.5,832.49L884.5,823.06L872.5,821.48L848.5,823.06L848.5,832.49ZM1154.5,832.49L1160.5,834.06L1172.5,832.49L1160.5,830.91L1154.5,832.49ZM1226.5,832.49L1256.5,837.2L1304.5,837.2L1352.5,837.2L1352.5,832.49L1352.5,830.13L1304.5,827.77L1256.5,824.63L1226.5,832.49ZM824.5,804.19L824.5,806.55L836.5,804.19L824.5,802.62L824.5,804.19ZM1328.5,804.19L1352.5,808.91L1352.5,804.19L1352.5,797.12L1328.5,804.19ZM908.5,794.76L920.5,797.12L928.5,794.76L920.5,790.05L908.5,794.76ZM1196.5,785.33L1208.5,788.87L1244.5,785.33L1208.5,781.8L1196.5,785.33ZM1248.5,775.9L1256.5,780.62L1304.5,782.29L1324.26,775.9L1316.5,766.47L1304.5,764.9L1256.5,764.11L1250.5,766.47L1248.5,775.9ZM824.5,747.61L824.5,749.18L848.5,747.61L824.5,745.25L824.5,747.61ZM1248.5,747.61L1256.5,749.97L1304.5,749.18L1328.5,747.61L1345.64,738.18L1322.5,728.75L1304.5,721.68L1268.5,728.75L1256.5,731.11L1220.5,738.18L1248.5,747.61ZM1143.36,738.18L1160.5,742.11L1200.5,738.18L1160.5,734.25L1143.36,738.18ZM919.38,719.32L920.5,719.62L922.05,719.32L920.5,719.02L919.38,719.32ZM1244.5,700.46L1256.5,705.17L1280.5,700.46L1280.5,691.03L1304.5,686.31L1312.5,681.6L1304.5,676.88L1280.5,672.17L1256.5,669.81L1232.5,672.17L1238.5,681.6L1232.5,691.03L1244.5,700.46ZM848.5,691.03L872.5,699.6L896.5,691.03L872.5,686.31L848.5,691.03ZM829.07,672.17L872.5,680.7L908.98,672.17L872.5,663.63L829.07,672.17ZM1248.5,653.31L1256.5,655.66L1268.5,653.31L1256.5,648.59L1248.5,653.31ZM862.07,625.01L872.5,628.16L888.5,625.01L872.5,622.96L862.07,625.01ZM932.5,625.01L968.5,627.84L992.5,625.01L968.5,622.18L932.5,625.01ZM1328.5,625.01L1352.5,629.73L1352.5,625.01L1352.5,615.58L1352.5,610.87L1312.5,615.58L1328.5,625.01ZM824.5,615.58L824.5,621.07L852.41,615.58L824.5,612.44L824.5,615.58ZM854.5,606.15L872.5,612.05L896.5,606.15L872.5,602.62L854.5,606.15ZM1292.5,606.15L1304.5,610.87L1312.5,606.15L1304.5,604.3L1292.5,606.15ZM889.44,587.29L920.5,592.23L951.56,587.29L920.5,583.14L889.44,587.29ZM1208.5,587.29L1256.5,588.86L1268.5,587.29L1280.5,577.86L1304.5,572.81L1352.5,570L1352.5,568.43L1352.5,563.72L1335.36,559L1304.5,559L1273.64,559L1256.5,563.72L1248.5,568.43L1238.5,577.86L1208.5,587.29ZM848.5,568.43L872.5,570.79L880.5,568.43L872.5,567.25L848.5,568.43Z"/>
<path fill="#ff4000" stroke="#ff4000" stroke-width="0.6" fill-rule="evenodd" d="M904.5,889.07L920.5,891.25L927.36,889.07L920.5,886.54L904.5,889.07ZM1344.5,898.5L1352.5,898.5L1352.5,896.14L1344.5,898.5ZM824.5,879.64L824.5,882L832.5,879.64L824.5,878.07L824.5,879.64ZM1251.7,860.78L1256.5,863.14L1304.5,862.11L1328.5,860.78L1304.5,858.42L1256.5,859.21L1251.7,860.78ZM1238.5,832.49L1256.5,835.32L1304.5,834.06L1328.5,832.49L1304.5,830.91L1256.5,827.77L1238.5,832.49ZM1344.5,804.19L1352.5,805.77L1352.5,804.19L1352.5,801.84L1344.5,804.19ZM1204.5,785.33L1208.5,786.51L1220.5,785.33L1208.5,784.15L1204.5,785.33ZM1300.14,775.9L1304.5,776.21L1305.44,775.9L1304.5,775.05L1300.14,775.9ZM1150.21,738.18L1160.5,740.54L1184.5,738.18L1160.5,735.82L1150.21,738.18ZM1244.5,738.18L1256.5,742.9L1304.5,745.72L1331.93,738.18L1310.5,728.75L1304.5,726.39L1292.5,728.75L1256.5,735.82L1244.5,738.18ZM1250.5,681.6L1256.5,686.31L1280.5,681.6L1256.5,676.88L1250.5,681.6ZM838.21,672.17L872.5,678.9L901.3,672.17L872.5,665.43L838.21,672.17ZM956.5,625.01L968.5,625.96L976.5,625.01L968.5,624.07L956.5,625.01ZM824.5,615.58L824.5,616.68L830.08,615.58L824.5,614.95L824.5,615.58ZM1328.5,615.58L1352.5,622.66L1352.5,615.58L1352.5,612.75L1328.5,615.58ZM866.5,606.15L872.5,608.12L880.5,606.15L872.5,604.97L866.5,606.15ZM900.74,587.29L920.5,590.44L940.26,587.29L920.5,584.65L900.74,587.29ZM1250.5,577.86L1256.5,582.58L1264.5,577.86L1256.5,573.15L1250.5,577.86ZM1286.5,568.43L1304.5,569.44L1322.5,568.43L1304.5,561.36L1286.5,568.43Z"/>
<path fill="#bf0000" stroke="#bf0000" stroke-width="0.6" fill-rule="evenodd" d="M1250.5,832.49L1256.5,833.43L1280.5,832.49L1256.5,830.91L1250.5,832.49ZM1157.07,738.18L1160.5,738.97L1168.5,738.18L1160.5,737.39L1157.07,738.18ZM1272.5,738.18L1304.5,741.95L1318.21,738.18L1304.5,731.89L1272.5,738.18ZM847.36,672.17L872.5,677.11L893.62,672.17L872.5,667.23L847.36,672.17ZM1344.5,615.58L1352.5,617.94L1352.5,615.58L1352.5,614.64L1344.5,615.58ZM912.03,587.29L920.5,588.64L928.97,587.29L920.5,586.16L912.03,587.29Z"/>
<path fill="#800000" stroke="#800000" stroke-width="0.6" fill-rule="evenodd" d="M856.5,672.17L872.5,675.31L885.94,672.17L872.5,669.02L856.5,672.17Z"/>
<path fill="#800000" stroke="#800000" stroke-width="0.6" fill-rule="evenodd" d="M865.64,672.17L872.5,673.51L878.26,672.17L872.5,670.82L865.64,672.17Z"/>
<path fill="none" stroke="#000" stroke-width="1.3" stroke-linejoin="round" d="M1112.5,893.78L1088.5,889.07L1112.5,884.35L1136.5,889.07L1112.5,893.78M1112.5,856.06L1088.5,851.35L1112.5,846.63L1117.3,851.35L1112.5,856.06M1064.5,824.63L1040.5,823.06L1064.5,820.7L1088.5,823.06L1064.5,824.63M1112.5,816.77L1105.64,813.62L1112.5,810.48L1128.5,813.62L1112.5,816.77M1064.5,806.55L1058.5,804.19L1064.5,799.48L1088.5,804.19L1064.5,806.55M1160.5,805.05L1156.14,804.19L1160.5,803.89L1162.05,804.19L1160.5,805.05M1112.5,790.05L1104.5,785.33L1112.5,780.62L1160.5,780.62L1164.5,785.33L1160.5,787.69L1112.5,790.05M1160.5,758.22L1136.5,757.04L1160.5,752.33L1184.5,757.04L1160.5,758.22M1016.5,748.2L1013.5,747.61L1016.5,746.04L1024.5,747.61L1016.5,748.2M1064.5,742.9L1040.5,738.18L1064.5,733.47L1112.5,733.47L1115.93,738.18L1112.5,742.9L1064.5,742.9M1112.5,705.17L1100.5,700.46L1112.5,695.74L1124.5,700.46L1112.5,705.17M1160.5,686.31L1136.5,681.6L1160.5,679.24L1172.5,681.6L1160.5,686.31M1064.5,658.02L1040.5,653.31L1052.5,643.88L1064.5,639.16L1076.5,643.88L1112.5,650.95L1136.5,653.31L1112.5,658.02L1064.5,658.02M1016.5,636.8L992.5,634.44L1016.5,632.87L1040.5,634.44L1016.5,636.8M1112.5,636.8L1088.5,634.44L1112.5,629.73L1136.5,625.01L1160.5,620.3L1168.5,625.01L1160.5,629.73L1136.5,634.44L1112.5,636.8M1016.5,617.16L992.5,615.58L1016.5,610.87L1028.5,615.58L1016.5,617.16M1112.5,608.51L1104.5,606.15L1112.5,601.44L1136.5,606.15L1112.5,608.51M1016.5,601.44L1008.5,596.72L1016.5,594.36L1040.5,596.72L1016.5,601.44M1208.5,598.29L1200.5,596.72L1208.5,595.67L1220.5,596.72L1208.5,598.29M1064.5,582.58L1040.5,577.86L1064.5,573.15L1112.5,573.15L1160.5,576.29L1163.5,577.86L1160.5,578.65L1112.5,582.58L1064.5,582.58M1040.5,898.5L1016.5,893.78L968.5,890.64L963.93,889.07L968.5,884.35L1016.5,886.71L1064.5,884.35L1088.5,879.64L1112.5,874.92L1136.5,870.21L1112.5,865.49L1088.5,860.78L1064.5,856.06L1040.5,860.78L1040.5,870.21L1016.5,872.57L992.5,870.21L992.5,860.78L968.5,856.06L920.5,856.06L880.5,860.78L872.5,861.37L869.5,860.78L872.5,856.06L880.5,851.35L920.5,846.63L968.5,846.63L992.5,841.92L1016.5,837.2L1064.5,839.56L1100.5,832.49L1064.5,827.77L1016.5,827.77L992.5,823.06L1016.5,818.34L1064.5,815.98L1078.21,813.62L1064.5,811.27L1046.5,804.19L1052.5,794.76L1064.5,792.41L1088.5,785.33L1064.5,778.26L1040.5,775.9L1016.5,771.19L1004.5,766.47L1016.5,761.76L1040.5,757.04L1016.5,754.09L983.5,747.61L968.5,742.9L956.5,738.18L968.5,733.47L992.5,728.75L1016.5,724.03L1040.5,719.32L1052.5,709.89L1064.5,705.17L1076.5,700.46L1064.5,695.74L1040.5,691.03L1040.5,681.6L1016.5,676.88L992.5,672.17L1016.5,667.45L1040.5,662.74L1016.5,658.02L992.5,653.31L1016.5,648.59L1028.5,643.88L1016.5,641.52L968.5,639.16L960.5,634.44L968.5,633.5L1016.5,629.73L1064.5,629.73L1088.5,625.01L1112.5,620.3L1136.5,615.58L1112.5,613.23L1088.5,606.15L1064.5,599.08L1028.5,606.15L1052.5,615.58L1016.5,620.3L968.5,616.53L956.5,615.58L968.5,613.23L1004.5,606.15L992.5,596.72L1016.5,589.65L1040.5,587.29L1016.5,582.58L968.5,580.22L920.5,578.62L908.5,577.86L920.5,573.15L968.5,575.5L1004.5,568.43L968.5,561.36L944.5,559M992.5,851.35L1016.5,856.06L1040.5,851.35L1016.5,846.63L992.5,851.35M872.5,738.37L870.95,738.18L872.5,737.88L874.05,738.18L872.5,738.37M1100.5,643.88L1112.5,646.23L1136.5,643.88L1112.5,641.52L1100.5,643.88M1208.5,601.44L1184.5,596.72L1208.5,593.58L1244.5,596.72L1208.5,601.44M896.5,559L872.5,560.18L824.5,560.57M1088.5,559L1112.5,563.72L1160.5,566.07L1184.5,568.43L1193.5,577.86L1160.5,586.51L1152.5,587.29L1124.5,596.72L1160.5,603.8L1172.5,606.15L1172.5,615.58L1184.5,625.01L1172.5,634.44L1172.5,643.88L1184.5,653.31L1160.5,655.66L1124.5,662.74L1136.5,672.17L1160.5,674.52L1196.5,681.6L1168.5,691.03L1160.5,695.74L1148.5,700.46L1136.5,709.89L1136.5,719.32L1160.5,724.03L1172.5,728.75L1160.5,729.54L1122.79,738.18L1160.5,746.83L1184.5,747.61L1208.5,752.33L1220.5,757.04L1214.5,766.47L1208.5,771.19L1200.5,766.47L1160.5,760.58L1120.5,766.47L1160.5,774.33L1184.5,775.9L1172.5,785.33L1160.5,792.41L1136.5,794.76L1160.5,797.81L1193.02,804.19L1184.5,813.62L1208.5,818.34L1216.5,823.06L1208.5,825.41L1184.5,823.06L1160.5,818.34L1136.5,823.06L1118.5,832.49L1136.5,841.92L1126.9,851.35L1136.5,860.78L1160.5,865.49L1184.5,860.78L1208.5,856.06L1213.3,860.78L1208.5,865.49L1184.5,870.21L1184.5,879.64L1168.5,889.07L1184.5,898.5M1004.5,898.5L968.5,893.78L954.79,889.07L951.95,879.64L956.5,870.21L920.5,863.14L872.5,867.26L839.5,860.78L841.64,851.35L872.5,845.28L896.5,841.92L920.5,837.2L968.5,837.2L992.5,832.49L968.5,827.77L944.5,823.06L944.5,813.62L944.5,804.19L960.5,794.76L968.5,790.05L992.5,785.33L968.5,780.62L920.5,778.26L872.5,780.62L848.5,785.33L848.5,794.76L824.5,796.34M992.5,879.64L1016.5,882L1040.5,879.64L1016.5,877.28L992.5,879.64M1304.5,870.51L1302.95,870.21L1304.5,870.08L1306.05,870.21L1304.5,870.51M1040.5,832.49L1064.5,834.84L1076.5,832.49L1064.5,830.91L1040.5,832.49M872.5,815.2L848.5,813.62L872.5,808.91L896.5,813.62L872.5,815.2M980.5,804.19L1016.5,811.27L1034.5,804.19L1028.5,794.76L1016.5,790.05L992.5,794.76L980.5,804.19M1040.5,785.33L1064.5,787.69L1072.5,785.33L1064.5,782.98L1040.5,785.33M824.5,773.55L872.5,773.55L920.5,771.19L968.5,771.19L980.5,766.47L992.5,757.04L968.5,752.33L951.36,747.61L932.5,738.18L944.5,728.75L968.5,724.03L992.5,719.32L1016.5,714.6L1028.5,709.89L1040.5,700.46L1016.5,695.74L1004.5,691.03L992.5,681.6L968.5,676.88L944.5,672.17L944.5,662.74L920.5,658.02L896.5,653.31L872.5,648.59L824.5,646.23M1136.5,766.47L1160.5,771.19L1184.5,766.47L1160.5,762.94L1136.5,766.47M1352.5,761.76L1304.5,758.61L1280.5,757.04L1304.5,755.47L1352.5,754.68M824.5,755.47L848.5,757.04L824.5,759.4M872.5,742.06L839.98,738.18L872.5,731.79L905.02,738.18L872.5,742.06M1352.5,731.11L1346.5,728.75L1352.5,726.39M872.5,720.89L864.5,719.32L872.5,717.75L874.73,719.32L872.5,720.89M1352.5,686.31L1344.5,681.6L1352.5,676.88M1352.5,648.59L1340.5,643.88L1352.5,641.52M824.5,639.16L872.5,641.52L896.5,643.88L920.5,648.59L944.5,643.88L944.5,634.44L968.5,631.62L1016.5,626.59L1040.5,625.01L1016.5,623.44L968.5,618.41L932.5,615.58L968.5,608.51L980.5,606.15L976.5,596.72L992.5,587.29L968.5,584.93L920.5,580.12L884.5,577.86L912.5,568.43L872.5,562.54L824.5,563.72M1256.5,636.8L1232.5,634.44L1232.5,625.01L1232.5,615.58L1256.5,610.87L1268.5,615.58L1268.5,625.01L1268.5,634.44L1256.5,636.8M1052.5,606.15L1064.5,610.87L1072.5,606.15L1064.5,603.8L1052.5,606.15M1352.5,607.1L1344.5,606.15L1304.5,596.91L1256.5,601.44L1208.5,604.58L1196.5,606.15L1196.5,615.58L1200.5,625.01L1196.5,634.44L1196.5,643.88L1208.5,648.59L1216.5,653.31L1208.5,658.02L1160.5,660.38L1148.5,662.74L1160.5,667.45L1172.5,672.17L1208.5,679.24L1214.5,681.6L1208.5,683.95L1184.5,691.03L1184.5,700.46L1208.5,705.17L1220.5,709.89L1232.5,719.32L1208.5,724.03L1196.5,728.75L1160.5,731.11L1129.64,738.18L1160.5,745.25L1208.5,745.25L1216.5,747.61L1244.5,757.04L1226.5,766.47L1216.5,775.9L1208.5,777.08L1180.5,785.33L1208.5,793.59L1232.5,794.76L1220.5,804.19L1232.5,813.62L1232.5,823.06L1208.5,830.13L1160.5,824.63L1130.5,832.49L1160.5,840.34L1184.5,841.92L1160.5,843.49L1136.5,851.35L1160.5,859.21L1200.5,851.35L1208.5,846.63L1232.5,841.92L1256.5,840.97L1280.5,841.92L1256.5,846.63L1232.5,851.35L1222.9,860.78L1220.5,870.21L1232.5,879.64L1208.5,882L1184.5,889.07L1208.5,896.14L1220.5,898.5M824.5,601.44L830.5,606.15L824.5,607.41M872.5,597.9L848.5,596.72L872.5,592.01L920.5,595.82L944.5,596.72L920.5,601.44L872.5,597.9M1148.5,596.72L1160.5,599.08L1168.5,596.72L1160.5,593.35L1148.5,596.72M1352.5,582.58L1328.5,577.86L1352.5,576.29M944.5,568.43L968.5,570.79L980.5,568.43L968.5,566.07L944.5,568.43M1136.5,559L1160.5,561.36L1184.5,559M1220.5,559L1216.5,568.43L1214.5,577.86L1208.5,579.75L1175.4,587.29L1208.5,591.48L1256.5,595.15L1304.5,595.86L1352.5,595.86M848.5,898.5L872.5,893.78L920.5,897.05L944.5,898.5M980.5,898.5L968.5,896.93L945.64,889.07L920.5,879.81L872.5,884.35L864.5,879.64L824.5,871.78M1200.5,889.07L1208.5,891.43L1232.5,889.07L1208.5,886.71L1200.5,889.07M1280.5,898.5L1256.5,893.78L1244.5,898.5M896.5,870.21L920.5,878.78L932.5,870.21L920.5,867.85L896.5,870.21M1146.1,851.35L1160.5,856.06L1184.5,851.35L1160.5,846.63L1146.1,851.35M824.5,846.63L848.5,841.92L872.5,839.56L908.5,832.49L908.5,823.06L872.5,818.34L824.5,818.34M1142.5,832.49L1160.5,837.2L1196.5,832.49L1160.5,827.77L1142.5,832.49M1352.5,825.41L1304.5,824.63L1280.5,823.06L1256.5,818.34L1248.5,823.06L1214.5,832.49L1256.5,839.09L1304.5,840.34L1328.5,841.92L1304.5,846.63L1280.5,851.35L1256.5,852.92L1232.5,860.78L1244.5,870.21L1256.5,874.92L1271.98,870.21L1304.5,867.42L1337.02,870.21L1304.5,876.6L1280.5,879.64L1280.5,889.07L1304.5,893.78L1312.5,898.5M824.5,811.27L860.5,804.19L824.5,799.48M1004.5,804.19L1016.5,806.55L1022.5,804.19L1016.5,799.48L1004.5,804.19M1244.5,804.19L1256.5,808.91L1280.5,804.19L1256.5,799.48L1244.5,804.19M884.5,794.76L920.5,801.84L944.5,794.76L944.5,785.33L920.5,782.98L896.5,785.33L884.5,794.76M1352.5,790.05L1328.5,785.33L1343.09,775.9L1340.5,766.47L1304.5,761.76L1256.5,759.4L1238.5,766.47L1232.5,775.9L1208.5,779.44L1188.5,785.33L1208.5,791.23L1256.5,790.05L1280.5,794.76L1304.5,799.48L1312.5,804.19L1352.5,812.05M824.5,768.83L872.5,768.83L896.5,766.47L872.5,761.76L824.5,764.11M1152.5,766.47L1160.5,768.04L1168.5,766.47L1160.5,765.29L1152.5,766.47M824.5,752.33L872.5,752.33L912.5,747.61L872.5,745.76L824.5,740.54M824.5,733.47L848.5,728.75L824.5,724.03M1352.5,735.82L1334.5,728.75L1352.5,721.68M897.06,719.32L920.5,725.71L953.02,719.32L920.5,712.93L897.06,719.32M1352.5,705.17L1328.5,700.46L1328.5,691.03L1328.5,681.6L1328.5,672.17L1304.5,667.45L1256.5,665.09L1208.5,667.45L1196.5,672.17L1208.5,674.52L1226.5,681.6L1208.5,688.67L1200.5,691.03L1208.5,695.74L1220.5,700.46L1244.5,709.89L1256.5,714.6L1280.5,719.32L1256.5,724.03L1232.5,728.75L1208.5,733.47L1160.5,732.68L1136.5,738.18L1160.5,743.68L1208.5,740.54L1232.5,747.61L1256.5,754.68L1304.5,752.33L1352.5,749.97M824.5,695.74L841.05,700.46L872.5,706.64L920.5,705.17L944.5,700.46L968.5,695.74L980.5,691.03L968.5,686.31L944.5,681.6L920.5,676.88L916.66,672.17L896.5,662.74L872.5,658.02L848.5,662.74L824.5,667.45M824.5,676.88L848.5,681.6L824.5,686.31M824.5,658.02L848.5,653.31L824.5,650.95M824.5,626.59L848.5,634.44L872.5,636.8L920.5,639.16L928.5,634.44L968.5,629.73L1008.5,625.01L968.5,620.3L920.5,620.3L880.5,615.58L912.5,606.15L872.5,600.26L842.5,606.15L824.5,609.93M1352.5,608.98L1328.5,606.15L1304.5,600.61L1268.5,606.15L1292.5,615.58L1292.5,625.01L1292.5,634.44L1256.5,641.52L1232.5,643.88L1232.5,653.31L1256.5,660.38L1292.5,653.31L1304.5,648.59L1316.5,643.88L1352.5,636.8M878.15,587.29L920.5,594.03L962.85,587.29L920.5,581.63L878.15,587.29M824.5,573.15L872.5,575.5L896.5,568.43L872.5,564.89L824.5,566.86M1244.5,559L1232.5,568.43L1226.5,577.86L1208.5,583.52L1191.95,587.29L1208.5,589.39L1256.5,592.01L1292.5,587.29L1296.5,577.86L1304.5,576.18L1352.5,573.15M883.17,889.07L920.5,894.15L936.5,889.07L920.5,883.18L883.17,889.07M1352.5,891.43L1328.5,898.5M824.5,886.71L848.5,879.64L824.5,874.92M1155.7,851.35L1160.5,852.92L1168.5,851.35L1160.5,849.78L1155.7,851.35M1352.5,856.06L1304.5,853.7L1256.5,856.06L1242.1,860.78L1256.5,867.85L1304.5,864.76L1352.5,865.49M848.5,832.49L872.5,834.84L884.5,832.49L884.5,823.06L872.5,821.48L848.5,823.06L848.5,832.49M1154.5,832.49L1160.5,834.06L1172.5,832.49L1160.5,830.91L1154.5,832.49M1352.5,830.13L1304.5,827.77L1256.5,824.63L1226.5,832.49L1256.5,837.2L1304.5,837.2L1352.5,837.2M824.5,806.55L836.5,804.19L824.5,802.62M908.5,794.76L920.5,797.12L928.5,794.76L920.5,790.05L908.5,794.76M1352.5,797.12L1328.5,804.19L1352.5,808.91M1196.5,785.33L1208.5,788.87L1244.5,785.33L1208.5,781.8L1196.5,785.33M1248.5,775.9L1256.5,780.62L1304.5,782.29L1324.26,775.9L1316.5,766.47L1304.5,764.9L1256.5,764.11L1250.5,766.47L1248.5,775.9M824.5,749.18L848.5,747.61L824.5,745.25M1248.5,747.61L1256.5,749.97L1304.5,749.18L1328.5,747.61L1345.64,738.18L1322.5,728.75L1304.5,721.68L1268.5,728.75L1256.5,731.11L1220.5,738.18L1248.5,747.61M1143.36,738.18L1160.5,742.11L1200.5,738.18L1160.5,734.25L1143.36,738.18M919.38,719.32L920.5,719.62L922.05,719.32L920.5,719.02L919.38,719.32M1244.5,700.46L1256.5,705.17L1280.5,700.46L1280.5,691.03L1304.5,686.31L1312.5,681.6L1304.5,676.88L1280.5,672.17L1256.5,669.81L1232.5,672.17L1238.5,681.6L1232.5,691.03L1244.5,700.46M848.5,691.03L872.5,699.6L896.5,691.03L872.5,686.31L848.5,691.03M829.07,672.17L872.5,680.7L908.98,672.17L872.5,663.63L829.07,672.17M1248.5,653.31L1256.5,655.66L1268.5,653.31L1256.5,648.59L1248.5,653.31M862.07,625.01L872.5,628.16L888.5,625.01L872.5,622.96L862.07,625.01M932.5,625.01L968.5,627.84L992.5,625.01L968.5,622.18L932.5,625.01M824.5,621.07L852.41,615.58L824.5,612.44M854.5,606.15L872.5,612.05L896.5,606.15L872.5,602.62L854.5,606.15M1292.5,606.15L1304.5,610.87L1312.5,606.15L1304.5,604.3L1292.5,606.15M1352.5,610.87L1312.5,615.58L1328.5,625.01L1352.5,629.73M889.44,587.29L920.5,592.23L951.56,587.29L920.5,583.14L889.44,587.29M848.5,568.43L872.5,570.79L880.5,568.43L872.5,567.25L848.5,568.43M1273.64,559L1256.5,563.72L1248.5,568.43L1238.5,577.86L1208.5,587.29L1256.5,588.86L1268.5,587.29L1280.5,577.86L1304.5,572.81L1352.5,570M1352.5,563.72L1335.36,559M904.5,889.07L920.5,891.25L927.36,889.07L920.5,886.54L904.5,889.07M1352.5,896.14L1344.5,898.5M824.5,882L832.5,879.64L824.5,878.07M1251.7,860.78L1256.5,863.14L1304.5,862.11L1328.5,860.78L1304.5,858.42L1256.5,859.21L1251.7,860.78M1238.5,832.49L1256.5,835.32L1304.5,834.06L1328.5,832.49L1304.5,830.91L1256.5,827.77L1238.5,832.49M1352.5,801.84L1344.5,804.19L1352.5,805.77M1204.5,785.33L1208.5,786.51L1220.5,785.33L1208.5,784.15L1204.5,785.33M1300.14,775.9L1304.5,776.21L1305.44,775.9L1304.5,775.05L1300.14,775.9M1150.21,738.18L1160.5,740.54L1184.5,738.18L1160.5,735.82L1150.21,738.18M1244.5,738.18L1256.5,742.9L1304.5,745.72L1331.93,738.18L1310.5,728.75L1304.5,726.39L1292.5,728.75L1256.5,735.82L1244.5,738.18M1250.5,681.6L1256.5,686.31L1280.5,681.6L1256.5,676.88L1250.5,681.6M838.21,672.17L872.5,678.9L901.3,672.17L872.5,665.43L838.21,672.17M956.5,625.01L968.5,625.96L976.5,625.01L968.5,624.07L956.5,625.01M824.5,616.68L830.08,615.58L824.5,614.95M866.5,606.15L872.5,608.12L880.5,606.15L872.5,604.97L866.5,606.15M1352.5,612.75L1328.5,615.58L1352.5,622.66M900.74,587.29L920.5,590.44L940.26,587.29L920.5,584.65L900.74,587.29M1250.5,577.86L1256.5,582.58L1264.5,577.86L1256.5,573.15L1250.5,577.86M1286.5,568.43L1304.5,569.44L1322.5,568.43L1304.5,561.36L1286.5,568.43M1250.5,832.49L1256.5,833.43L1280.5,832.49L1256.5,830.91L1250.5,832.49M1157.07,738.18L1160.5,738.97L1168.5,738.18L1160.5,737.39L1157.07,738.18M1272.5,738.18L1304.5,741.95L1318.21,738.18L1304.5,731.89L1272.5,738.18M847.36,672.17L872.5,677.11L893.62,672.17L872.5,667.23L847.36,672.17M1352.5,614.64L1344.5,615.58L1352.5,617.94M912.03,587.29L920.5,588.64L928.97,587.29L920.5,586.16L912.03,587.29M856.5,672.17L872.5,675.31L885.94,672.17L872.5,669.02L856.5,672.17M865.64,672.17L872.5,673.51L878.26,672.17L872.5,670.82L865.64,672.17"/>
</g>
<rect x="824.5" y="559.0" width="528.0" height="339.5" fill="none" stroke="#000" stroke-width="1.3"/>
<path stroke="#000" stroke-width="1.3" d="M872.5,898.5V893.2M872.5,559V564.3M968.5,898.5V893.2M968.5,559V564.3M1064.5,898.5V893.2M1064.5,559V564.3M1160.5,898.5V893.2M1160.5,559V564.3M1256.5,898.5V893.2M1256.5,559V564.3M1352.5,898.5V893.2M1352.5,559V564.3M824.5,898.5H829.8M1352.5,898.5H1347.2M824.5,804.19H829.8M1352.5,804.19H1347.2M824.5,709.89H829.8M1352.5,709.89H1347.2M824.5,615.58H829.8M1352.5,615.58H1347.2"/>
<text class="t" x="872.5" y="937.1" text-anchor="middle">2</text>
<text class="t" x="968.5" y="937.1" text-anchor="middle">4</text>
<text class="t" x="1064.5" y="937.1" text-anchor="middle">6</text>
<text class="t" x="1160.5" y="937.1" text-anchor="middle">8</text>
<text class="t" x="1256.5" y="937.1" text-anchor="middle">10</text>
<text class="t" x="1352.5" y="937.1" text-anchor="middle">12</text>
<text class="t" x="817.7" y="910.8" text-anchor="end">1980</text>
<text class="t" x="817.7" y="816.49" text-anchor="end">1990</text>
<text class="t" x="817.7" y="722.19" text-anchor="end">2000</text>
<text class="t" x="817.7" y="627.88" text-anchor="end">2010</text>
<text class="l" x="1090" y="973.5" text-anchor="middle">Month</text>
<text class="l" style="font-size:36px;letter-spacing:0.4px" transform="translate(725.3,727.55) rotate(-90)" x="0" y="0" text-anchor="middle">Year</text>
<text class="l" x="1089.3" y="531" text-anchor="middle">TG</text>
<rect x="1401" y="606.47" width="48" height="5.93" fill="#00008f"/>
<rect x="1401" y="601.14" width="48" height="5.93" fill="#00009f"/>
<rect x="1401" y="595.82" width="48" height="5.93" fill="#0000af"/>
<rect x="1401" y="590.49" width="48" height="5.93" fill="#0000bf"/>
<rect x="1401" y="585.16" width="48" height="5.93" fill="#0000cf"/>
<rect x="1401" y="579.83" width="48" height="5.93" fill="#0000df"/>
<rect x="1401" y="574.5" width="48" height="5.93" fill="#0000ef"/>
<rect x="1401" y="569.17" width="48" height="5.93" fill="#0000ff"/>
<rect x="1401" y="563.85" width="48" height="5.93" fill="#0010ff"/>
<rect x="1401" y="558.52" width="48" height="5.93" fill="#0020ff"/>
<rect x="1401" y="553.19" width="48" height="5.93" fill="#0030ff"/>
<rect x="1401" y="547.86" width="48" height="5.93" fill="#0040ff"/>
<rect x="1401" y="542.53" width="48" height="5.93" fill="#0050ff"/>
<rect x="1401" y="537.21" width="48" height="5.93" fill="#0060ff"/>
<rect x="1401" y="531.88" width="48" height="5.93" fill="#0070ff"/>
<rect x="1401" y="526.55" width="48" height="5.93" fill="#0080ff"/>
<rect x="1401" y="521.22" width="48" height="5.93" fill="#008fff"/>
<rect x="1401" y="515.89" width="48" height="5.93" fill="#009fff"/>
<rect x="1401" y="510.57" width="48" height="5.93" fill="#00afff"/>
<rect x="1401" y="505.24" width="48" height="5.93" fill="#00bfff"/>
<rect x="1401" y="499.91" width="48" height="5.93" fill="#00cfff"/>
<rect x="1401" y="494.58" width="48" height="5.93" fill="#00dfff"/>
<rect x="1401" y="489.25" width="48" height="5.93" fill="#00efff"/>
<rect x="1401" y="483.92" width="48" height="5.93" fill="#00ffff"/>
<rect x="1401" y="478.6" width="48" height="5.93" fill="#10ffef"/>
<rect x="1401" y="473.27" width="48" height="5.93" fill="#20ffdf"/>
<rect x="1401" y="467.94" width="48" height="5.93" fill="#30ffcf"/>
<rect x="1401" y="462.61" width="48" height="5.93" fill="#40ffbf"/>
<rect x="1401" y="457.28" width="48" height="5.93" fill="#50ffaf"/>
<rect x="1401" y="451.96" width="48" height="5.93" fill="#60ff9f"/>
<rect x="1401" y="446.63" width="48" height="5.93" fill="#70ff8f"/>
<rect x="1401" y="441.3" width="48" height="5.93" fill="#80ff80"/>
<rect x="1401" y="435.97" width="48" height="5.93" fill="#8fff70"/>
<rect x="1401" y="430.64" width="48" height="5.93" fill="#9fff60"/>
<rect x="1401" y="425.32" width="48" height="5.93" fill="#afff50"/>
<rect x="1401" y="419.99" width="48" height="5.93" fill="#bfff40"/>
<rect x="1401" y="414.66" width="48" height="5.93" fill="#cfff30"/>
<rect x="1401" y="409.33" width="48" height="5.93" fill="#dfff20"/>
<rect x="1401" y="404" width="48" height="5.93" fill="#efff10"/>
<rect x="1401" y="398.67" width="48" height="5.93" fill="#ffff00"/>
<rect x="1401" y="393.35" width="48" height="5.93" fill="#ffef00"/>
<rect x="1401" y="388.02" width="48" height="5.93" fill="#ffdf00"/>
<rect x="1401" y="382.69" width="48" height="5.93" fill="#ffcf00"/>
<rect x="1401" y="377.36" width="48" height="5.93" fill="#ffbf00"/>
<rect x="1401" y="372.03" width="48" height="5.93" fill="#ffaf00"/>
<rect x="1401" y="366.71" width="48" height="5.93" fill="#ff9f00"/>
<rect x="1401" y="361.38" width="48" height="5.93" fill="#ff8f00"/>
<rect x="1401" y="356.05" width="48" height="5.93" fill="#ff8000"/>
<rect x="1401" y="350.72" width="48" height="5.93" fill="#ff7000"/>
<rect x="1401" y="345.39" width="48" height="5.93" fill="#ff6000"/>
<rect x="1401" y="340.07" width="48" height="5.93" fill="#ff5000"/>
<rect x="1401" y="334.74" width="48" height="5.93" fill="#ff4000"/>
<rect x="1401" y="329.41" width="48" height="5.93" fill="#ff3000"/>
<rect x="1401" y="324.08" width="48" height="5.93" fill="#ff2000"/>
<rect x="1401" y="318.75" width="48" height="5.93" fill="#ff1000"/>
<rect x="1401" y="313.43" width="48" height="5.93" fill="#ff0000"/>
<rect x="1401" y="308.1" width="48" height="5.93" fill="#ef0000"/>
<rect x="1401" y="302.77" width="48" height="5.93" fill="#df0000"/>
<rect x="1401" y="297.44" width="48" height="5.93" fill="#cf0000"/>
<rect x="1401" y="292.11" width="48" height="5.93" fill="#bf0000"/>
<rect x="1401" y="286.78" width="48" height="5.93" fill="#af0000"/>
<rect x="1401" y="281.46" width="48" height="5.93" fill="#9f0000"/>
<rect x="1401" y="276.13" width="48" height="5.93" fill="#8f0000"/>
<rect x="1401" y="270.8" width="48" height="5.93" fill="#800000"/>
<rect x="1401" y="270.8" width="48" height="340.99999999999994" fill="none" stroke="#000" stroke-width="1.3"/>
<text class="c" x="1455.5" y="552.6">50</text>
<text class="c" x="1455.5" y="438.93">100</text>
<text class="c" x="1455.5" y="325.27">150</text>
<path stroke="#000" stroke-width="1.3" d="M1401,543.6H1405M1449,543.6H1445M1401,429.93H1405M1449,429.93H1445M1401,316.27H1405M1449,316.27H1445"/>
</svg>
</body></html>
